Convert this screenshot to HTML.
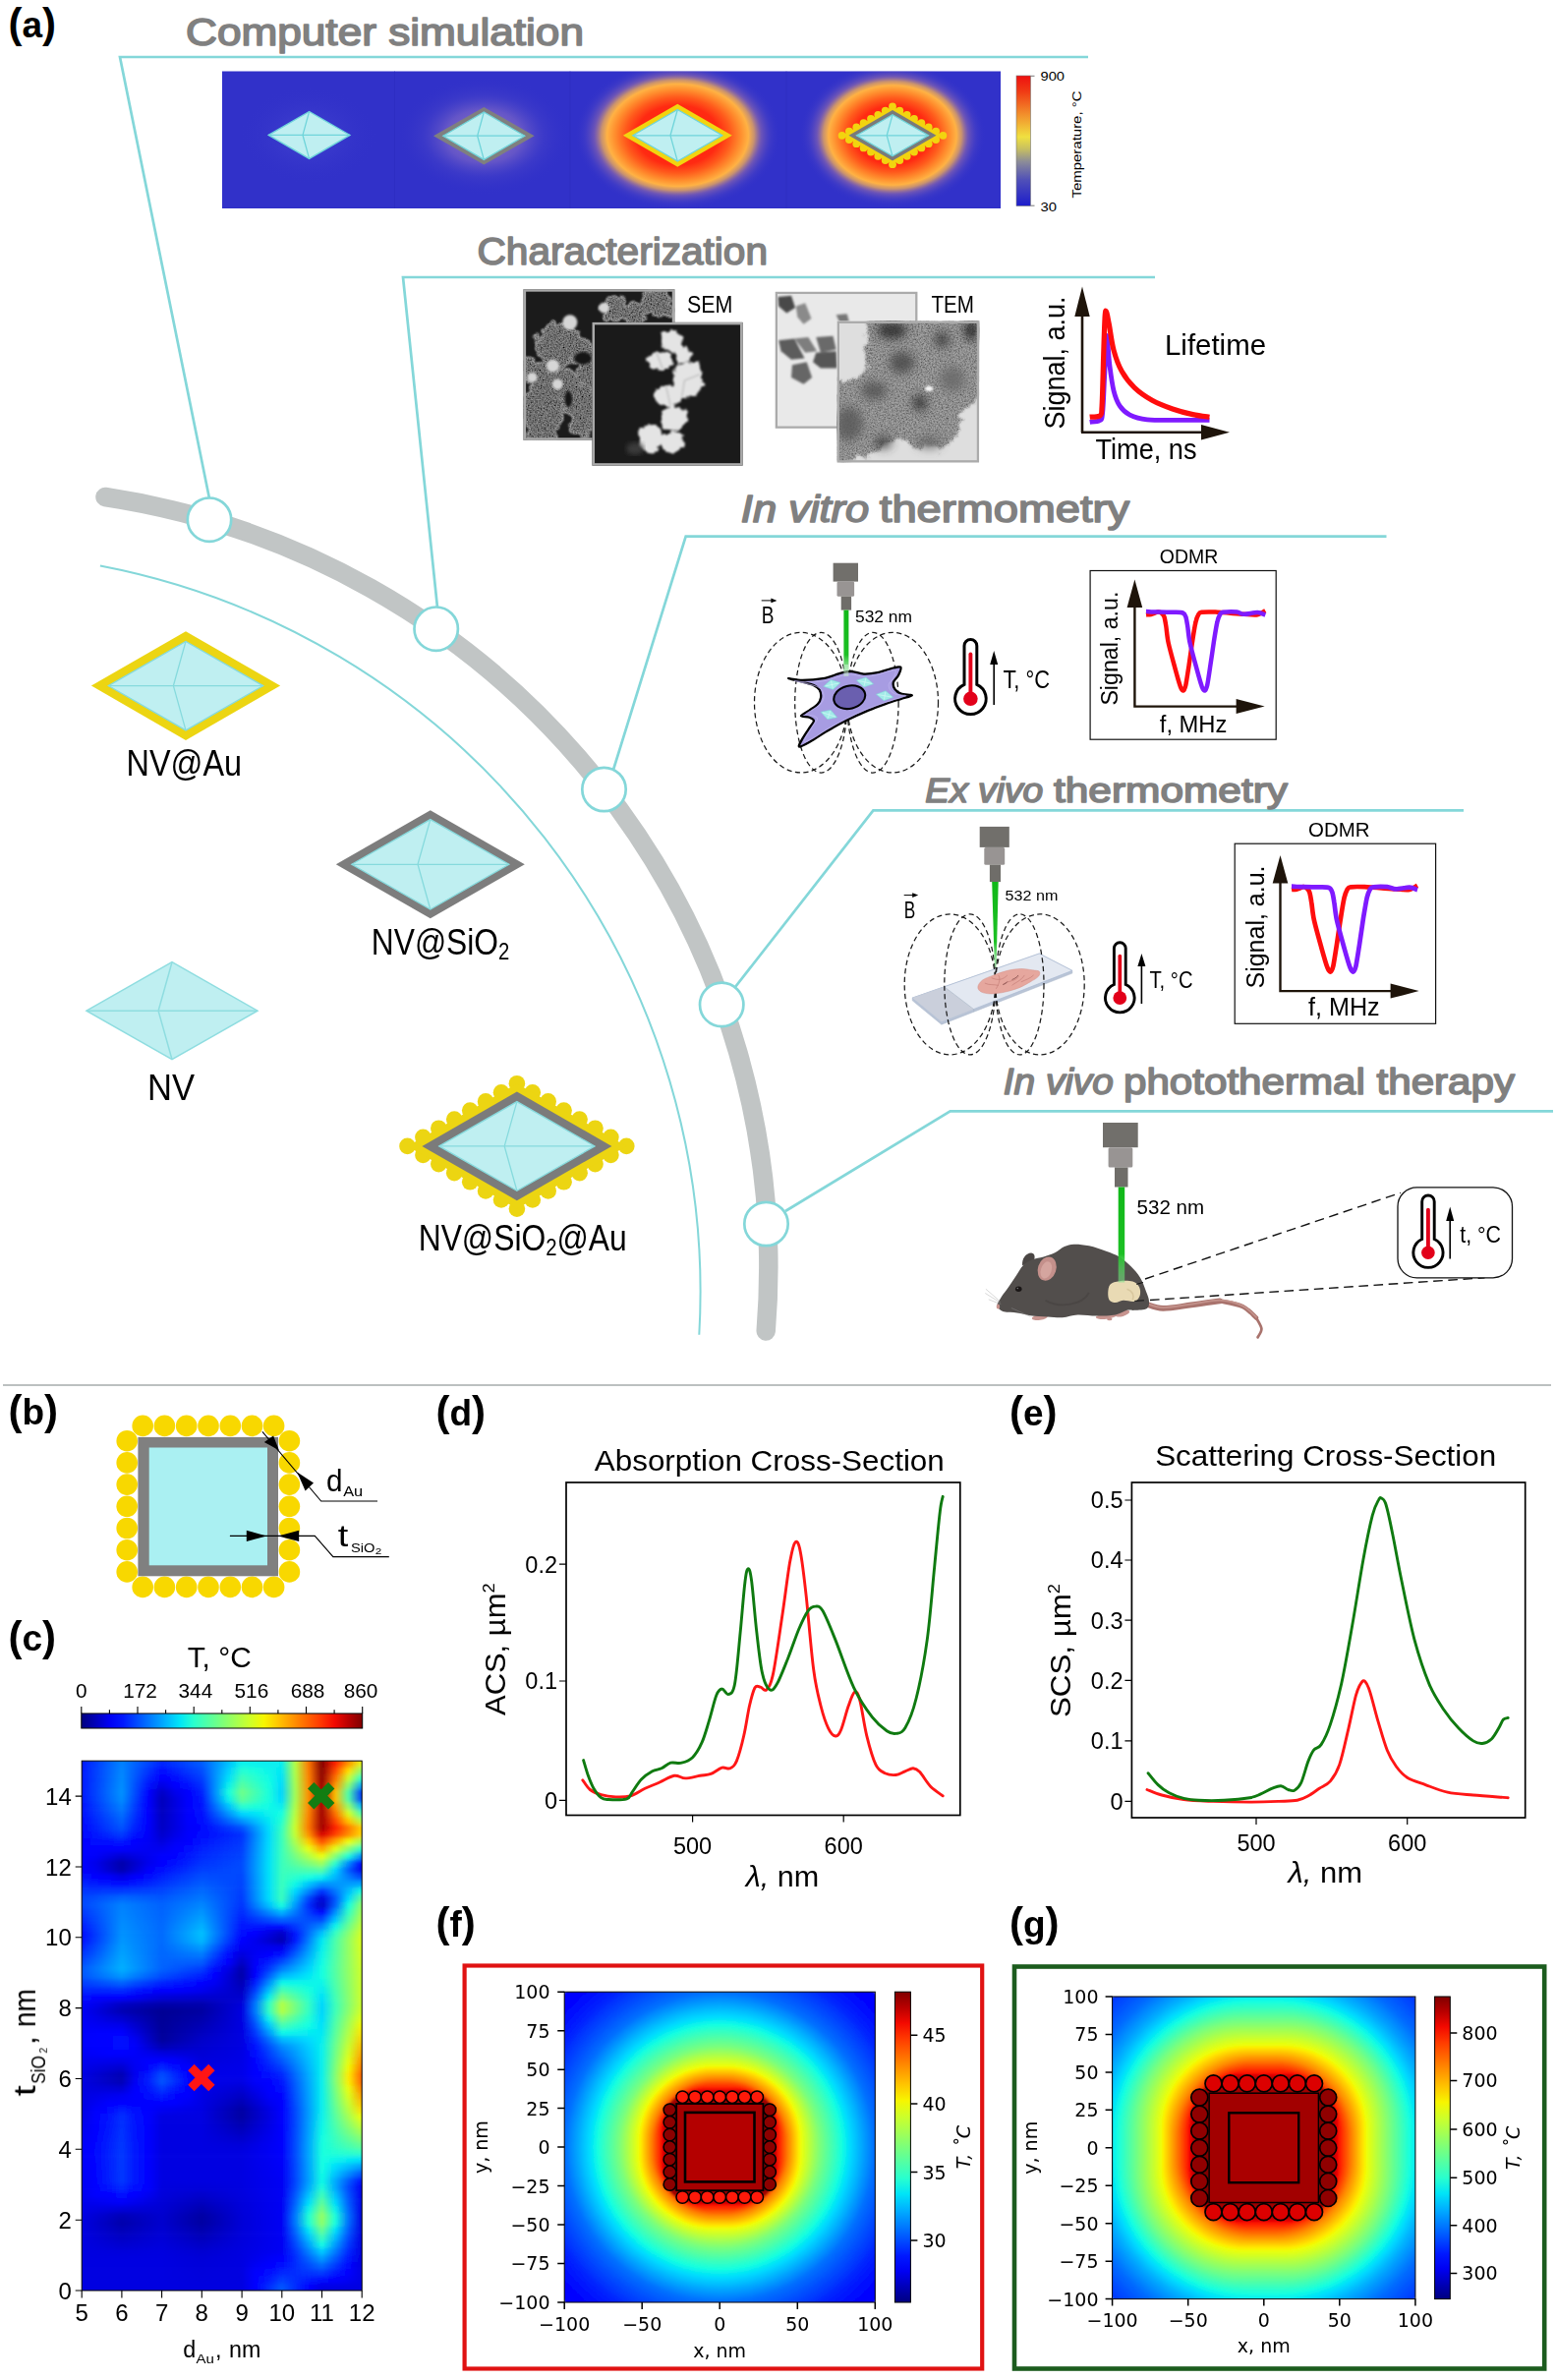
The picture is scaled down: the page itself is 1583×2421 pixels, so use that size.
<!DOCTYPE html>
<html lang="en"><head><meta charset="utf-8"><title>Figure</title>
<style>
html,body{margin:0;padding:0;background:#fff}
svg{display:block}
text{font-family:"Liberation Sans",Arial,sans-serif}
.dj{font-family:"DejaVu Sans","Liberation Sans",sans-serif}
</style></head><body>
<svg width="1583" height="2421" viewBox="0 0 1583 2421">
<defs>
<radialGradient id="glow"><stop offset="0" stop-color="#ff1a10"/><stop offset="0.40" stop-color="#ff2a12"/><stop offset="0.51" stop-color="#ff5a1c"/><stop offset="0.61" stop-color="#ff8e2e"/><stop offset="0.685" stop-color="#ffb244"/><stop offset="0.74" stop-color="#e4a45e" stop-opacity="0.85"/><stop offset="0.81" stop-color="#a878a4" stop-opacity="0.5"/><stop offset="0.9" stop-color="#6a58c0" stop-opacity="0.22"/><stop offset="1" stop-color="#3131c9" stop-opacity="0"/></radialGradient>
<radialGradient id="softglow"><stop offset="0" stop-color="#5a5ad8" stop-opacity="0.5"/><stop offset="1" stop-color="#3131c9" stop-opacity="0"/></radialGradient>
<radialGradient id="pinkglow"><stop offset="0" stop-color="#e0b0c4" stop-opacity="0.6"/><stop offset="0.45" stop-color="#c096c4" stop-opacity="0.36"/><stop offset="0.7" stop-color="#7868c8" stop-opacity="0.14"/><stop offset="1" stop-color="#3131c9" stop-opacity="0"/></radialGradient>
<clipPath id="stripclip"><rect x="226" y="72.5" width="792" height="139.5"/></clipPath>
<linearGradient id="cb1" x1="0" y1="0" x2="0" y2="1"><stop offset="0" stop-color="#ee1010"/><stop offset="0.12" stop-color="#f03a14"/><stop offset="0.3" stop-color="#f2902c"/><stop offset="0.47" stop-color="#f0e040"/><stop offset="0.56" stop-color="#c8c060"/><stop offset="0.66" stop-color="#8c8c98"/><stop offset="0.8" stop-color="#5050b8"/><stop offset="1" stop-color="#1c1ccc"/></linearGradient>
<filter id="speck" x="0" y="0" width="100%" height="100%"><feTurbulence type="fractalNoise" baseFrequency="0.22" numOctaves="2" seed="3" result="n"/><feColorMatrix in="n" type="matrix" values="1.6 0 0 0 -0.25  1.6 0 0 0 -0.25  1.6 0 0 0 -0.25  0 0 0 0 1" result="g"/><feComposite in="g" in2="SourceGraphic" operator="in" result="c"/><feBlend in="c" in2="SourceGraphic" mode="multiply"/></filter>
<filter id="speck2" x="0" y="0" width="100%" height="100%"><feTurbulence type="fractalNoise" baseFrequency="0.2" numOctaves="3" seed="8" result="n"/><feColorMatrix in="n" type="matrix" values="1.4 0 0 0 0.05  1.4 0 0 0 0.05  1.4 0 0 0 0.05  0 0 0 0 1" result="g"/><feComposite in="g" in2="SourceGraphic" operator="in" result="c"/><feBlend in="c" in2="SourceGraphic" mode="multiply"/></filter>
<filter id="b1"><feGaussianBlur stdDeviation="1"/></filter>
<filter id="rough" x="-10%" y="-10%" width="120%" height="120%"><feTurbulence type="fractalNoise" baseFrequency="0.035" numOctaves="3" seed="5" result="t"/><feDisplacementMap in="SourceGraphic" in2="t" scale="46" xChannelSelector="R" yChannelSelector="G"/><feGaussianBlur stdDeviation="3"/></filter>
<filter id="rough2" x="-10%" y="-10%" width="120%" height="120%"><feTurbulence type="fractalNoise" baseFrequency="0.05" numOctaves="2" seed="11" result="t"/><feDisplacementMap in="SourceGraphic" in2="t" scale="22" xChannelSelector="R" yChannelSelector="G"/><feGaussianBlur stdDeviation="3.5"/></filter>
<filter id="s2"><feGaussianBlur stdDeviation="4"/></filter>
<filter id="s3"><feGaussianBlur stdDeviation="9"/></filter>
<filter id="s6"><feGaussianBlur stdDeviation="16"/></filter>
<filter id="b2"><feGaussianBlur stdDeviation="2"/></filter>
<filter id="b3"><feGaussianBlur stdDeviation="3.5"/></filter>
<filter id="b6"><feGaussianBlur stdDeviation="6"/></filter>
<clipPath id="semb"><rect x="40" y="45" width="488" height="488"/></clipPath>
<clipPath id="semf"><rect x="262" y="152" width="486" height="463"/></clipPath>
<clipPath id="temb"><rect x="853" y="53" width="460" height="442"/></clipPath>
<clipPath id="temf"><rect x="1053" y="148" width="459" height="457"/></clipPath>
<linearGradient id="beam" x1="0" y1="0" x2="0" y2="1"><stop offset="0" stop-color="#10b818"/><stop offset="0.7" stop-color="#1cc024"/><stop offset="1" stop-color="#7fe08a" stop-opacity="0.55"/></linearGradient>
<linearGradient id="jetH"><stop offset="0.000" stop-color="#000080"/><stop offset="0.050" stop-color="#0000b9"/><stop offset="0.100" stop-color="#0000f3"/><stop offset="0.150" stop-color="#0019ff"/><stop offset="0.200" stop-color="#004dff"/><stop offset="0.250" stop-color="#0080ff"/><stop offset="0.300" stop-color="#00b2ff"/><stop offset="0.350" stop-color="#00e5f7"/><stop offset="0.400" stop-color="#29ffce"/><stop offset="0.450" stop-color="#52ffa5"/><stop offset="0.500" stop-color="#7bff7b"/><stop offset="0.550" stop-color="#a5ff52"/><stop offset="0.600" stop-color="#ceff29"/><stop offset="0.650" stop-color="#f7f600"/><stop offset="0.700" stop-color="#ffc600"/><stop offset="0.750" stop-color="#ff9700"/><stop offset="0.800" stop-color="#ff6800"/><stop offset="0.850" stop-color="#ff3900"/><stop offset="0.900" stop-color="#f30900"/><stop offset="0.950" stop-color="#b90000"/><stop offset="1.000" stop-color="#800000"/></linearGradient>
<linearGradient id="jetV" x1="0" y1="1" x2="0" y2="0"><stop offset="0.000" stop-color="#000080"/><stop offset="0.050" stop-color="#0000b9"/><stop offset="0.100" stop-color="#0000f3"/><stop offset="0.150" stop-color="#0019ff"/><stop offset="0.200" stop-color="#004dff"/><stop offset="0.250" stop-color="#0080ff"/><stop offset="0.300" stop-color="#00b2ff"/><stop offset="0.350" stop-color="#00e5f7"/><stop offset="0.400" stop-color="#29ffce"/><stop offset="0.450" stop-color="#52ffa5"/><stop offset="0.500" stop-color="#7bff7b"/><stop offset="0.550" stop-color="#a5ff52"/><stop offset="0.600" stop-color="#ceff29"/><stop offset="0.650" stop-color="#f7f600"/><stop offset="0.700" stop-color="#ffc600"/><stop offset="0.750" stop-color="#ff9700"/><stop offset="0.800" stop-color="#ff6800"/><stop offset="0.850" stop-color="#ff3900"/><stop offset="0.900" stop-color="#f30900"/><stop offset="0.950" stop-color="#b90000"/><stop offset="1.000" stop-color="#800000"/></linearGradient>
<clipPath id="hmclip"><rect x="83.2" y="1791.2" width="285" height="538.8"/></clipPath>
<filter id="vb" x="-5%" y="-5%" width="110%" height="110%"><feGaussianBlur stdDeviation="1.6 2.2"/></filter>
<linearGradient id="h0" gradientUnits="userSpaceOnUse" x1="83.2" x2="368.2"><stop offset="0.000" stop-color="#0019ff"/><stop offset="0.048" stop-color="#003cff"/><stop offset="0.095" stop-color="#005eff"/><stop offset="0.143" stop-color="#0080ff"/><stop offset="0.190" stop-color="#0064ff"/><stop offset="0.238" stop-color="#0049ff"/><stop offset="0.286" stop-color="#002eff"/><stop offset="0.333" stop-color="#003fff"/><stop offset="0.381" stop-color="#0050ff"/><stop offset="0.429" stop-color="#0061ff"/><stop offset="0.476" stop-color="#008dff"/><stop offset="0.524" stop-color="#00b9ff"/><stop offset="0.571" stop-color="#00e5f7"/><stop offset="0.619" stop-color="#03e9f4"/><stop offset="0.667" stop-color="#05ecf1"/><stop offset="0.714" stop-color="#08f0ef"/><stop offset="0.762" stop-color="#b8ff3f"/><stop offset="0.810" stop-color="#ff7400"/><stop offset="0.857" stop-color="#800000"/><stop offset="0.905" stop-color="#fb1000"/><stop offset="0.952" stop-color="#ff7400"/><stop offset="1" stop-color="#ffd900"/></linearGradient>
<linearGradient id="h1" gradientUnits="userSpaceOnUse" x1="83.2" x2="368.2"><stop offset="0.000" stop-color="#0019ff"/><stop offset="0.048" stop-color="#003cff"/><stop offset="0.095" stop-color="#005eff"/><stop offset="0.143" stop-color="#0080ff"/><stop offset="0.190" stop-color="#0064ff"/><stop offset="0.238" stop-color="#0049ff"/><stop offset="0.286" stop-color="#002eff"/><stop offset="0.333" stop-color="#003fff"/><stop offset="0.381" stop-color="#0050ff"/><stop offset="0.429" stop-color="#0061ff"/><stop offset="0.476" stop-color="#008dff"/><stop offset="0.524" stop-color="#00b9ff"/><stop offset="0.571" stop-color="#00e5f7"/><stop offset="0.619" stop-color="#03e9f4"/><stop offset="0.667" stop-color="#05ecf1"/><stop offset="0.714" stop-color="#08f0ef"/><stop offset="0.762" stop-color="#b8ff3f"/><stop offset="0.810" stop-color="#ff7400"/><stop offset="0.857" stop-color="#800000"/><stop offset="0.905" stop-color="#fb1000"/><stop offset="0.952" stop-color="#ff7400"/><stop offset="1" stop-color="#ffd900"/></linearGradient>
<linearGradient id="h2" gradientUnits="userSpaceOnUse" x1="83.2" x2="368.2"><stop offset="0.000" stop-color="#001aff"/><stop offset="0.048" stop-color="#003cff"/><stop offset="0.095" stop-color="#005fff"/><stop offset="0.143" stop-color="#0082ff"/><stop offset="0.190" stop-color="#0062ff"/><stop offset="0.238" stop-color="#0042ff"/><stop offset="0.286" stop-color="#0022ff"/><stop offset="0.333" stop-color="#0034ff"/><stop offset="0.381" stop-color="#0047ff"/><stop offset="0.429" stop-color="#005aff"/><stop offset="0.476" stop-color="#008dff"/><stop offset="0.524" stop-color="#00c1ff"/><stop offset="0.571" stop-color="#0cf5ea"/><stop offset="0.619" stop-color="#0af2ed"/><stop offset="0.667" stop-color="#08efef"/><stop offset="0.714" stop-color="#06edf1"/><stop offset="0.762" stop-color="#b5ff42"/><stop offset="0.810" stop-color="#ff7700"/><stop offset="0.857" stop-color="#830000"/><stop offset="0.905" stop-color="#ff2300"/><stop offset="0.952" stop-color="#ff9900"/><stop offset="1" stop-color="#e1ff15"/></linearGradient>
<linearGradient id="h3" gradientUnits="userSpaceOnUse" x1="83.2" x2="368.2"><stop offset="0.000" stop-color="#0019ff"/><stop offset="0.048" stop-color="#003eff"/><stop offset="0.095" stop-color="#0062ff"/><stop offset="0.143" stop-color="#0086ff"/><stop offset="0.190" stop-color="#005cff"/><stop offset="0.238" stop-color="#0033ff"/><stop offset="0.286" stop-color="#0009ff"/><stop offset="0.333" stop-color="#001fff"/><stop offset="0.381" stop-color="#0035ff"/><stop offset="0.429" stop-color="#004bff"/><stop offset="0.476" stop-color="#008eff"/><stop offset="0.524" stop-color="#00d1ff"/><stop offset="0.571" stop-color="#25ffd2"/><stop offset="0.619" stop-color="#19ffde"/><stop offset="0.667" stop-color="#0df5ea"/><stop offset="0.714" stop-color="#01e7f6"/><stop offset="0.762" stop-color="#b0ff46"/><stop offset="0.810" stop-color="#ff7d00"/><stop offset="0.857" stop-color="#8a0000"/><stop offset="0.905" stop-color="#ff4a00"/><stop offset="0.952" stop-color="#ffe100"/><stop offset="1" stop-color="#85ff72"/></linearGradient>
<linearGradient id="h4" gradientUnits="userSpaceOnUse" x1="83.2" x2="368.2"><stop offset="0.000" stop-color="#0019ff"/><stop offset="0.048" stop-color="#003fff"/><stop offset="0.095" stop-color="#0064ff"/><stop offset="0.143" stop-color="#008aff"/><stop offset="0.190" stop-color="#0057ff"/><stop offset="0.238" stop-color="#0024ff"/><stop offset="0.286" stop-color="#0000ff"/><stop offset="0.333" stop-color="#000aff"/><stop offset="0.381" stop-color="#0024ff"/><stop offset="0.429" stop-color="#003dff"/><stop offset="0.476" stop-color="#008fff"/><stop offset="0.524" stop-color="#00e0fb"/><stop offset="0.571" stop-color="#3effb9"/><stop offset="0.619" stop-color="#28ffcf"/><stop offset="0.667" stop-color="#12fce5"/><stop offset="0.714" stop-color="#00e0fb"/><stop offset="0.762" stop-color="#abff4b"/><stop offset="0.810" stop-color="#ff8300"/><stop offset="0.857" stop-color="#910000"/><stop offset="0.905" stop-color="#ff7100"/><stop offset="0.952" stop-color="#caff2d"/><stop offset="1" stop-color="#29ffce"/></linearGradient>
<linearGradient id="h5" gradientUnits="userSpaceOnUse" x1="83.2" x2="368.2"><stop offset="0.000" stop-color="#0019ff"/><stop offset="0.048" stop-color="#0040ff"/><stop offset="0.095" stop-color="#0067ff"/><stop offset="0.143" stop-color="#008eff"/><stop offset="0.190" stop-color="#0051ff"/><stop offset="0.238" stop-color="#0015ff"/><stop offset="0.286" stop-color="#0000e3"/><stop offset="0.333" stop-color="#0000ff"/><stop offset="0.381" stop-color="#0012ff"/><stop offset="0.429" stop-color="#002fff"/><stop offset="0.476" stop-color="#008fff"/><stop offset="0.524" stop-color="#08f0ee"/><stop offset="0.571" stop-color="#56ffa0"/><stop offset="0.619" stop-color="#37ffc0"/><stop offset="0.667" stop-color="#17ffe0"/><stop offset="0.714" stop-color="#00daff"/><stop offset="0.762" stop-color="#a6ff50"/><stop offset="0.810" stop-color="#ff8800"/><stop offset="0.857" stop-color="#980000"/><stop offset="0.905" stop-color="#ff9800"/><stop offset="0.952" stop-color="#8aff6c"/><stop offset="1" stop-color="#00a6ff"/></linearGradient>
<linearGradient id="h6" gradientUnits="userSpaceOnUse" x1="83.2" x2="368.2"><stop offset="0.000" stop-color="#0019ff"/><stop offset="0.048" stop-color="#0042ff"/><stop offset="0.095" stop-color="#006aff"/><stop offset="0.143" stop-color="#0092ff"/><stop offset="0.190" stop-color="#004cff"/><stop offset="0.238" stop-color="#0006ff"/><stop offset="0.286" stop-color="#0000c7"/><stop offset="0.333" stop-color="#0000ec"/><stop offset="0.381" stop-color="#0000ff"/><stop offset="0.429" stop-color="#0021ff"/><stop offset="0.476" stop-color="#0090ff"/><stop offset="0.524" stop-color="#15ffe2"/><stop offset="0.571" stop-color="#6fff88"/><stop offset="0.619" stop-color="#45ffb1"/><stop offset="0.667" stop-color="#1cffdb"/><stop offset="0.714" stop-color="#00d4ff"/><stop offset="0.762" stop-color="#a2ff55"/><stop offset="0.810" stop-color="#ff8e00"/><stop offset="0.857" stop-color="#9f0000"/><stop offset="0.905" stop-color="#ffbf00"/><stop offset="0.952" stop-color="#4bffab"/><stop offset="1" stop-color="#0034ff"/></linearGradient>
<linearGradient id="h7" gradientUnits="userSpaceOnUse" x1="83.2" x2="368.2"><stop offset="0.000" stop-color="#0017ff"/><stop offset="0.048" stop-color="#003fff"/><stop offset="0.095" stop-color="#0066ff"/><stop offset="0.143" stop-color="#008dff"/><stop offset="0.190" stop-color="#0045ff"/><stop offset="0.238" stop-color="#0000ff"/><stop offset="0.286" stop-color="#0000bb"/><stop offset="0.333" stop-color="#0000e0"/><stop offset="0.381" stop-color="#0000ff"/><stop offset="0.429" stop-color="#0017ff"/><stop offset="0.476" stop-color="#0084ff"/><stop offset="0.524" stop-color="#09f0ee"/><stop offset="0.571" stop-color="#60ff97"/><stop offset="0.619" stop-color="#3dffba"/><stop offset="0.667" stop-color="#1affdd"/><stop offset="0.714" stop-color="#00daff"/><stop offset="0.762" stop-color="#a4ff53"/><stop offset="0.810" stop-color="#ff8e00"/><stop offset="0.857" stop-color="#a20000"/><stop offset="0.905" stop-color="#ffbf00"/><stop offset="0.952" stop-color="#4effa8"/><stop offset="1" stop-color="#003bff"/></linearGradient>
<linearGradient id="h8" gradientUnits="userSpaceOnUse" x1="83.2" x2="368.2"><stop offset="0.000" stop-color="#0013ff"/><stop offset="0.048" stop-color="#0037ff"/><stop offset="0.095" stop-color="#005bff"/><stop offset="0.143" stop-color="#007eff"/><stop offset="0.190" stop-color="#003cff"/><stop offset="0.238" stop-color="#0000ff"/><stop offset="0.286" stop-color="#0000bd"/><stop offset="0.333" stop-color="#0000e0"/><stop offset="0.381" stop-color="#0000ff"/><stop offset="0.429" stop-color="#0013ff"/><stop offset="0.476" stop-color="#006bff"/><stop offset="0.524" stop-color="#00c2ff"/><stop offset="0.571" stop-color="#2affcd"/><stop offset="0.619" stop-color="#1effd9"/><stop offset="0.667" stop-color="#12fce5"/><stop offset="0.714" stop-color="#06edf1"/><stop offset="0.762" stop-color="#aeff49"/><stop offset="0.810" stop-color="#ff8800"/><stop offset="0.857" stop-color="#a20000"/><stop offset="0.905" stop-color="#ff9700"/><stop offset="0.952" stop-color="#94ff63"/><stop offset="1" stop-color="#00bcff"/></linearGradient>
<linearGradient id="h9" gradientUnits="userSpaceOnUse" x1="83.2" x2="368.2"><stop offset="0.000" stop-color="#000fff"/><stop offset="0.048" stop-color="#0030ff"/><stop offset="0.095" stop-color="#0050ff"/><stop offset="0.143" stop-color="#0070ff"/><stop offset="0.190" stop-color="#0033ff"/><stop offset="0.238" stop-color="#0000ff"/><stop offset="0.286" stop-color="#0000bf"/><stop offset="0.333" stop-color="#0000e0"/><stop offset="0.381" stop-color="#0000ff"/><stop offset="0.429" stop-color="#000fff"/><stop offset="0.476" stop-color="#0052ff"/><stop offset="0.524" stop-color="#0094ff"/><stop offset="0.571" stop-color="#00d6ff"/><stop offset="0.619" stop-color="#00e4f8"/><stop offset="0.667" stop-color="#0af1ed"/><stop offset="0.714" stop-color="#15ffe2"/><stop offset="0.762" stop-color="#b8ff3f"/><stop offset="0.810" stop-color="#ff8300"/><stop offset="0.857" stop-color="#a20000"/><stop offset="0.905" stop-color="#ff7000"/><stop offset="0.952" stop-color="#d9ff1e"/><stop offset="1" stop-color="#46ffb1"/></linearGradient>
<linearGradient id="h10" gradientUnits="userSpaceOnUse" x1="83.2" x2="368.2"><stop offset="0.000" stop-color="#000bff"/><stop offset="0.048" stop-color="#0028ff"/><stop offset="0.095" stop-color="#0045ff"/><stop offset="0.143" stop-color="#0062ff"/><stop offset="0.190" stop-color="#002aff"/><stop offset="0.238" stop-color="#0000ff"/><stop offset="0.286" stop-color="#0000c2"/><stop offset="0.333" stop-color="#0000e0"/><stop offset="0.381" stop-color="#0000ff"/><stop offset="0.429" stop-color="#000bff"/><stop offset="0.476" stop-color="#0038ff"/><stop offset="0.524" stop-color="#0066ff"/><stop offset="0.571" stop-color="#0093ff"/><stop offset="0.619" stop-color="#00bdff"/><stop offset="0.667" stop-color="#01e7f5"/><stop offset="0.714" stop-color="#23ffd3"/><stop offset="0.762" stop-color="#c2ff35"/><stop offset="0.810" stop-color="#ff7d00"/><stop offset="0.857" stop-color="#a20000"/><stop offset="0.905" stop-color="#ff4800"/><stop offset="0.952" stop-color="#ffc900"/><stop offset="1" stop-color="#aeff49"/></linearGradient>
<linearGradient id="h11" gradientUnits="userSpaceOnUse" x1="83.2" x2="368.2"><stop offset="0.000" stop-color="#0007ff"/><stop offset="0.048" stop-color="#0021ff"/><stop offset="0.095" stop-color="#003aff"/><stop offset="0.143" stop-color="#0054ff"/><stop offset="0.190" stop-color="#0021ff"/><stop offset="0.238" stop-color="#0000fd"/><stop offset="0.286" stop-color="#0000c4"/><stop offset="0.333" stop-color="#0000e0"/><stop offset="0.381" stop-color="#0000fc"/><stop offset="0.429" stop-color="#0007ff"/><stop offset="0.476" stop-color="#001fff"/><stop offset="0.524" stop-color="#0037ff"/><stop offset="0.571" stop-color="#0050ff"/><stop offset="0.619" stop-color="#0096ff"/><stop offset="0.667" stop-color="#00ddfe"/><stop offset="0.714" stop-color="#32ffc5"/><stop offset="0.762" stop-color="#cbff2b"/><stop offset="0.810" stop-color="#ff7700"/><stop offset="0.857" stop-color="#a20000"/><stop offset="0.905" stop-color="#ff2000"/><stop offset="0.952" stop-color="#ff7a00"/><stop offset="1" stop-color="#ffd300"/></linearGradient>
<linearGradient id="h12" gradientUnits="userSpaceOnUse" x1="83.2" x2="368.2"><stop offset="0.000" stop-color="#0004ff"/><stop offset="0.048" stop-color="#0016ff"/><stop offset="0.095" stop-color="#0028ff"/><stop offset="0.143" stop-color="#003aff"/><stop offset="0.190" stop-color="#0013ff"/><stop offset="0.238" stop-color="#0000fa"/><stop offset="0.286" stop-color="#0000cd"/><stop offset="0.333" stop-color="#0000e7"/><stop offset="0.381" stop-color="#0000ff"/><stop offset="0.429" stop-color="#000aff"/><stop offset="0.476" stop-color="#0017ff"/><stop offset="0.524" stop-color="#0024ff"/><stop offset="0.571" stop-color="#0031ff"/><stop offset="0.619" stop-color="#0085ff"/><stop offset="0.667" stop-color="#00d9ff"/><stop offset="0.714" stop-color="#3affbd"/><stop offset="0.762" stop-color="#c3ff33"/><stop offset="0.810" stop-color="#ff9200"/><stop offset="0.857" stop-color="#d90000"/><stop offset="0.905" stop-color="#ff4000"/><stop offset="0.952" stop-color="#ff8d00"/><stop offset="1" stop-color="#ffd900"/></linearGradient>
<linearGradient id="h13" gradientUnits="userSpaceOnUse" x1="83.2" x2="368.2"><stop offset="0.000" stop-color="#0002ff"/><stop offset="0.048" stop-color="#0009ff"/><stop offset="0.095" stop-color="#000fff"/><stop offset="0.143" stop-color="#0015ff"/><stop offset="0.190" stop-color="#0000ff"/><stop offset="0.238" stop-color="#0000f6"/><stop offset="0.286" stop-color="#0000dd"/><stop offset="0.333" stop-color="#0000f6"/><stop offset="0.381" stop-color="#0000ff"/><stop offset="0.429" stop-color="#0014ff"/><stop offset="0.476" stop-color="#0020ff"/><stop offset="0.524" stop-color="#002cff"/><stop offset="0.571" stop-color="#0037ff"/><stop offset="0.619" stop-color="#0089ff"/><stop offset="0.667" stop-color="#00dbff"/><stop offset="0.714" stop-color="#3affbd"/><stop offset="0.762" stop-color="#aaff4d"/><stop offset="0.810" stop-color="#ffcd00"/><stop offset="0.857" stop-color="#ff4d00"/><stop offset="0.905" stop-color="#ffa700"/><stop offset="0.952" stop-color="#ecff0b"/><stop offset="1" stop-color="#9cff5a"/></linearGradient>
<linearGradient id="h14" gradientUnits="userSpaceOnUse" x1="83.2" x2="368.2"><stop offset="0.000" stop-color="#0000ff"/><stop offset="0.048" stop-color="#0000ff"/><stop offset="0.095" stop-color="#0000ff"/><stop offset="0.143" stop-color="#0000ff"/><stop offset="0.190" stop-color="#0000f9"/><stop offset="0.238" stop-color="#0000f3"/><stop offset="0.286" stop-color="#0000ee"/><stop offset="0.333" stop-color="#0000ff"/><stop offset="0.381" stop-color="#000aff"/><stop offset="0.429" stop-color="#001fff"/><stop offset="0.476" stop-color="#0029ff"/><stop offset="0.524" stop-color="#0033ff"/><stop offset="0.571" stop-color="#003dff"/><stop offset="0.619" stop-color="#008dff"/><stop offset="0.667" stop-color="#00ddfe"/><stop offset="0.714" stop-color="#3affbd"/><stop offset="0.762" stop-color="#90ff67"/><stop offset="0.810" stop-color="#e6ff10"/><stop offset="0.857" stop-color="#ffa500"/><stop offset="0.905" stop-color="#e1ff16"/><stop offset="0.952" stop-color="#85ff72"/><stop offset="1" stop-color="#29ffce"/></linearGradient>
<linearGradient id="h15" gradientUnits="userSpaceOnUse" x1="83.2" x2="368.2"><stop offset="0.000" stop-color="#0000ff"/><stop offset="0.048" stop-color="#0000fb"/><stop offset="0.095" stop-color="#0000e8"/><stop offset="0.143" stop-color="#0000d5"/><stop offset="0.190" stop-color="#0000e3"/><stop offset="0.238" stop-color="#0000f0"/><stop offset="0.286" stop-color="#0000fe"/><stop offset="0.333" stop-color="#0003ff"/><stop offset="0.381" stop-color="#0016ff"/><stop offset="0.429" stop-color="#0029ff"/><stop offset="0.476" stop-color="#0032ff"/><stop offset="0.524" stop-color="#003aff"/><stop offset="0.571" stop-color="#0043ff"/><stop offset="0.619" stop-color="#0091ff"/><stop offset="0.667" stop-color="#00dffc"/><stop offset="0.714" stop-color="#3affbd"/><stop offset="0.762" stop-color="#76ff81"/><stop offset="0.810" stop-color="#b3ff44"/><stop offset="0.857" stop-color="#effe07"/><stop offset="0.905" stop-color="#87ff70"/><stop offset="0.952" stop-color="#1effd8"/><stop offset="1" stop-color="#008aff"/></linearGradient>
<linearGradient id="h16" gradientUnits="userSpaceOnUse" x1="83.2" x2="368.2"><stop offset="0.000" stop-color="#0000ff"/><stop offset="0.048" stop-color="#0000ec"/><stop offset="0.095" stop-color="#0000cc"/><stop offset="0.143" stop-color="#0000ac"/><stop offset="0.190" stop-color="#0000cc"/><stop offset="0.238" stop-color="#0000ed"/><stop offset="0.286" stop-color="#0000ff"/><stop offset="0.333" stop-color="#0010ff"/><stop offset="0.381" stop-color="#0021ff"/><stop offset="0.429" stop-color="#0033ff"/><stop offset="0.476" stop-color="#003aff"/><stop offset="0.524" stop-color="#0042ff"/><stop offset="0.571" stop-color="#0049ff"/><stop offset="0.619" stop-color="#0095ff"/><stop offset="0.667" stop-color="#00e1fa"/><stop offset="0.714" stop-color="#3affbd"/><stop offset="0.762" stop-color="#5cff9a"/><stop offset="0.810" stop-color="#7fff78"/><stop offset="0.857" stop-color="#a2ff55"/><stop offset="0.905" stop-color="#2dffca"/><stop offset="0.952" stop-color="#008cff"/><stop offset="1" stop-color="#0000ff"/></linearGradient>
<linearGradient id="h17" gradientUnits="userSpaceOnUse" x1="83.2" x2="368.2"><stop offset="0.000" stop-color="#0003ff"/><stop offset="0.048" stop-color="#0000f3"/><stop offset="0.095" stop-color="#0000d2"/><stop offset="0.143" stop-color="#0000b1"/><stop offset="0.190" stop-color="#0000d6"/><stop offset="0.238" stop-color="#0000fc"/><stop offset="0.286" stop-color="#000eff"/><stop offset="0.333" stop-color="#001fff"/><stop offset="0.381" stop-color="#002fff"/><stop offset="0.429" stop-color="#003fff"/><stop offset="0.476" stop-color="#0043ff"/><stop offset="0.524" stop-color="#0047ff"/><stop offset="0.571" stop-color="#004aff"/><stop offset="0.619" stop-color="#0096ff"/><stop offset="0.667" stop-color="#00e1fa"/><stop offset="0.714" stop-color="#3affbd"/><stop offset="0.762" stop-color="#43ffb4"/><stop offset="0.810" stop-color="#4cffab"/><stop offset="0.857" stop-color="#55ffa2"/><stop offset="0.905" stop-color="#00d6ff"/><stop offset="0.952" stop-color="#005cff"/><stop offset="1" stop-color="#0000f0"/></linearGradient>
<linearGradient id="h18" gradientUnits="userSpaceOnUse" x1="83.2" x2="368.2"><stop offset="0.000" stop-color="#0013ff"/><stop offset="0.048" stop-color="#0001ff"/><stop offset="0.095" stop-color="#0000fc"/><stop offset="0.143" stop-color="#0000e7"/><stop offset="0.190" stop-color="#0000ff"/><stop offset="0.238" stop-color="#000aff"/><stop offset="0.286" stop-color="#0021ff"/><stop offset="0.333" stop-color="#0030ff"/><stop offset="0.381" stop-color="#003fff"/><stop offset="0.429" stop-color="#004eff"/><stop offset="0.476" stop-color="#004bff"/><stop offset="0.524" stop-color="#0049ff"/><stop offset="0.571" stop-color="#0046ff"/><stop offset="0.619" stop-color="#0093ff"/><stop offset="0.667" stop-color="#00e0fb"/><stop offset="0.714" stop-color="#3affbd"/><stop offset="0.762" stop-color="#29ffce"/><stop offset="0.810" stop-color="#18ffdf"/><stop offset="0.857" stop-color="#07efef"/><stop offset="0.905" stop-color="#00b6ff"/><stop offset="0.952" stop-color="#007cff"/><stop offset="1" stop-color="#0043ff"/></linearGradient>
<linearGradient id="h19" gradientUnits="userSpaceOnUse" x1="83.2" x2="368.2"><stop offset="0.000" stop-color="#0024ff"/><stop offset="0.048" stop-color="#001bff"/><stop offset="0.095" stop-color="#0013ff"/><stop offset="0.143" stop-color="#000aff"/><stop offset="0.190" stop-color="#0018ff"/><stop offset="0.238" stop-color="#0025ff"/><stop offset="0.286" stop-color="#0033ff"/><stop offset="0.333" stop-color="#0041ff"/><stop offset="0.381" stop-color="#004eff"/><stop offset="0.429" stop-color="#005cff"/><stop offset="0.476" stop-color="#0053ff"/><stop offset="0.524" stop-color="#004bff"/><stop offset="0.571" stop-color="#0042ff"/><stop offset="0.619" stop-color="#0090ff"/><stop offset="0.667" stop-color="#00dffc"/><stop offset="0.714" stop-color="#3affbd"/><stop offset="0.762" stop-color="#0ff8e8"/><stop offset="0.810" stop-color="#00c3ff"/><stop offset="0.857" stop-color="#008fff"/><stop offset="0.905" stop-color="#0096ff"/><stop offset="0.952" stop-color="#009cff"/><stop offset="1" stop-color="#00a3ff"/></linearGradient>
<linearGradient id="h20" gradientUnits="userSpaceOnUse" x1="83.2" x2="368.2"><stop offset="0.000" stop-color="#0034ff"/><stop offset="0.048" stop-color="#0036ff"/><stop offset="0.095" stop-color="#0037ff"/><stop offset="0.143" stop-color="#0039ff"/><stop offset="0.190" stop-color="#003dff"/><stop offset="0.238" stop-color="#0041ff"/><stop offset="0.286" stop-color="#0045ff"/><stop offset="0.333" stop-color="#0052ff"/><stop offset="0.381" stop-color="#005eff"/><stop offset="0.429" stop-color="#006aff"/><stop offset="0.476" stop-color="#005bff"/><stop offset="0.524" stop-color="#004dff"/><stop offset="0.571" stop-color="#003eff"/><stop offset="0.619" stop-color="#008eff"/><stop offset="0.667" stop-color="#00ddfd"/><stop offset="0.714" stop-color="#3affbd"/><stop offset="0.762" stop-color="#00d8ff"/><stop offset="0.810" stop-color="#0084ff"/><stop offset="0.857" stop-color="#002fff"/><stop offset="0.905" stop-color="#0076ff"/><stop offset="0.952" stop-color="#00bcff"/><stop offset="1" stop-color="#18ffdf"/></linearGradient>
<linearGradient id="h21" gradientUnits="userSpaceOnUse" x1="83.2" x2="368.2"><stop offset="0.000" stop-color="#0044ff"/><stop offset="0.048" stop-color="#0050ff"/><stop offset="0.095" stop-color="#005cff"/><stop offset="0.143" stop-color="#0068ff"/><stop offset="0.190" stop-color="#0063ff"/><stop offset="0.238" stop-color="#005dff"/><stop offset="0.286" stop-color="#0058ff"/><stop offset="0.333" stop-color="#0063ff"/><stop offset="0.381" stop-color="#006dff"/><stop offset="0.429" stop-color="#0078ff"/><stop offset="0.476" stop-color="#0064ff"/><stop offset="0.524" stop-color="#004fff"/><stop offset="0.571" stop-color="#003aff"/><stop offset="0.619" stop-color="#008bff"/><stop offset="0.667" stop-color="#00dcfe"/><stop offset="0.714" stop-color="#3affbd"/><stop offset="0.762" stop-color="#00b8ff"/><stop offset="0.810" stop-color="#0044ff"/><stop offset="0.857" stop-color="#0000d9"/><stop offset="0.905" stop-color="#0056ff"/><stop offset="0.952" stop-color="#00dcfe"/><stop offset="1" stop-color="#65ff92"/></linearGradient>
<linearGradient id="h22" gradientUnits="userSpaceOnUse" x1="83.2" x2="368.2"><stop offset="0.000" stop-color="#0045ff"/><stop offset="0.048" stop-color="#0059ff"/><stop offset="0.095" stop-color="#006dff"/><stop offset="0.143" stop-color="#0082ff"/><stop offset="0.190" stop-color="#0077ff"/><stop offset="0.238" stop-color="#006cff"/><stop offset="0.286" stop-color="#0062ff"/><stop offset="0.333" stop-color="#006eff"/><stop offset="0.381" stop-color="#007aff"/><stop offset="0.429" stop-color="#0087ff"/><stop offset="0.476" stop-color="#006bff"/><stop offset="0.524" stop-color="#004fff"/><stop offset="0.571" stop-color="#0033ff"/><stop offset="0.619" stop-color="#0079ff"/><stop offset="0.667" stop-color="#00beff"/><stop offset="0.714" stop-color="#19ffde"/><stop offset="0.762" stop-color="#0098ff"/><stop offset="0.810" stop-color="#002cff"/><stop offset="0.857" stop-color="#0000c7"/><stop offset="0.905" stop-color="#005fff"/><stop offset="0.952" stop-color="#14fee3"/><stop offset="1" stop-color="#94ff63"/></linearGradient>
<linearGradient id="h23" gradientUnits="userSpaceOnUse" x1="83.2" x2="368.2"><stop offset="0.000" stop-color="#0037ff"/><stop offset="0.048" stop-color="#0051ff"/><stop offset="0.095" stop-color="#006bff"/><stop offset="0.143" stop-color="#0086ff"/><stop offset="0.190" stop-color="#007aff"/><stop offset="0.238" stop-color="#006fff"/><stop offset="0.286" stop-color="#0064ff"/><stop offset="0.333" stop-color="#0074ff"/><stop offset="0.381" stop-color="#0085ff"/><stop offset="0.429" stop-color="#0095ff"/><stop offset="0.476" stop-color="#0071ff"/><stop offset="0.524" stop-color="#004dff"/><stop offset="0.571" stop-color="#0029ff"/><stop offset="0.619" stop-color="#0057ff"/><stop offset="0.667" stop-color="#0085ff"/><stop offset="0.714" stop-color="#00b2ff"/><stop offset="0.762" stop-color="#0077ff"/><stop offset="0.810" stop-color="#003cff"/><stop offset="0.857" stop-color="#0001ff"/><stop offset="0.905" stop-color="#0091ff"/><stop offset="0.952" stop-color="#30ffc7"/><stop offset="1" stop-color="#a5ff52"/></linearGradient>
<linearGradient id="h24" gradientUnits="userSpaceOnUse" x1="83.2" x2="368.2"><stop offset="0.000" stop-color="#0029ff"/><stop offset="0.048" stop-color="#0049ff"/><stop offset="0.095" stop-color="#0069ff"/><stop offset="0.143" stop-color="#008aff"/><stop offset="0.190" stop-color="#007eff"/><stop offset="0.238" stop-color="#0072ff"/><stop offset="0.286" stop-color="#0066ff"/><stop offset="0.333" stop-color="#007aff"/><stop offset="0.381" stop-color="#008fff"/><stop offset="0.429" stop-color="#00a3ff"/><stop offset="0.476" stop-color="#0077ff"/><stop offset="0.524" stop-color="#004bff"/><stop offset="0.571" stop-color="#001fff"/><stop offset="0.619" stop-color="#0035ff"/><stop offset="0.667" stop-color="#004bff"/><stop offset="0.714" stop-color="#0061ff"/><stop offset="0.762" stop-color="#0057ff"/><stop offset="0.810" stop-color="#004dff"/><stop offset="0.857" stop-color="#0042ff"/><stop offset="0.905" stop-color="#00c3ff"/><stop offset="0.952" stop-color="#4dffaa"/><stop offset="1" stop-color="#b5ff42"/></linearGradient>
<linearGradient id="h25" gradientUnits="userSpaceOnUse" x1="83.2" x2="368.2"><stop offset="0.000" stop-color="#001bff"/><stop offset="0.048" stop-color="#0041ff"/><stop offset="0.095" stop-color="#0067ff"/><stop offset="0.143" stop-color="#008eff"/><stop offset="0.190" stop-color="#0081ff"/><stop offset="0.238" stop-color="#0075ff"/><stop offset="0.286" stop-color="#0068ff"/><stop offset="0.333" stop-color="#0081ff"/><stop offset="0.381" stop-color="#0099ff"/><stop offset="0.429" stop-color="#00b1ff"/><stop offset="0.476" stop-color="#007dff"/><stop offset="0.524" stop-color="#0049ff"/><stop offset="0.571" stop-color="#0014ff"/><stop offset="0.619" stop-color="#0013ff"/><stop offset="0.667" stop-color="#0011ff"/><stop offset="0.714" stop-color="#000fff"/><stop offset="0.762" stop-color="#0036ff"/><stop offset="0.810" stop-color="#005dff"/><stop offset="0.857" stop-color="#0084ff"/><stop offset="0.905" stop-color="#0df6ea"/><stop offset="0.952" stop-color="#69ff8d"/><stop offset="1" stop-color="#c5ff31"/></linearGradient>
<linearGradient id="h26" gradientUnits="userSpaceOnUse" x1="83.2" x2="368.2"><stop offset="0.000" stop-color="#000cff"/><stop offset="0.048" stop-color="#0039ff"/><stop offset="0.095" stop-color="#0065ff"/><stop offset="0.143" stop-color="#0092ff"/><stop offset="0.190" stop-color="#0085ff"/><stop offset="0.238" stop-color="#0077ff"/><stop offset="0.286" stop-color="#006aff"/><stop offset="0.333" stop-color="#0087ff"/><stop offset="0.381" stop-color="#00a3ff"/><stop offset="0.429" stop-color="#00c0ff"/><stop offset="0.476" stop-color="#0083ff"/><stop offset="0.524" stop-color="#0047ff"/><stop offset="0.571" stop-color="#000aff"/><stop offset="0.619" stop-color="#0000ff"/><stop offset="0.667" stop-color="#0000e2"/><stop offset="0.714" stop-color="#0000c5"/><stop offset="0.762" stop-color="#0015ff"/><stop offset="0.810" stop-color="#006dff"/><stop offset="0.857" stop-color="#00c5ff"/><stop offset="0.905" stop-color="#36ffc1"/><stop offset="0.952" stop-color="#86ff71"/><stop offset="1" stop-color="#d6ff21"/></linearGradient>
<linearGradient id="h27" gradientUnits="userSpaceOnUse" x1="83.2" x2="368.2"><stop offset="0.000" stop-color="#000eff"/><stop offset="0.048" stop-color="#003cff"/><stop offset="0.095" stop-color="#0069ff"/><stop offset="0.143" stop-color="#0097ff"/><stop offset="0.190" stop-color="#0088ff"/><stop offset="0.238" stop-color="#0079ff"/><stop offset="0.286" stop-color="#006aff"/><stop offset="0.333" stop-color="#0084ff"/><stop offset="0.381" stop-color="#009eff"/><stop offset="0.429" stop-color="#00b8ff"/><stop offset="0.476" stop-color="#0079ff"/><stop offset="0.524" stop-color="#003aff"/><stop offset="0.571" stop-color="#0000ff"/><stop offset="0.619" stop-color="#0000ee"/><stop offset="0.667" stop-color="#0000d1"/><stop offset="0.714" stop-color="#0000b4"/><stop offset="0.762" stop-color="#0017ff"/><stop offset="0.810" stop-color="#0080ff"/><stop offset="0.857" stop-color="#02e9f4"/><stop offset="0.905" stop-color="#4bffac"/><stop offset="0.952" stop-color="#94ff63"/><stop offset="1" stop-color="#dcff1a"/></linearGradient>
<linearGradient id="h28" gradientUnits="userSpaceOnUse" x1="83.2" x2="368.2"><stop offset="0.000" stop-color="#0021ff"/><stop offset="0.048" stop-color="#004aff"/><stop offset="0.095" stop-color="#0074ff"/><stop offset="0.143" stop-color="#009dff"/><stop offset="0.190" stop-color="#008bff"/><stop offset="0.238" stop-color="#007aff"/><stop offset="0.286" stop-color="#0068ff"/><stop offset="0.333" stop-color="#0078ff"/><stop offset="0.381" stop-color="#0089ff"/><stop offset="0.429" stop-color="#0099ff"/><stop offset="0.476" stop-color="#005dff"/><stop offset="0.524" stop-color="#0022ff"/><stop offset="0.571" stop-color="#0000f3"/><stop offset="0.619" stop-color="#0000f1"/><stop offset="0.667" stop-color="#0000f0"/><stop offset="0.714" stop-color="#0000ee"/><stop offset="0.762" stop-color="#003bff"/><stop offset="0.810" stop-color="#0095ff"/><stop offset="0.857" stop-color="#07efef"/><stop offset="0.905" stop-color="#4dffa9"/><stop offset="0.952" stop-color="#93ff64"/><stop offset="1" stop-color="#d9ff1e"/></linearGradient>
<linearGradient id="h29" gradientUnits="userSpaceOnUse" x1="83.2" x2="368.2"><stop offset="0.000" stop-color="#0033ff"/><stop offset="0.048" stop-color="#0058ff"/><stop offset="0.095" stop-color="#007eff"/><stop offset="0.143" stop-color="#00a3ff"/><stop offset="0.190" stop-color="#008fff"/><stop offset="0.238" stop-color="#007aff"/><stop offset="0.286" stop-color="#0066ff"/><stop offset="0.333" stop-color="#006dff"/><stop offset="0.381" stop-color="#0074ff"/><stop offset="0.429" stop-color="#007aff"/><stop offset="0.476" stop-color="#0042ff"/><stop offset="0.524" stop-color="#000aff"/><stop offset="0.571" stop-color="#0000dc"/><stop offset="0.619" stop-color="#0000f5"/><stop offset="0.667" stop-color="#0000ff"/><stop offset="0.714" stop-color="#0014ff"/><stop offset="0.762" stop-color="#005fff"/><stop offset="0.810" stop-color="#00aaff"/><stop offset="0.857" stop-color="#0cf5ea"/><stop offset="0.905" stop-color="#50ffa7"/><stop offset="0.952" stop-color="#93ff64"/><stop offset="1" stop-color="#d6ff21"/></linearGradient>
<linearGradient id="h30" gradientUnits="userSpaceOnUse" x1="83.2" x2="368.2"><stop offset="0.000" stop-color="#0045ff"/><stop offset="0.048" stop-color="#0067ff"/><stop offset="0.095" stop-color="#0088ff"/><stop offset="0.143" stop-color="#00a9ff"/><stop offset="0.190" stop-color="#0092ff"/><stop offset="0.238" stop-color="#007bff"/><stop offset="0.286" stop-color="#0064ff"/><stop offset="0.333" stop-color="#0061ff"/><stop offset="0.381" stop-color="#005fff"/><stop offset="0.429" stop-color="#005cff"/><stop offset="0.476" stop-color="#0027ff"/><stop offset="0.524" stop-color="#0000ff"/><stop offset="0.571" stop-color="#0000c5"/><stop offset="0.619" stop-color="#0000f9"/><stop offset="0.667" stop-color="#001aff"/><stop offset="0.714" stop-color="#0047ff"/><stop offset="0.762" stop-color="#0083ff"/><stop offset="0.810" stop-color="#00bfff"/><stop offset="0.857" stop-color="#11fbe6"/><stop offset="0.905" stop-color="#52ffa5"/><stop offset="0.952" stop-color="#92ff65"/><stop offset="1" stop-color="#d3ff24"/></linearGradient>
<linearGradient id="h31" gradientUnits="userSpaceOnUse" x1="83.2" x2="368.2"><stop offset="0.000" stop-color="#0058ff"/><stop offset="0.048" stop-color="#0075ff"/><stop offset="0.095" stop-color="#0092ff"/><stop offset="0.143" stop-color="#00afff"/><stop offset="0.190" stop-color="#0096ff"/><stop offset="0.238" stop-color="#007cff"/><stop offset="0.286" stop-color="#0062ff"/><stop offset="0.333" stop-color="#0056ff"/><stop offset="0.381" stop-color="#0049ff"/><stop offset="0.429" stop-color="#003dff"/><stop offset="0.476" stop-color="#000cff"/><stop offset="0.524" stop-color="#0000e6"/><stop offset="0.571" stop-color="#0000ae"/><stop offset="0.619" stop-color="#0000fd"/><stop offset="0.667" stop-color="#0035ff"/><stop offset="0.714" stop-color="#007aff"/><stop offset="0.762" stop-color="#00a7ff"/><stop offset="0.810" stop-color="#00d4ff"/><stop offset="0.857" stop-color="#16ffe1"/><stop offset="0.905" stop-color="#54ffa3"/><stop offset="0.952" stop-color="#92ff65"/><stop offset="1" stop-color="#cfff27"/></linearGradient>
<linearGradient id="h32" gradientUnits="userSpaceOnUse" x1="83.2" x2="368.2"><stop offset="0.000" stop-color="#0055ff"/><stop offset="0.048" stop-color="#006bff"/><stop offset="0.095" stop-color="#0081ff"/><stop offset="0.143" stop-color="#0097ff"/><stop offset="0.190" stop-color="#007eff"/><stop offset="0.238" stop-color="#0065ff"/><stop offset="0.286" stop-color="#004cff"/><stop offset="0.333" stop-color="#003dff"/><stop offset="0.381" stop-color="#002eff"/><stop offset="0.429" stop-color="#001fff"/><stop offset="0.476" stop-color="#0000ff"/><stop offset="0.524" stop-color="#0000d7"/><stop offset="0.571" stop-color="#0000a9"/><stop offset="0.619" stop-color="#0000ff"/><stop offset="0.667" stop-color="#005bff"/><stop offset="0.714" stop-color="#00b6ff"/><stop offset="0.762" stop-color="#00ceff"/><stop offset="0.810" stop-color="#01e7f6"/><stop offset="0.857" stop-color="#15ffe2"/><stop offset="0.905" stop-color="#52ffa5"/><stop offset="0.952" stop-color="#90ff67"/><stop offset="1" stop-color="#ceff29"/></linearGradient>
<linearGradient id="h33" gradientUnits="userSpaceOnUse" x1="83.2" x2="368.2"><stop offset="0.000" stop-color="#003cff"/><stop offset="0.048" stop-color="#0049ff"/><stop offset="0.095" stop-color="#0055ff"/><stop offset="0.143" stop-color="#0061ff"/><stop offset="0.190" stop-color="#004cff"/><stop offset="0.238" stop-color="#0037ff"/><stop offset="0.286" stop-color="#0023ff"/><stop offset="0.333" stop-color="#0018ff"/><stop offset="0.381" stop-color="#000dff"/><stop offset="0.429" stop-color="#0002ff"/><stop offset="0.476" stop-color="#0000f3"/><stop offset="0.524" stop-color="#0000d4"/><stop offset="0.571" stop-color="#0000b5"/><stop offset="0.619" stop-color="#001dff"/><stop offset="0.667" stop-color="#008bff"/><stop offset="0.714" stop-color="#10f9e7"/><stop offset="0.762" stop-color="#0ff8e8"/><stop offset="0.810" stop-color="#0df6e9"/><stop offset="0.857" stop-color="#0cf5ea"/><stop offset="0.905" stop-color="#4dffaa"/><stop offset="0.952" stop-color="#8dff6a"/><stop offset="1" stop-color="#ceff29"/></linearGradient>
<linearGradient id="h34" gradientUnits="userSpaceOnUse" x1="83.2" x2="368.2"><stop offset="0.000" stop-color="#0024ff"/><stop offset="0.048" stop-color="#0026ff"/><stop offset="0.095" stop-color="#0028ff"/><stop offset="0.143" stop-color="#002bff"/><stop offset="0.190" stop-color="#001aff"/><stop offset="0.238" stop-color="#000aff"/><stop offset="0.286" stop-color="#0000ff"/><stop offset="0.333" stop-color="#0000ff"/><stop offset="0.381" stop-color="#0000f9"/><stop offset="0.429" stop-color="#0000f1"/><stop offset="0.476" stop-color="#0000e1"/><stop offset="0.524" stop-color="#0000d1"/><stop offset="0.571" stop-color="#0000c2"/><stop offset="0.619" stop-color="#003bff"/><stop offset="0.667" stop-color="#00bcff"/><stop offset="0.714" stop-color="#46ffb1"/><stop offset="0.762" stop-color="#30ffc7"/><stop offset="0.810" stop-color="#1affdd"/><stop offset="0.857" stop-color="#04ebf3"/><stop offset="0.905" stop-color="#47ffaf"/><stop offset="0.952" stop-color="#8aff6c"/><stop offset="1" stop-color="#ceff29"/></linearGradient>
<linearGradient id="h35" gradientUnits="userSpaceOnUse" x1="83.2" x2="368.2"><stop offset="0.000" stop-color="#000cff"/><stop offset="0.048" stop-color="#0004ff"/><stop offset="0.095" stop-color="#0000ff"/><stop offset="0.143" stop-color="#0000ff"/><stop offset="0.190" stop-color="#0000f5"/><stop offset="0.238" stop-color="#0000e7"/><stop offset="0.286" stop-color="#0000da"/><stop offset="0.333" stop-color="#0000d6"/><stop offset="0.381" stop-color="#0000d3"/><stop offset="0.429" stop-color="#0000cf"/><stop offset="0.476" stop-color="#0000cf"/><stop offset="0.524" stop-color="#0000ce"/><stop offset="0.571" stop-color="#0000ce"/><stop offset="0.619" stop-color="#0059ff"/><stop offset="0.667" stop-color="#05ecf1"/><stop offset="0.714" stop-color="#7cff7b"/><stop offset="0.762" stop-color="#51ffa5"/><stop offset="0.810" stop-color="#27ffd0"/><stop offset="0.857" stop-color="#00e0fb"/><stop offset="0.905" stop-color="#42ffb5"/><stop offset="0.952" stop-color="#88ff6f"/><stop offset="1" stop-color="#ceff29"/></linearGradient>
<linearGradient id="h36" gradientUnits="userSpaceOnUse" x1="83.2" x2="368.2"><stop offset="0.000" stop-color="#0000ff"/><stop offset="0.048" stop-color="#0000ee"/><stop offset="0.095" stop-color="#0000da"/><stop offset="0.143" stop-color="#0000c5"/><stop offset="0.190" stop-color="#0000bc"/><stop offset="0.238" stop-color="#0000b3"/><stop offset="0.286" stop-color="#0000ab"/><stop offset="0.333" stop-color="#0000ac"/><stop offset="0.381" stop-color="#0000ad"/><stop offset="0.429" stop-color="#0000ad"/><stop offset="0.476" stop-color="#0000bd"/><stop offset="0.524" stop-color="#0000cc"/><stop offset="0.571" stop-color="#0000db"/><stop offset="0.619" stop-color="#0077ff"/><stop offset="0.667" stop-color="#2dffca"/><stop offset="0.714" stop-color="#b3ff44"/><stop offset="0.762" stop-color="#73ff84"/><stop offset="0.810" stop-color="#33ffc4"/><stop offset="0.857" stop-color="#00d6ff"/><stop offset="0.905" stop-color="#3cffba"/><stop offset="0.952" stop-color="#85ff72"/><stop offset="1" stop-color="#ceff29"/></linearGradient>
<linearGradient id="h37" gradientUnits="userSpaceOnUse" x1="83.2" x2="368.2"><stop offset="0.000" stop-color="#0000f5"/><stop offset="0.048" stop-color="#0000e0"/><stop offset="0.095" stop-color="#0000ca"/><stop offset="0.143" stop-color="#0000b4"/><stop offset="0.190" stop-color="#0000a9"/><stop offset="0.238" stop-color="#00009f"/><stop offset="0.286" stop-color="#000094"/><stop offset="0.333" stop-color="#000098"/><stop offset="0.381" stop-color="#00009d"/><stop offset="0.429" stop-color="#0000a2"/><stop offset="0.476" stop-color="#0000b7"/><stop offset="0.524" stop-color="#0000cc"/><stop offset="0.571" stop-color="#0000e1"/><stop offset="0.619" stop-color="#007aff"/><stop offset="0.667" stop-color="#2effc9"/><stop offset="0.714" stop-color="#b3ff44"/><stop offset="0.762" stop-color="#72ff84"/><stop offset="0.810" stop-color="#32ffc5"/><stop offset="0.857" stop-color="#00d4ff"/><stop offset="0.905" stop-color="#3effb9"/><stop offset="0.952" stop-color="#8aff6d"/><stop offset="1" stop-color="#d6ff21"/></linearGradient>
<linearGradient id="h38" gradientUnits="userSpaceOnUse" x1="83.2" x2="368.2"><stop offset="0.000" stop-color="#0000f7"/><stop offset="0.048" stop-color="#0000ea"/><stop offset="0.095" stop-color="#0000dc"/><stop offset="0.143" stop-color="#0000cf"/><stop offset="0.190" stop-color="#0000bc"/><stop offset="0.238" stop-color="#0000a9"/><stop offset="0.286" stop-color="#000096"/><stop offset="0.333" stop-color="#00009d"/><stop offset="0.381" stop-color="#0000a4"/><stop offset="0.429" stop-color="#0000ab"/><stop offset="0.476" stop-color="#0000bd"/><stop offset="0.524" stop-color="#0000cf"/><stop offset="0.571" stop-color="#0000e1"/><stop offset="0.619" stop-color="#0064ff"/><stop offset="0.667" stop-color="#0af2ed"/><stop offset="0.714" stop-color="#7cff7b"/><stop offset="0.762" stop-color="#50ffa7"/><stop offset="0.810" stop-color="#23ffd3"/><stop offset="0.857" stop-color="#00daff"/><stop offset="0.905" stop-color="#47ffb0"/><stop offset="0.952" stop-color="#97ff60"/><stop offset="1" stop-color="#e6ff10"/></linearGradient>
<linearGradient id="h39" gradientUnits="userSpaceOnUse" x1="83.2" x2="368.2"><stop offset="0.000" stop-color="#0000f9"/><stop offset="0.048" stop-color="#0000f4"/><stop offset="0.095" stop-color="#0000ef"/><stop offset="0.143" stop-color="#0000ea"/><stop offset="0.190" stop-color="#0000cf"/><stop offset="0.238" stop-color="#0000b3"/><stop offset="0.286" stop-color="#000098"/><stop offset="0.333" stop-color="#0000a2"/><stop offset="0.381" stop-color="#0000ab"/><stop offset="0.429" stop-color="#0000b5"/><stop offset="0.476" stop-color="#0000c4"/><stop offset="0.524" stop-color="#0000d2"/><stop offset="0.571" stop-color="#0000e1"/><stop offset="0.619" stop-color="#004eff"/><stop offset="0.667" stop-color="#00c5ff"/><stop offset="0.714" stop-color="#46ffb1"/><stop offset="0.762" stop-color="#2dffca"/><stop offset="0.810" stop-color="#15ffe2"/><stop offset="0.857" stop-color="#00e0fb"/><stop offset="0.905" stop-color="#50ffa7"/><stop offset="0.952" stop-color="#a3ff54"/><stop offset="1" stop-color="#f7f600"/></linearGradient>
<linearGradient id="h40" gradientUnits="userSpaceOnUse" x1="83.2" x2="368.2"><stop offset="0.000" stop-color="#0000fb"/><stop offset="0.048" stop-color="#0000fe"/><stop offset="0.095" stop-color="#0000ff"/><stop offset="0.143" stop-color="#0000ff"/><stop offset="0.190" stop-color="#0000e1"/><stop offset="0.238" stop-color="#0000bd"/><stop offset="0.286" stop-color="#00009a"/><stop offset="0.333" stop-color="#0000a6"/><stop offset="0.381" stop-color="#0000b2"/><stop offset="0.429" stop-color="#0000bf"/><stop offset="0.476" stop-color="#0000ca"/><stop offset="0.524" stop-color="#0000d6"/><stop offset="0.571" stop-color="#0000e1"/><stop offset="0.619" stop-color="#0037ff"/><stop offset="0.667" stop-color="#0098ff"/><stop offset="0.714" stop-color="#10f9e7"/><stop offset="0.762" stop-color="#0bf3ec"/><stop offset="0.810" stop-color="#06edf1"/><stop offset="0.857" stop-color="#01e7f6"/><stop offset="0.905" stop-color="#58ff9e"/><stop offset="0.952" stop-color="#b0ff47"/><stop offset="1" stop-color="#ffe300"/></linearGradient>
<linearGradient id="h41" gradientUnits="userSpaceOnUse" x1="83.2" x2="368.2"><stop offset="0.000" stop-color="#0000fd"/><stop offset="0.048" stop-color="#0000ff"/><stop offset="0.095" stop-color="#0003ff"/><stop offset="0.143" stop-color="#000eff"/><stop offset="0.190" stop-color="#0000f4"/><stop offset="0.238" stop-color="#0000c8"/><stop offset="0.286" stop-color="#00009c"/><stop offset="0.333" stop-color="#0000ab"/><stop offset="0.381" stop-color="#0000ba"/><stop offset="0.429" stop-color="#0000c9"/><stop offset="0.476" stop-color="#0000d1"/><stop offset="0.524" stop-color="#0000d9"/><stop offset="0.571" stop-color="#0000e1"/><stop offset="0.619" stop-color="#0021ff"/><stop offset="0.667" stop-color="#006bff"/><stop offset="0.714" stop-color="#00b6ff"/><stop offset="0.762" stop-color="#00c8ff"/><stop offset="0.810" stop-color="#00daff"/><stop offset="0.857" stop-color="#06edf1"/><stop offset="0.905" stop-color="#61ff96"/><stop offset="0.952" stop-color="#bcff3a"/><stop offset="1" stop-color="#ffd000"/></linearGradient>
<linearGradient id="h42" gradientUnits="userSpaceOnUse" x1="83.2" x2="368.2"><stop offset="0.000" stop-color="#0000fb"/><stop offset="0.048" stop-color="#0000ff"/><stop offset="0.095" stop-color="#0003ff"/><stop offset="0.143" stop-color="#000eff"/><stop offset="0.190" stop-color="#0000fc"/><stop offset="0.238" stop-color="#0000d7"/><stop offset="0.286" stop-color="#0000b3"/><stop offset="0.333" stop-color="#0000bd"/><stop offset="0.381" stop-color="#0000c7"/><stop offset="0.429" stop-color="#0000d0"/><stop offset="0.476" stop-color="#0000d6"/><stop offset="0.524" stop-color="#0000dc"/><stop offset="0.571" stop-color="#0000e2"/><stop offset="0.619" stop-color="#0012ff"/><stop offset="0.667" stop-color="#004dff"/><stop offset="0.714" stop-color="#0088ff"/><stop offset="0.762" stop-color="#00aaff"/><stop offset="0.810" stop-color="#00cdff"/><stop offset="0.857" stop-color="#08f0ef"/><stop offset="0.905" stop-color="#69ff8e"/><stop offset="0.952" stop-color="#c9ff2e"/><stop offset="1" stop-color="#ffbb00"/></linearGradient>
<linearGradient id="h43" gradientUnits="userSpaceOnUse" x1="83.2" x2="368.2"><stop offset="0.000" stop-color="#0000f5"/><stop offset="0.048" stop-color="#0000fb"/><stop offset="0.095" stop-color="#0000ff"/><stop offset="0.143" stop-color="#0000ff"/><stop offset="0.190" stop-color="#0000f9"/><stop offset="0.238" stop-color="#0000ed"/><stop offset="0.286" stop-color="#0000e0"/><stop offset="0.333" stop-color="#0000dd"/><stop offset="0.381" stop-color="#0000da"/><stop offset="0.429" stop-color="#0000d6"/><stop offset="0.476" stop-color="#0000db"/><stop offset="0.524" stop-color="#0000df"/><stop offset="0.571" stop-color="#0000e4"/><stop offset="0.619" stop-color="#000bff"/><stop offset="0.667" stop-color="#003dff"/><stop offset="0.714" stop-color="#006fff"/><stop offset="0.762" stop-color="#009aff"/><stop offset="0.810" stop-color="#00c5ff"/><stop offset="0.857" stop-color="#08f0ef"/><stop offset="0.905" stop-color="#6fff87"/><stop offset="0.952" stop-color="#d6ff20"/><stop offset="1" stop-color="#ffa400"/></linearGradient>
<linearGradient id="h44" gradientUnits="userSpaceOnUse" x1="83.2" x2="368.2"><stop offset="0.000" stop-color="#0000ef"/><stop offset="0.048" stop-color="#0000ee"/><stop offset="0.095" stop-color="#0000ec"/><stop offset="0.143" stop-color="#0000ea"/><stop offset="0.190" stop-color="#0000f6"/><stop offset="0.238" stop-color="#0000ff"/><stop offset="0.286" stop-color="#0000ff"/><stop offset="0.333" stop-color="#0000fd"/><stop offset="0.381" stop-color="#0000ed"/><stop offset="0.429" stop-color="#0000dc"/><stop offset="0.476" stop-color="#0000df"/><stop offset="0.524" stop-color="#0000e2"/><stop offset="0.571" stop-color="#0000e6"/><stop offset="0.619" stop-color="#0004ff"/><stop offset="0.667" stop-color="#002dff"/><stop offset="0.714" stop-color="#0057ff"/><stop offset="0.762" stop-color="#008aff"/><stop offset="0.810" stop-color="#00bdff"/><stop offset="0.857" stop-color="#08f0ef"/><stop offset="0.905" stop-color="#76ff81"/><stop offset="0.952" stop-color="#e4ff13"/><stop offset="1" stop-color="#ff8e00"/></linearGradient>
<linearGradient id="h45" gradientUnits="userSpaceOnUse" x1="83.2" x2="368.2"><stop offset="0.000" stop-color="#0000ea"/><stop offset="0.048" stop-color="#0000e1"/><stop offset="0.095" stop-color="#0000d8"/><stop offset="0.143" stop-color="#0000cf"/><stop offset="0.190" stop-color="#0000f3"/><stop offset="0.238" stop-color="#0006ff"/><stop offset="0.286" stop-color="#0025ff"/><stop offset="0.333" stop-color="#000bff"/><stop offset="0.381" stop-color="#0000ff"/><stop offset="0.429" stop-color="#0000e2"/><stop offset="0.476" stop-color="#0000e4"/><stop offset="0.524" stop-color="#0000e6"/><stop offset="0.571" stop-color="#0000e8"/><stop offset="0.619" stop-color="#0000ff"/><stop offset="0.667" stop-color="#001eff"/><stop offset="0.714" stop-color="#003eff"/><stop offset="0.762" stop-color="#0079ff"/><stop offset="0.810" stop-color="#00b5ff"/><stop offset="0.857" stop-color="#08f0ef"/><stop offset="0.905" stop-color="#7cff7a"/><stop offset="0.952" stop-color="#f1fc06"/><stop offset="1" stop-color="#ff7700"/></linearGradient>
<linearGradient id="h46" gradientUnits="userSpaceOnUse" x1="83.2" x2="368.2"><stop offset="0.000" stop-color="#0000e4"/><stop offset="0.048" stop-color="#0000d4"/><stop offset="0.095" stop-color="#0000c4"/><stop offset="0.143" stop-color="#0000b4"/><stop offset="0.190" stop-color="#0000f0"/><stop offset="0.238" stop-color="#0018ff"/><stop offset="0.286" stop-color="#004dff"/><stop offset="0.333" stop-color="#0027ff"/><stop offset="0.381" stop-color="#0002ff"/><stop offset="0.429" stop-color="#0000e8"/><stop offset="0.476" stop-color="#0000e8"/><stop offset="0.524" stop-color="#0000e9"/><stop offset="0.571" stop-color="#0000ea"/><stop offset="0.619" stop-color="#0000ff"/><stop offset="0.667" stop-color="#000eff"/><stop offset="0.714" stop-color="#0026ff"/><stop offset="0.762" stop-color="#0069ff"/><stop offset="0.810" stop-color="#00acff"/><stop offset="0.857" stop-color="#08f0ef"/><stop offset="0.905" stop-color="#83ff74"/><stop offset="0.952" stop-color="#feed00"/><stop offset="1" stop-color="#ff6000"/></linearGradient>
<linearGradient id="h47" gradientUnits="userSpaceOnUse" x1="83.2" x2="368.2"><stop offset="0.000" stop-color="#0000e1"/><stop offset="0.048" stop-color="#0000d3"/><stop offset="0.095" stop-color="#0000c4"/><stop offset="0.143" stop-color="#0000b6"/><stop offset="0.190" stop-color="#0000f4"/><stop offset="0.238" stop-color="#001dff"/><stop offset="0.286" stop-color="#0053ff"/><stop offset="0.333" stop-color="#002cff"/><stop offset="0.381" stop-color="#0005ff"/><stop offset="0.429" stop-color="#0000ea"/><stop offset="0.476" stop-color="#0000e7"/><stop offset="0.524" stop-color="#0000e5"/><stop offset="0.571" stop-color="#0000e3"/><stop offset="0.619" stop-color="#0000fa"/><stop offset="0.667" stop-color="#0001ff"/><stop offset="0.714" stop-color="#0015ff"/><stop offset="0.762" stop-color="#005eff"/><stop offset="0.810" stop-color="#00a7ff"/><stop offset="0.857" stop-color="#08f0ef"/><stop offset="0.905" stop-color="#82ff75"/><stop offset="0.952" stop-color="#fcf000"/><stop offset="1" stop-color="#ff6400"/></linearGradient>
<linearGradient id="h48" gradientUnits="userSpaceOnUse" x1="83.2" x2="368.2"><stop offset="0.000" stop-color="#0000e1"/><stop offset="0.048" stop-color="#0000dd"/><stop offset="0.095" stop-color="#0000da"/><stop offset="0.143" stop-color="#0000d6"/><stop offset="0.190" stop-color="#0000fe"/><stop offset="0.238" stop-color="#0014ff"/><stop offset="0.286" stop-color="#0037ff"/><stop offset="0.333" stop-color="#0019ff"/><stop offset="0.381" stop-color="#0000ff"/><stop offset="0.429" stop-color="#0000e8"/><stop offset="0.476" stop-color="#0000e1"/><stop offset="0.524" stop-color="#0000da"/><stop offset="0.571" stop-color="#0000d3"/><stop offset="0.619" stop-color="#0000ed"/><stop offset="0.667" stop-color="#0000ff"/><stop offset="0.714" stop-color="#000dff"/><stop offset="0.762" stop-color="#0059ff"/><stop offset="0.810" stop-color="#00a4ff"/><stop offset="0.857" stop-color="#08f0ef"/><stop offset="0.905" stop-color="#79ff7e"/><stop offset="0.952" stop-color="#eaff0d"/><stop offset="1" stop-color="#ff8200"/></linearGradient>
<linearGradient id="h49" gradientUnits="userSpaceOnUse" x1="83.2" x2="368.2"><stop offset="0.000" stop-color="#0000e1"/><stop offset="0.048" stop-color="#0000e8"/><stop offset="0.095" stop-color="#0000ef"/><stop offset="0.143" stop-color="#0000f5"/><stop offset="0.190" stop-color="#0000ff"/><stop offset="0.238" stop-color="#000aff"/><stop offset="0.286" stop-color="#001cff"/><stop offset="0.333" stop-color="#0006ff"/><stop offset="0.381" stop-color="#0000fe"/><stop offset="0.429" stop-color="#0000e6"/><stop offset="0.476" stop-color="#0000da"/><stop offset="0.524" stop-color="#0000cf"/><stop offset="0.571" stop-color="#0000c4"/><stop offset="0.619" stop-color="#0000df"/><stop offset="0.667" stop-color="#0000fa"/><stop offset="0.714" stop-color="#0005ff"/><stop offset="0.762" stop-color="#0053ff"/><stop offset="0.810" stop-color="#00a1ff"/><stop offset="0.857" stop-color="#08f0ef"/><stop offset="0.905" stop-color="#70ff86"/><stop offset="0.952" stop-color="#d9ff1e"/><stop offset="1" stop-color="#ffa100"/></linearGradient>
<linearGradient id="h50" gradientUnits="userSpaceOnUse" x1="83.2" x2="368.2"><stop offset="0.000" stop-color="#0000e1"/><stop offset="0.048" stop-color="#0000f2"/><stop offset="0.095" stop-color="#0000ff"/><stop offset="0.143" stop-color="#0004ff"/><stop offset="0.190" stop-color="#0003ff"/><stop offset="0.238" stop-color="#0001ff"/><stop offset="0.286" stop-color="#0000ff"/><stop offset="0.333" stop-color="#0000ff"/><stop offset="0.381" stop-color="#0000f3"/><stop offset="0.429" stop-color="#0000e4"/><stop offset="0.476" stop-color="#0000d4"/><stop offset="0.524" stop-color="#0000c4"/><stop offset="0.571" stop-color="#0000b4"/><stop offset="0.619" stop-color="#0000d1"/><stop offset="0.667" stop-color="#0000ef"/><stop offset="0.714" stop-color="#0000ff"/><stop offset="0.762" stop-color="#004dff"/><stop offset="0.810" stop-color="#009fff"/><stop offset="0.857" stop-color="#08f0ef"/><stop offset="0.905" stop-color="#68ff8f"/><stop offset="0.952" stop-color="#c7ff30"/><stop offset="1" stop-color="#ffbf00"/></linearGradient>
<linearGradient id="h51" gradientUnits="userSpaceOnUse" x1="83.2" x2="368.2"><stop offset="0.000" stop-color="#0000e1"/><stop offset="0.048" stop-color="#0000fd"/><stop offset="0.095" stop-color="#0007ff"/><stop offset="0.143" stop-color="#0020ff"/><stop offset="0.190" stop-color="#000cff"/><stop offset="0.238" stop-color="#0000ff"/><stop offset="0.286" stop-color="#0000f1"/><stop offset="0.333" stop-color="#0000ec"/><stop offset="0.381" stop-color="#0000e7"/><stop offset="0.429" stop-color="#0000e2"/><stop offset="0.476" stop-color="#0000cd"/><stop offset="0.524" stop-color="#0000b9"/><stop offset="0.571" stop-color="#0000a4"/><stop offset="0.619" stop-color="#0000c4"/><stop offset="0.667" stop-color="#0000e3"/><stop offset="0.714" stop-color="#0000ff"/><stop offset="0.762" stop-color="#0048ff"/><stop offset="0.810" stop-color="#009cff"/><stop offset="0.857" stop-color="#08f0ef"/><stop offset="0.905" stop-color="#5fff98"/><stop offset="0.952" stop-color="#b6ff41"/><stop offset="1" stop-color="#ffdd00"/></linearGradient>
<linearGradient id="h52" gradientUnits="userSpaceOnUse" x1="83.2" x2="368.2"><stop offset="0.000" stop-color="#0000e4"/><stop offset="0.048" stop-color="#0000ff"/><stop offset="0.095" stop-color="#0012ff"/><stop offset="0.143" stop-color="#002fff"/><stop offset="0.190" stop-color="#0011ff"/><stop offset="0.238" stop-color="#0000ff"/><stop offset="0.286" stop-color="#0000e1"/><stop offset="0.333" stop-color="#0000e1"/><stop offset="0.381" stop-color="#0000e1"/><stop offset="0.429" stop-color="#0000e1"/><stop offset="0.476" stop-color="#0000cc"/><stop offset="0.524" stop-color="#0000b8"/><stop offset="0.571" stop-color="#0000a4"/><stop offset="0.619" stop-color="#0000c2"/><stop offset="0.667" stop-color="#0000e0"/><stop offset="0.714" stop-color="#0000fe"/><stop offset="0.762" stop-color="#0046ff"/><stop offset="0.810" stop-color="#009cff"/><stop offset="0.857" stop-color="#0af2ed"/><stop offset="0.905" stop-color="#56ffa1"/><stop offset="0.952" stop-color="#a2ff55"/><stop offset="1" stop-color="#eeff09"/></linearGradient>
<linearGradient id="h53" gradientUnits="userSpaceOnUse" x1="83.2" x2="368.2"><stop offset="0.000" stop-color="#0000ea"/><stop offset="0.048" stop-color="#0000ff"/><stop offset="0.095" stop-color="#0015ff"/><stop offset="0.143" stop-color="#0031ff"/><stop offset="0.190" stop-color="#0013ff"/><stop offset="0.238" stop-color="#0000ff"/><stop offset="0.286" stop-color="#0000e1"/><stop offset="0.333" stop-color="#0000e1"/><stop offset="0.381" stop-color="#0000e1"/><stop offset="0.429" stop-color="#0000e1"/><stop offset="0.476" stop-color="#0000d1"/><stop offset="0.524" stop-color="#0000c1"/><stop offset="0.571" stop-color="#0000b1"/><stop offset="0.619" stop-color="#0000cb"/><stop offset="0.667" stop-color="#0000e4"/><stop offset="0.714" stop-color="#0000fe"/><stop offset="0.762" stop-color="#0047ff"/><stop offset="0.810" stop-color="#009fff"/><stop offset="0.857" stop-color="#0df6ea"/><stop offset="0.905" stop-color="#4dffaa"/><stop offset="0.952" stop-color="#8cff6b"/><stop offset="1" stop-color="#cbff2c"/></linearGradient>
<linearGradient id="h54" gradientUnits="userSpaceOnUse" x1="83.2" x2="368.2"><stop offset="0.000" stop-color="#0000ef"/><stop offset="0.048" stop-color="#0000ff"/><stop offset="0.095" stop-color="#0018ff"/><stop offset="0.143" stop-color="#0033ff"/><stop offset="0.190" stop-color="#0014ff"/><stop offset="0.238" stop-color="#0000ff"/><stop offset="0.286" stop-color="#0000e1"/><stop offset="0.333" stop-color="#0000e1"/><stop offset="0.381" stop-color="#0000e1"/><stop offset="0.429" stop-color="#0000e1"/><stop offset="0.476" stop-color="#0000d6"/><stop offset="0.524" stop-color="#0000ca"/><stop offset="0.571" stop-color="#0000bf"/><stop offset="0.619" stop-color="#0000d4"/><stop offset="0.667" stop-color="#0000e9"/><stop offset="0.714" stop-color="#0000fe"/><stop offset="0.762" stop-color="#0049ff"/><stop offset="0.810" stop-color="#00a1ff"/><stop offset="0.857" stop-color="#10fae6"/><stop offset="0.905" stop-color="#43ffb4"/><stop offset="0.952" stop-color="#76ff81"/><stop offset="1" stop-color="#a9ff4e"/></linearGradient>
<linearGradient id="h55" gradientUnits="userSpaceOnUse" x1="83.2" x2="368.2"><stop offset="0.000" stop-color="#0000f5"/><stop offset="0.048" stop-color="#0002ff"/><stop offset="0.095" stop-color="#001bff"/><stop offset="0.143" stop-color="#0035ff"/><stop offset="0.190" stop-color="#0015ff"/><stop offset="0.238" stop-color="#0000ff"/><stop offset="0.286" stop-color="#0000e1"/><stop offset="0.333" stop-color="#0000e1"/><stop offset="0.381" stop-color="#0000e1"/><stop offset="0.429" stop-color="#0000e1"/><stop offset="0.476" stop-color="#0000da"/><stop offset="0.524" stop-color="#0000d3"/><stop offset="0.571" stop-color="#0000cc"/><stop offset="0.619" stop-color="#0000dd"/><stop offset="0.667" stop-color="#0000ee"/><stop offset="0.714" stop-color="#0000fe"/><stop offset="0.762" stop-color="#004aff"/><stop offset="0.810" stop-color="#00a4ff"/><stop offset="0.857" stop-color="#14fee3"/><stop offset="0.905" stop-color="#3affbd"/><stop offset="0.952" stop-color="#60ff97"/><stop offset="1" stop-color="#86ff71"/></linearGradient>
<linearGradient id="h56" gradientUnits="userSpaceOnUse" x1="83.2" x2="368.2"><stop offset="0.000" stop-color="#0000fb"/><stop offset="0.048" stop-color="#0006ff"/><stop offset="0.095" stop-color="#001eff"/><stop offset="0.143" stop-color="#0037ff"/><stop offset="0.190" stop-color="#0017ff"/><stop offset="0.238" stop-color="#0000ff"/><stop offset="0.286" stop-color="#0000e1"/><stop offset="0.333" stop-color="#0000e1"/><stop offset="0.381" stop-color="#0000e1"/><stop offset="0.429" stop-color="#0000e1"/><stop offset="0.476" stop-color="#0000df"/><stop offset="0.524" stop-color="#0000dc"/><stop offset="0.571" stop-color="#0000da"/><stop offset="0.619" stop-color="#0000e6"/><stop offset="0.667" stop-color="#0000f2"/><stop offset="0.714" stop-color="#0000fe"/><stop offset="0.762" stop-color="#004bff"/><stop offset="0.810" stop-color="#00a7ff"/><stop offset="0.857" stop-color="#17ffe0"/><stop offset="0.905" stop-color="#31ffc6"/><stop offset="0.952" stop-color="#4affad"/><stop offset="1" stop-color="#64ff93"/></linearGradient>
<linearGradient id="h57" gradientUnits="userSpaceOnUse" x1="83.2" x2="368.2"><stop offset="0.000" stop-color="#0000fd"/><stop offset="0.048" stop-color="#0007ff"/><stop offset="0.095" stop-color="#0020ff"/><stop offset="0.143" stop-color="#0038ff"/><stop offset="0.190" stop-color="#0017ff"/><stop offset="0.238" stop-color="#0000ff"/><stop offset="0.286" stop-color="#0000e1"/><stop offset="0.333" stop-color="#0000e1"/><stop offset="0.381" stop-color="#0000e1"/><stop offset="0.429" stop-color="#0000e1"/><stop offset="0.476" stop-color="#0000e1"/><stop offset="0.524" stop-color="#0000e1"/><stop offset="0.571" stop-color="#0000e1"/><stop offset="0.619" stop-color="#0000ea"/><stop offset="0.667" stop-color="#0000f4"/><stop offset="0.714" stop-color="#0000fd"/><stop offset="0.762" stop-color="#004bff"/><stop offset="0.810" stop-color="#00a7ff"/><stop offset="0.857" stop-color="#18ffdf"/><stop offset="0.905" stop-color="#22ffd5"/><stop offset="0.952" stop-color="#2cffcb"/><stop offset="1" stop-color="#36ffc1"/></linearGradient>
<linearGradient id="h58" gradientUnits="userSpaceOnUse" x1="83.2" x2="368.2"><stop offset="0.000" stop-color="#0000fb"/><stop offset="0.048" stop-color="#0006ff"/><stop offset="0.095" stop-color="#001fff"/><stop offset="0.143" stop-color="#0038ff"/><stop offset="0.190" stop-color="#0017ff"/><stop offset="0.238" stop-color="#0000ff"/><stop offset="0.286" stop-color="#0000e1"/><stop offset="0.333" stop-color="#0000e1"/><stop offset="0.381" stop-color="#0000e1"/><stop offset="0.429" stop-color="#0000e1"/><stop offset="0.476" stop-color="#0000e1"/><stop offset="0.524" stop-color="#0000e1"/><stop offset="0.571" stop-color="#0000e1"/><stop offset="0.619" stop-color="#0000ea"/><stop offset="0.667" stop-color="#0000f2"/><stop offset="0.714" stop-color="#0000fb"/><stop offset="0.762" stop-color="#0049ff"/><stop offset="0.810" stop-color="#00a5ff"/><stop offset="0.857" stop-color="#16ffe1"/><stop offset="0.905" stop-color="#0ef6e9"/><stop offset="0.952" stop-color="#05ebf2"/><stop offset="1" stop-color="#00e1fb"/></linearGradient>
<linearGradient id="h59" gradientUnits="userSpaceOnUse" x1="83.2" x2="368.2"><stop offset="0.000" stop-color="#0000f9"/><stop offset="0.048" stop-color="#0005ff"/><stop offset="0.095" stop-color="#001fff"/><stop offset="0.143" stop-color="#0038ff"/><stop offset="0.190" stop-color="#0017ff"/><stop offset="0.238" stop-color="#0000ff"/><stop offset="0.286" stop-color="#0000e1"/><stop offset="0.333" stop-color="#0000e1"/><stop offset="0.381" stop-color="#0000e1"/><stop offset="0.429" stop-color="#0000e1"/><stop offset="0.476" stop-color="#0000e1"/><stop offset="0.524" stop-color="#0000e1"/><stop offset="0.571" stop-color="#0000e1"/><stop offset="0.619" stop-color="#0000e9"/><stop offset="0.667" stop-color="#0000f1"/><stop offset="0.714" stop-color="#0000f9"/><stop offset="0.762" stop-color="#0047ff"/><stop offset="0.810" stop-color="#00a3ff"/><stop offset="0.857" stop-color="#15ffe2"/><stop offset="0.905" stop-color="#00ddfe"/><stop offset="0.952" stop-color="#00bbff"/><stop offset="1" stop-color="#0099ff"/></linearGradient>
<linearGradient id="h60" gradientUnits="userSpaceOnUse" x1="83.2" x2="368.2"><stop offset="0.000" stop-color="#0000f7"/><stop offset="0.048" stop-color="#0004ff"/><stop offset="0.095" stop-color="#001eff"/><stop offset="0.143" stop-color="#0038ff"/><stop offset="0.190" stop-color="#0017ff"/><stop offset="0.238" stop-color="#0000ff"/><stop offset="0.286" stop-color="#0000e1"/><stop offset="0.333" stop-color="#0000e1"/><stop offset="0.381" stop-color="#0000e1"/><stop offset="0.429" stop-color="#0000e1"/><stop offset="0.476" stop-color="#0000e1"/><stop offset="0.524" stop-color="#0000e1"/><stop offset="0.571" stop-color="#0000e1"/><stop offset="0.619" stop-color="#0000e8"/><stop offset="0.667" stop-color="#0000f0"/><stop offset="0.714" stop-color="#0000f7"/><stop offset="0.762" stop-color="#0046ff"/><stop offset="0.810" stop-color="#00a1ff"/><stop offset="0.857" stop-color="#13fde4"/><stop offset="0.905" stop-color="#00c4ff"/><stop offset="0.952" stop-color="#008bff"/><stop offset="1" stop-color="#0052ff"/></linearGradient>
<linearGradient id="h61" gradientUnits="userSpaceOnUse" x1="83.2" x2="368.2"><stop offset="0.000" stop-color="#0000f5"/><stop offset="0.048" stop-color="#0003ff"/><stop offset="0.095" stop-color="#001dff"/><stop offset="0.143" stop-color="#0038ff"/><stop offset="0.190" stop-color="#0017ff"/><stop offset="0.238" stop-color="#0000ff"/><stop offset="0.286" stop-color="#0000e1"/><stop offset="0.333" stop-color="#0000e1"/><stop offset="0.381" stop-color="#0000e1"/><stop offset="0.429" stop-color="#0000e1"/><stop offset="0.476" stop-color="#0000e1"/><stop offset="0.524" stop-color="#0000e1"/><stop offset="0.571" stop-color="#0000e1"/><stop offset="0.619" stop-color="#0000e8"/><stop offset="0.667" stop-color="#0000ee"/><stop offset="0.714" stop-color="#0000f5"/><stop offset="0.762" stop-color="#0044ff"/><stop offset="0.810" stop-color="#009fff"/><stop offset="0.857" stop-color="#11fbe6"/><stop offset="0.905" stop-color="#00abff"/><stop offset="0.952" stop-color="#005bff"/><stop offset="1" stop-color="#000bff"/></linearGradient>
<linearGradient id="h62" gradientUnits="userSpaceOnUse" x1="83.2" x2="368.2"><stop offset="0.000" stop-color="#0000f2"/><stop offset="0.048" stop-color="#0000ff"/><stop offset="0.095" stop-color="#0013ff"/><stop offset="0.143" stop-color="#0029ff"/><stop offset="0.190" stop-color="#000dff"/><stop offset="0.238" stop-color="#0000ff"/><stop offset="0.286" stop-color="#0000df"/><stop offset="0.333" stop-color="#0000dd"/><stop offset="0.381" stop-color="#0000dc"/><stop offset="0.429" stop-color="#0000da"/><stop offset="0.476" stop-color="#0000dc"/><stop offset="0.524" stop-color="#0000de"/><stop offset="0.571" stop-color="#0000e0"/><stop offset="0.619" stop-color="#0000e7"/><stop offset="0.667" stop-color="#0000ee"/><stop offset="0.714" stop-color="#0000f4"/><stop offset="0.762" stop-color="#0049ff"/><stop offset="0.810" stop-color="#00abff"/><stop offset="0.857" stop-color="#1fffd8"/><stop offset="0.905" stop-color="#00aaff"/><stop offset="0.952" stop-color="#0048ff"/><stop offset="1" stop-color="#0000f2"/></linearGradient>
<linearGradient id="h63" gradientUnits="userSpaceOnUse" x1="83.2" x2="368.2"><stop offset="0.000" stop-color="#0000ee"/><stop offset="0.048" stop-color="#0000fe"/><stop offset="0.095" stop-color="#0000ff"/><stop offset="0.143" stop-color="#000bff"/><stop offset="0.190" stop-color="#0000ff"/><stop offset="0.238" stop-color="#0000f1"/><stop offset="0.286" stop-color="#0000db"/><stop offset="0.333" stop-color="#0000d6"/><stop offset="0.381" stop-color="#0000d1"/><stop offset="0.429" stop-color="#0000cc"/><stop offset="0.476" stop-color="#0000d2"/><stop offset="0.524" stop-color="#0000d8"/><stop offset="0.571" stop-color="#0000de"/><stop offset="0.619" stop-color="#0000e5"/><stop offset="0.667" stop-color="#0000ed"/><stop offset="0.714" stop-color="#0000f4"/><stop offset="0.762" stop-color="#0055ff"/><stop offset="0.810" stop-color="#00c3ff"/><stop offset="0.857" stop-color="#3dffba"/><stop offset="0.905" stop-color="#00c1ff"/><stop offset="0.952" stop-color="#0052ff"/><stop offset="1" stop-color="#0000ee"/></linearGradient>
<linearGradient id="h64" gradientUnits="userSpaceOnUse" x1="83.2" x2="368.2"><stop offset="0.000" stop-color="#0000eb"/><stop offset="0.048" stop-color="#0000f0"/><stop offset="0.095" stop-color="#0000f6"/><stop offset="0.143" stop-color="#0000fb"/><stop offset="0.190" stop-color="#0000ef"/><stop offset="0.238" stop-color="#0000e3"/><stop offset="0.286" stop-color="#0000d7"/><stop offset="0.333" stop-color="#0000cf"/><stop offset="0.381" stop-color="#0000c7"/><stop offset="0.429" stop-color="#0000bf"/><stop offset="0.476" stop-color="#0000c9"/><stop offset="0.524" stop-color="#0000d2"/><stop offset="0.571" stop-color="#0000dc"/><stop offset="0.619" stop-color="#0000e4"/><stop offset="0.667" stop-color="#0000ec"/><stop offset="0.714" stop-color="#0000f4"/><stop offset="0.762" stop-color="#0061ff"/><stop offset="0.810" stop-color="#00dcff"/><stop offset="0.857" stop-color="#5aff9c"/><stop offset="0.905" stop-color="#00d9ff"/><stop offset="0.952" stop-color="#005cff"/><stop offset="1" stop-color="#0000eb"/></linearGradient>
<linearGradient id="h65" gradientUnits="userSpaceOnUse" x1="83.2" x2="368.2"><stop offset="0.000" stop-color="#0000e7"/><stop offset="0.048" stop-color="#0000e2"/><stop offset="0.095" stop-color="#0000de"/><stop offset="0.143" stop-color="#0000d9"/><stop offset="0.190" stop-color="#0000d7"/><stop offset="0.238" stop-color="#0000d5"/><stop offset="0.286" stop-color="#0000d3"/><stop offset="0.333" stop-color="#0000c8"/><stop offset="0.381" stop-color="#0000bd"/><stop offset="0.429" stop-color="#0000b1"/><stop offset="0.476" stop-color="#0000bf"/><stop offset="0.524" stop-color="#0000cc"/><stop offset="0.571" stop-color="#0000da"/><stop offset="0.619" stop-color="#0000e3"/><stop offset="0.667" stop-color="#0000ec"/><stop offset="0.714" stop-color="#0000f4"/><stop offset="0.762" stop-color="#006eff"/><stop offset="0.810" stop-color="#0cf4eb"/><stop offset="0.857" stop-color="#78ff7f"/><stop offset="0.905" stop-color="#09f0ee"/><stop offset="0.952" stop-color="#0066ff"/><stop offset="1" stop-color="#0000e7"/></linearGradient>
<linearGradient id="h66" gradientUnits="userSpaceOnUse" x1="83.2" x2="368.2"><stop offset="0.000" stop-color="#0000e3"/><stop offset="0.048" stop-color="#0000d4"/><stop offset="0.095" stop-color="#0000c6"/><stop offset="0.143" stop-color="#0000b7"/><stop offset="0.190" stop-color="#0000bf"/><stop offset="0.238" stop-color="#0000c7"/><stop offset="0.286" stop-color="#0000cf"/><stop offset="0.333" stop-color="#0000c1"/><stop offset="0.381" stop-color="#0000b2"/><stop offset="0.429" stop-color="#0000a4"/><stop offset="0.476" stop-color="#0000b5"/><stop offset="0.524" stop-color="#0000c7"/><stop offset="0.571" stop-color="#0000d8"/><stop offset="0.619" stop-color="#0000e2"/><stop offset="0.667" stop-color="#0000eb"/><stop offset="0.714" stop-color="#0000f4"/><stop offset="0.762" stop-color="#007aff"/><stop offset="0.810" stop-color="#1fffd7"/><stop offset="0.857" stop-color="#96ff61"/><stop offset="0.905" stop-color="#1bffdb"/><stop offset="0.952" stop-color="#0070ff"/><stop offset="1" stop-color="#0000e3"/></linearGradient>
<linearGradient id="h67" gradientUnits="userSpaceOnUse" x1="83.2" x2="368.2"><stop offset="0.000" stop-color="#0000e1"/><stop offset="0.048" stop-color="#0000cf"/><stop offset="0.095" stop-color="#0000be"/><stop offset="0.143" stop-color="#0000ac"/><stop offset="0.190" stop-color="#0000b8"/><stop offset="0.238" stop-color="#0000c4"/><stop offset="0.286" stop-color="#0000cf"/><stop offset="0.333" stop-color="#0000c0"/><stop offset="0.381" stop-color="#0000b1"/><stop offset="0.429" stop-color="#0000a3"/><stop offset="0.476" stop-color="#0000b4"/><stop offset="0.524" stop-color="#0000c6"/><stop offset="0.571" stop-color="#0000d8"/><stop offset="0.619" stop-color="#0000e2"/><stop offset="0.667" stop-color="#0000eb"/><stop offset="0.714" stop-color="#0000f4"/><stop offset="0.762" stop-color="#0078ff"/><stop offset="0.810" stop-color="#1cffdb"/><stop offset="0.857" stop-color="#90ff67"/><stop offset="0.905" stop-color="#17ffe0"/><stop offset="0.952" stop-color="#006cff"/><stop offset="1" stop-color="#0000e1"/></linearGradient>
<linearGradient id="h68" gradientUnits="userSpaceOnUse" x1="83.2" x2="368.2"><stop offset="0.000" stop-color="#0000e1"/><stop offset="0.048" stop-color="#0000d3"/><stop offset="0.095" stop-color="#0000c6"/><stop offset="0.143" stop-color="#0000b8"/><stop offset="0.190" stop-color="#0000c1"/><stop offset="0.238" stop-color="#0000ca"/><stop offset="0.286" stop-color="#0000d3"/><stop offset="0.333" stop-color="#0000c7"/><stop offset="0.381" stop-color="#0000bb"/><stop offset="0.429" stop-color="#0000ae"/><stop offset="0.476" stop-color="#0000bd"/><stop offset="0.524" stop-color="#0000cb"/><stop offset="0.571" stop-color="#0000da"/><stop offset="0.619" stop-color="#0000e3"/><stop offset="0.667" stop-color="#0000ec"/><stop offset="0.714" stop-color="#0000f4"/><stop offset="0.762" stop-color="#0067ff"/><stop offset="0.810" stop-color="#00e6f7"/><stop offset="0.857" stop-color="#67ff90"/><stop offset="0.905" stop-color="#00e0fb"/><stop offset="0.952" stop-color="#005bff"/><stop offset="1" stop-color="#0000e1"/></linearGradient>
<linearGradient id="h69" gradientUnits="userSpaceOnUse" x1="83.2" x2="368.2"><stop offset="0.000" stop-color="#0000e1"/><stop offset="0.048" stop-color="#0000d7"/><stop offset="0.095" stop-color="#0000cd"/><stop offset="0.143" stop-color="#0000c4"/><stop offset="0.190" stop-color="#0000ca"/><stop offset="0.238" stop-color="#0000d1"/><stop offset="0.286" stop-color="#0000d7"/><stop offset="0.333" stop-color="#0000cd"/><stop offset="0.381" stop-color="#0000c4"/><stop offset="0.429" stop-color="#0000ba"/><stop offset="0.476" stop-color="#0000c5"/><stop offset="0.524" stop-color="#0000d1"/><stop offset="0.571" stop-color="#0000dc"/><stop offset="0.619" stop-color="#0000e4"/><stop offset="0.667" stop-color="#0000ec"/><stop offset="0.714" stop-color="#0000f4"/><stop offset="0.762" stop-color="#0056ff"/><stop offset="0.810" stop-color="#00c4ff"/><stop offset="0.857" stop-color="#3effb9"/><stop offset="0.905" stop-color="#00beff"/><stop offset="0.952" stop-color="#004aff"/><stop offset="1" stop-color="#0000e1"/></linearGradient>
<linearGradient id="h70" gradientUnits="userSpaceOnUse" x1="83.2" x2="368.2"><stop offset="0.000" stop-color="#0000e1"/><stop offset="0.048" stop-color="#0000db"/><stop offset="0.095" stop-color="#0000d5"/><stop offset="0.143" stop-color="#0000cf"/><stop offset="0.190" stop-color="#0000d3"/><stop offset="0.238" stop-color="#0000d7"/><stop offset="0.286" stop-color="#0000db"/><stop offset="0.333" stop-color="#0000d4"/><stop offset="0.381" stop-color="#0000cd"/><stop offset="0.429" stop-color="#0000c6"/><stop offset="0.476" stop-color="#0000ce"/><stop offset="0.524" stop-color="#0000d6"/><stop offset="0.571" stop-color="#0000de"/><stop offset="0.619" stop-color="#0000e5"/><stop offset="0.667" stop-color="#0000ed"/><stop offset="0.714" stop-color="#0000f4"/><stop offset="0.762" stop-color="#0045ff"/><stop offset="0.810" stop-color="#00a2ff"/><stop offset="0.857" stop-color="#15ffe2"/><stop offset="0.905" stop-color="#009cff"/><stop offset="0.952" stop-color="#0039ff"/><stop offset="1" stop-color="#0000e1"/></linearGradient>
<linearGradient id="h71" gradientUnits="userSpaceOnUse" x1="83.2" x2="368.2"><stop offset="0.000" stop-color="#0000e1"/><stop offset="0.048" stop-color="#0000df"/><stop offset="0.095" stop-color="#0000dd"/><stop offset="0.143" stop-color="#0000db"/><stop offset="0.190" stop-color="#0000dc"/><stop offset="0.238" stop-color="#0000de"/><stop offset="0.286" stop-color="#0000df"/><stop offset="0.333" stop-color="#0000da"/><stop offset="0.381" stop-color="#0000d6"/><stop offset="0.429" stop-color="#0000d1"/><stop offset="0.476" stop-color="#0000d6"/><stop offset="0.524" stop-color="#0000db"/><stop offset="0.571" stop-color="#0000e0"/><stop offset="0.619" stop-color="#0000e7"/><stop offset="0.667" stop-color="#0000ee"/><stop offset="0.714" stop-color="#0000f4"/><stop offset="0.762" stop-color="#0034ff"/><stop offset="0.810" stop-color="#0080ff"/><stop offset="0.857" stop-color="#00ccff"/><stop offset="0.905" stop-color="#007aff"/><stop offset="0.952" stop-color="#0028ff"/><stop offset="1" stop-color="#0000e1"/></linearGradient>
<linearGradient id="h72" gradientUnits="userSpaceOnUse" x1="83.2" x2="368.2"><stop offset="0.000" stop-color="#0000e1"/><stop offset="0.048" stop-color="#0000e1"/><stop offset="0.095" stop-color="#0000e1"/><stop offset="0.143" stop-color="#0000e1"/><stop offset="0.190" stop-color="#0000e1"/><stop offset="0.238" stop-color="#0000e1"/><stop offset="0.286" stop-color="#0000e1"/><stop offset="0.333" stop-color="#0000de"/><stop offset="0.381" stop-color="#0000db"/><stop offset="0.429" stop-color="#0000d8"/><stop offset="0.476" stop-color="#0000db"/><stop offset="0.524" stop-color="#0000de"/><stop offset="0.571" stop-color="#0000e1"/><stop offset="0.619" stop-color="#0000ec"/><stop offset="0.667" stop-color="#0000f7"/><stop offset="0.714" stop-color="#0000ff"/><stop offset="0.762" stop-color="#002bff"/><stop offset="0.810" stop-color="#0063ff"/><stop offset="0.857" stop-color="#009bff"/><stop offset="0.905" stop-color="#0059ff"/><stop offset="0.952" stop-color="#0018ff"/><stop offset="1" stop-color="#0000e1"/></linearGradient>
<linearGradient id="h73" gradientUnits="userSpaceOnUse" x1="83.2" x2="368.2"><stop offset="0.000" stop-color="#0000e1"/><stop offset="0.048" stop-color="#0000e1"/><stop offset="0.095" stop-color="#0000e1"/><stop offset="0.143" stop-color="#0000e1"/><stop offset="0.190" stop-color="#0000e1"/><stop offset="0.238" stop-color="#0000e1"/><stop offset="0.286" stop-color="#0000e1"/><stop offset="0.333" stop-color="#0000df"/><stop offset="0.381" stop-color="#0000dc"/><stop offset="0.429" stop-color="#0000da"/><stop offset="0.476" stop-color="#0000dc"/><stop offset="0.524" stop-color="#0000df"/><stop offset="0.571" stop-color="#0000e1"/><stop offset="0.619" stop-color="#0000f5"/><stop offset="0.667" stop-color="#0000ff"/><stop offset="0.714" stop-color="#000cff"/><stop offset="0.762" stop-color="#002cff"/><stop offset="0.810" stop-color="#004bff"/><stop offset="0.857" stop-color="#006bff"/><stop offset="0.905" stop-color="#003aff"/><stop offset="0.952" stop-color="#0008ff"/><stop offset="1" stop-color="#0000e1"/></linearGradient>
<linearGradient id="h74" gradientUnits="userSpaceOnUse" x1="83.2" x2="368.2"><stop offset="0.000" stop-color="#0000e1"/><stop offset="0.048" stop-color="#0000e1"/><stop offset="0.095" stop-color="#0000e1"/><stop offset="0.143" stop-color="#0000e1"/><stop offset="0.190" stop-color="#0000e1"/><stop offset="0.238" stop-color="#0000e1"/><stop offset="0.286" stop-color="#0000e1"/><stop offset="0.333" stop-color="#0000df"/><stop offset="0.381" stop-color="#0000de"/><stop offset="0.429" stop-color="#0000dc"/><stop offset="0.476" stop-color="#0000de"/><stop offset="0.524" stop-color="#0000df"/><stop offset="0.571" stop-color="#0000e1"/><stop offset="0.619" stop-color="#0000fe"/><stop offset="0.667" stop-color="#000aff"/><stop offset="0.714" stop-color="#0024ff"/><stop offset="0.762" stop-color="#002cff"/><stop offset="0.810" stop-color="#0034ff"/><stop offset="0.857" stop-color="#003cff"/><stop offset="0.905" stop-color="#001aff"/><stop offset="0.952" stop-color="#0000ff"/><stop offset="1" stop-color="#0000e1"/></linearGradient>
<linearGradient id="h75" gradientUnits="userSpaceOnUse" x1="83.2" x2="368.2"><stop offset="0.000" stop-color="#0000e1"/><stop offset="0.048" stop-color="#0000e1"/><stop offset="0.095" stop-color="#0000e1"/><stop offset="0.143" stop-color="#0000e1"/><stop offset="0.190" stop-color="#0000e1"/><stop offset="0.238" stop-color="#0000e1"/><stop offset="0.286" stop-color="#0000e1"/><stop offset="0.333" stop-color="#0000e0"/><stop offset="0.381" stop-color="#0000df"/><stop offset="0.429" stop-color="#0000de"/><stop offset="0.476" stop-color="#0000df"/><stop offset="0.524" stop-color="#0000e0"/><stop offset="0.571" stop-color="#0000e1"/><stop offset="0.619" stop-color="#0000ff"/><stop offset="0.667" stop-color="#001aff"/><stop offset="0.714" stop-color="#003cff"/><stop offset="0.762" stop-color="#002cff"/><stop offset="0.810" stop-color="#001cff"/><stop offset="0.857" stop-color="#000cff"/><stop offset="0.905" stop-color="#0000ff"/><stop offset="0.952" stop-color="#0000f5"/><stop offset="1" stop-color="#0000e1"/></linearGradient>
<linearGradient id="h76" gradientUnits="userSpaceOnUse" x1="83.2" x2="368.2"><stop offset="0.000" stop-color="#0000e1"/><stop offset="0.048" stop-color="#0000e1"/><stop offset="0.095" stop-color="#0000e1"/><stop offset="0.143" stop-color="#0000e1"/><stop offset="0.190" stop-color="#0000e1"/><stop offset="0.238" stop-color="#0000e1"/><stop offset="0.286" stop-color="#0000e1"/><stop offset="0.333" stop-color="#0000e1"/><stop offset="0.381" stop-color="#0000e0"/><stop offset="0.429" stop-color="#0000e0"/><stop offset="0.476" stop-color="#0000e0"/><stop offset="0.524" stop-color="#0000e1"/><stop offset="0.571" stop-color="#0000e1"/><stop offset="0.619" stop-color="#0000ff"/><stop offset="0.667" stop-color="#002bff"/><stop offset="0.714" stop-color="#0055ff"/><stop offset="0.762" stop-color="#002dff"/><stop offset="0.810" stop-color="#0005ff"/><stop offset="0.857" stop-color="#0000e8"/><stop offset="0.905" stop-color="#0000e6"/><stop offset="0.952" stop-color="#0000e3"/><stop offset="1" stop-color="#0000e1"/></linearGradient>
<linearGradient id="h77" gradientUnits="userSpaceOnUse" x1="83.2" x2="368.2"><stop offset="0.000" stop-color="#0000e1"/><stop offset="0.048" stop-color="#0000e1"/><stop offset="0.095" stop-color="#0000e1"/><stop offset="0.143" stop-color="#0000e1"/><stop offset="0.190" stop-color="#0000e1"/><stop offset="0.238" stop-color="#0000e1"/><stop offset="0.286" stop-color="#0000e1"/><stop offset="0.333" stop-color="#0000e1"/><stop offset="0.381" stop-color="#0000e1"/><stop offset="0.429" stop-color="#0000e1"/><stop offset="0.476" stop-color="#0000e1"/><stop offset="0.524" stop-color="#0000e1"/><stop offset="0.571" stop-color="#0000e1"/><stop offset="0.619" stop-color="#0004ff"/><stop offset="0.667" stop-color="#0033ff"/><stop offset="0.714" stop-color="#0061ff"/><stop offset="0.762" stop-color="#002dff"/><stop offset="0.810" stop-color="#0000ff"/><stop offset="0.857" stop-color="#0000cd"/><stop offset="0.905" stop-color="#0000d4"/><stop offset="0.952" stop-color="#0000da"/><stop offset="1" stop-color="#0000e1"/></linearGradient>
<linearGradient id="h78" gradientUnits="userSpaceOnUse" x1="83.2" x2="368.2"><stop offset="0.000" stop-color="#0000e1"/><stop offset="0.048" stop-color="#0000e1"/><stop offset="0.095" stop-color="#0000e1"/><stop offset="0.143" stop-color="#0000e1"/><stop offset="0.190" stop-color="#0000e1"/><stop offset="0.238" stop-color="#0000e1"/><stop offset="0.286" stop-color="#0000e1"/><stop offset="0.333" stop-color="#0000e1"/><stop offset="0.381" stop-color="#0000e1"/><stop offset="0.429" stop-color="#0000e1"/><stop offset="0.476" stop-color="#0000e1"/><stop offset="0.524" stop-color="#0000e1"/><stop offset="0.571" stop-color="#0000e1"/><stop offset="0.619" stop-color="#0004ff"/><stop offset="0.667" stop-color="#0033ff"/><stop offset="0.714" stop-color="#0061ff"/><stop offset="0.762" stop-color="#002dff"/><stop offset="0.810" stop-color="#0000ff"/><stop offset="0.857" stop-color="#0000cd"/><stop offset="0.905" stop-color="#0000d4"/><stop offset="0.952" stop-color="#0000da"/><stop offset="1" stop-color="#0000e1"/></linearGradient>
<clipPath id="fclip"><rect x="574.2" y="2026.2" width="316.1" height="315.8"/></clipPath>
<clipPath id="gclip"><rect x="1131.6" y="2031" width="308.3" height="307.6"/></clipPath>
</defs>
<rect width="1583" height="2421" fill="#fff"/>
<text x="8.5" y="38" font-weight="bold" font-size="42">(<tspan font-size="37">a</tspan>)</text>
<path d="M107 505.5A793.4 793.4 0 0 1 779.2 1354" fill="none" stroke="#c1c5c5" stroke-width="19.5" stroke-linecap="round"/>
<path d="M101.9 575.5A752.1 752.1 0 0 1 711.3 1357.7" fill="none" stroke="#84d7d9" stroke-width="2"/>
<path d="M1107 58L122 58L213 507" fill="none" stroke="#84d7d9" stroke-width="2.7" stroke-linejoin="miter"/>
<path d="M1175 282L410 282L445 618" fill="none" stroke="#84d7d9" stroke-width="2.7" stroke-linejoin="miter"/>
<path d="M1410.5 545.7L697.7 545.7L624 783" fill="none" stroke="#84d7d9" stroke-width="2.7" stroke-linejoin="miter"/>
<path d="M1489 824.3L888.4 824.3L748 1004" fill="none" stroke="#84d7d9" stroke-width="2.7" stroke-linejoin="miter"/>
<path d="M1580 1130.4L966.7 1130.4L799 1232" fill="none" stroke="#84d7d9" stroke-width="2.7" stroke-linejoin="miter"/>
<circle cx="213" cy="528.7" r="22.2" fill="#fff" stroke="#84d7d9" stroke-width="2.7"/>
<circle cx="443.7" cy="639.7" r="22.2" fill="#fff" stroke="#84d7d9" stroke-width="2.7"/>
<circle cx="614.5" cy="803" r="22.2" fill="#fff" stroke="#84d7d9" stroke-width="2.7"/>
<circle cx="734.2" cy="1021.9" r="22.2" fill="#fff" stroke="#84d7d9" stroke-width="2.7"/>
<circle cx="779.5" cy="1245" r="22.2" fill="#fff" stroke="#84d7d9" stroke-width="2.7"/>
<text x="189" y="45.9" font-size="39" fill="#808080" stroke="#808080" stroke-width="1.6" stroke-linejoin="round" lengthAdjust="spacingAndGlyphs" textLength="405">Computer simulation</text>
<text x="485.5" y="268.5" font-size="39" fill="#808080" stroke="#808080" stroke-width="1.6" stroke-linejoin="round" lengthAdjust="spacingAndGlyphs" textLength="295.5">Characterization</text>
<text x="753.8" y="531" font-size="38" fill="#808080" stroke="#808080" stroke-width="1.6" stroke-linejoin="round" lengthAdjust="spacingAndGlyphs" font-style="italic" textLength="130.5">In vitro</text>
<text x="894.8" y="531" font-size="38" fill="#808080" stroke="#808080" stroke-width="1.6" stroke-linejoin="round" lengthAdjust="spacingAndGlyphs" textLength="254.5">thermometry</text>
<text x="941.3" y="816" font-size="35.5" fill="#808080" stroke="#808080" stroke-width="1.6" stroke-linejoin="round" lengthAdjust="spacingAndGlyphs" font-style="italic" textLength="120">Ex vivo</text>
<text x="1072" y="816" font-size="35.5" fill="#808080" stroke="#808080" stroke-width="1.6" stroke-linejoin="round" lengthAdjust="spacingAndGlyphs" textLength="238">thermometry</text>
<text x="1020.8" y="1113.3" font-size="37" fill="#808080" stroke="#808080" stroke-width="1.6" stroke-linejoin="round" lengthAdjust="spacingAndGlyphs" font-style="italic" textLength="112">In vivo</text>
<text x="1143" y="1113.3" font-size="37" fill="#808080" stroke="#808080" stroke-width="1.6" stroke-linejoin="round" lengthAdjust="spacingAndGlyphs" textLength="398">photothermal therapy</text>
<rect x="226" y="72.5" width="792" height="139.5" fill="#3131c9"/>
<rect x="401" y="72.5" width="1" height="139.5" fill="#2c2cc0" opacity="0.6"/>
<rect x="579.5" y="72.5" width="1" height="139.5" fill="#2c2cc0" opacity="0.6"/>
<rect x="799.5" y="72.5" width="1" height="139.5" fill="#2c2cc0" opacity="0.6"/>
<g clip-path="url(#stripclip)">
<ellipse cx="314" cy="137.5" rx="70" ry="50" fill="url(#softglow)"/>
<ellipse cx="492.3" cy="138.2" rx="88" ry="60" fill="url(#pinkglow)"/>
<ellipse cx="689.5" cy="137.5" rx="105" ry="76" fill="url(#glow)"/>
<ellipse cx="908" cy="137.5" rx="95" ry="74" fill="url(#glow)"/>
</g>
<polygon points="273.2,137.4 314.6,113.4 356,137.4 314.6,161.4" fill="#bfeff1" stroke="#6fd4da" stroke-width="1.3"/>
<path d="M273.2 137.4L356 137.4M314.6 113.4L308 137.4L314.6 161.4" fill="none" stroke="#6fd4da" stroke-width="1.3"/>
<polygon points="441,138.2 492.3,108.9 543.6,138.2 492.3,167.5" fill="#7f7f7f"/>
<polygon points="450.8,138.2 492.3,114 533.8,138.2 492.3,162.4" fill="#bfeff1" stroke="#6fd4da" stroke-width="1.3"/>
<path d="M450.8 138.2L533.8 138.2M492.3 114L485.7 138.2L492.3 162.4" fill="none" stroke="#6fd4da" stroke-width="1.3"/>
<polygon points="633.8,137.8 689.3,105.8 744.8,137.8 689.3,169.8" fill="#f2d40f"/>
<polygon points="643.8,137.8 689.3,111.5 734.8,137.8 689.3,164.1" fill="#bfeff1" stroke="#6fd4da" stroke-width="1.3"/>
<path d="M643.8 137.8L734.8 137.8M689.3 111.5L682 137.8L689.3 164.1" fill="none" stroke="#6fd4da" stroke-width="1.3"/>
<g fill="#f2d40f"><circle cx="856.6" cy="137.8" r="3.9"/><circle cx="863.9" cy="133.6" r="3.9"/><circle cx="871.3" cy="129.4" r="3.9"/><circle cx="878.6" cy="125.2" r="3.9"/><circle cx="886" cy="121" r="3.9"/><circle cx="893.3" cy="116.8" r="3.9"/><circle cx="900.7" cy="112.6" r="3.9"/><circle cx="908" cy="108.4" r="3.9"/><circle cx="915.3" cy="112.6" r="3.9"/><circle cx="922.7" cy="116.8" r="3.9"/><circle cx="930" cy="121" r="3.9"/><circle cx="937.4" cy="125.2" r="3.9"/><circle cx="944.7" cy="129.4" r="3.9"/><circle cx="952.1" cy="133.6" r="3.9"/><circle cx="959.4" cy="137.8" r="3.9"/><circle cx="952.1" cy="142" r="3.9"/><circle cx="944.7" cy="146.2" r="3.9"/><circle cx="937.4" cy="150.4" r="3.9"/><circle cx="930" cy="154.6" r="3.9"/><circle cx="922.7" cy="158.8" r="3.9"/><circle cx="915.3" cy="163" r="3.9"/><circle cx="908" cy="167.2" r="3.9"/><circle cx="900.7" cy="163" r="3.9"/><circle cx="893.3" cy="158.8" r="3.9"/><circle cx="886" cy="154.6" r="3.9"/><circle cx="878.6" cy="150.4" r="3.9"/><circle cx="871.3" cy="146.2" r="3.9"/><circle cx="863.9" cy="142" r="3.9"/></g>
<polygon points="857,137.8 908,108.3 959,137.8 908,167.3" fill="#f2d40f"/>
<polygon points="863.5,137.8 908,112 952.5,137.8 908,163.6" fill="#7a7a7a"/>
<polygon points="871.5,137.8 908,116.8 944.5,137.8 908,158.8" fill="#bfeff1" stroke="#6fd4da" stroke-width="1.3"/>
<path d="M871.5 137.8L944.5 137.8M908 116.8L902.2 137.8L908 158.8" fill="none" stroke="#6fd4da" stroke-width="1.3"/>
<rect x="1034" y="77" width="14.5" height="132.5" fill="url(#cb1)" stroke="#777" stroke-width="0.6"/>
<path d="M1048.5 77.3h4M1048.5 209.2h4" stroke="#555" stroke-width="0.8"/>
<text x="1058.5" y="81.8" font-size="13.5" textLength="24.5" lengthAdjust="spacingAndGlyphs" >900</text>
<text x="1058.5" y="215.3" font-size="13.5" textLength="16.5" lengthAdjust="spacingAndGlyphs" >30</text>
<text x="1100" y="201.5" font-size="13.5" textLength="109" lengthAdjust="spacingAndGlyphs" transform="rotate(-90 1100 201.5)" >Temperature, °C</text>
<g transform="translate(520 280) scale(0.31492)">
<rect x="40" y="45" width="488" height="488" fill="#1b1b1b"/>
<g clip-path="url(#semb)"><g filter="url(#speck)"><g filter="url(#rough)" fill="#929292">
<circle cx="150" cy="225" r="72"/>
<circle cx="95" cy="330" r="45"/>
<circle cx="100" cy="430" r="72"/>
<circle cx="170" cy="350" r="48"/>
<circle cx="225" cy="410" r="55"/>
<circle cx="100" cy="505" r="52"/>
<circle cx="230" cy="250" r="45"/>
<circle cx="250" cy="320" r="40"/>
<circle cx="335" cy="112" r="42"/>
<circle cx="400" cy="125" r="36"/>
<circle cx="462" cy="82" r="42"/>
<circle cx="505" cy="110" r="30"/>
<circle cx="230" cy="480" r="40"/>
<circle cx="60" cy="300" r="30"/>
</g></g>
<g filter="url(#s2)" fill="#d6d6d6"><circle cx="190" cy="152" r="24"/><circle cx="135" cy="292" r="20"/><circle cx="150" cy="352" r="17"/><circle cx="300" cy="105" r="17"/><circle cx="68" cy="330" r="16"/></g>
<g filter="url(#s2)" fill="#161616"><ellipse cx="232" cy="268" rx="28" ry="20"/><ellipse cx="185" cy="400" rx="12" ry="26"/></g>
</g>
<rect x="44" y="49" width="480" height="480" fill="none" stroke="#a9a9a9" stroke-width="8"/>
<rect x="262" y="152" width="486" height="463" fill="#1a1a1a"/>
<g clip-path="url(#semf)"><g filter="url(#rough2)" fill="#e4e4e4" stroke="#e4e4e4" stroke-width="10" stroke-linejoin="round">
<polygon points="490,192 520,183 548,196 551,224 525,242 496,233"/>
<polygon points="443,270 470,250 510,256 518,284 490,303 452,297"/>
<polygon points="532,242 564,233 580,255 569,276 541,279"/>
<polygon points="532,293 588,284 610,320 615,355 590,388 552,392 527,350"/>
<polygon points="588,285 602,283 604,298 592,302"/>
<polygon points="468,376 500,358 543,371 547,399 515,422 478,409"/>
<polygon points="492,441 520,428 562,441 567,469 540,497 497,493"/>
<polygon points="492,521 525,508 553,521 553,553 525,569 494,558"/>
<polygon points="415,501 450,485 483,501 486,544 455,572 421,554"/>
</g><g filter="url(#s2)" fill="none" stroke="#c4c4c4" stroke-width="5"><path d="M470 250L490 303M552 392L560 340L610 320M515 422L500 358M525 508L540 497"/></g>
<g filter="url(#s3)" fill="#3a3a3a"><ellipse cx="400" cy="560" rx="28" ry="20"/></g></g>
<rect x="266" y="156" width="478" height="455" fill="none" stroke="#a9a9a9" stroke-width="8"/>
<rect x="853" y="53" width="460" height="442" fill="#e9e9e9"/>
<g clip-path="url(#temb)" >
<g filter="url(#s2)"><polygon points="862,70 905,66 918,105 890,122 864,100" fill="#4a4a4a"/><polygon points="920,100 950,90 970,140 945,158 925,135" fill="#8a8a8a"/><polygon points="864,210 915,205 948,268 905,272 872,245" fill="#5c5c5c"/><polygon points="915,205 960,200 988,245 950,250" fill="#7e7e7e"/><polygon points="985,200 1040,196 1050,240 1000,250" fill="#6a6a6a"/><polygon points="985,250 1050,245 1053,300 1000,300 975,280" fill="#565656"/><polygon points="908,290 955,280 972,330 945,352 905,330" fill="#666"/><polygon points="1050,128 1085,125 1092,150 1060,150" fill="#777"/></g>
</g>
<rect x="857" y="57" width="452" height="434" fill="none" stroke="#ababab" stroke-width="7"/>
<rect x="1053" y="148" width="459" height="457" fill="#dedede"/>
<g clip-path="url(#temf)">
<g filter="url(#speck2)"><g filter="url(#rough)"><path d="M1160 140L1520 140L1520 330L1500 400L1452 450L1442 520L1380 562L1300 552L1250 522L1200 562L1130 592L1050 610L1050 330L1100 342L1150 290L1138 230Z" fill="#a2a2a2"/></g></g>
<g filter="url(#s6)">
<ellipse cx="1230" cy="178" rx="48" ry="28" fill="#2a2a2a" opacity="0.85"/>
<ellipse cx="1486" cy="178" rx="22" ry="30" fill="#151515" opacity="0.85"/>
<ellipse cx="1392" cy="208" rx="24" ry="26" fill="#3c3c3c" opacity="0.85"/>
<ellipse cx="1262" cy="282" rx="40" ry="36" fill="#4a4a4a" opacity="0.85"/>
<ellipse cx="1320" cy="412" rx="24" ry="26" fill="#333" opacity="0.85"/>
<ellipse cx="1172" cy="372" rx="42" ry="30" fill="#555" opacity="0.85"/>
<ellipse cx="1092" cy="480" rx="44" ry="56" fill="#5a5a5a" opacity="0.85"/>
<ellipse cx="1202" cy="540" rx="28" ry="20" fill="#3c3c3c" opacity="0.85"/>
<ellipse cx="1425" cy="335" rx="40" ry="40" fill="#6a6a6a" opacity="0.85"/>
<ellipse cx="1350" cy="540" rx="40" ry="20" fill="#666" opacity="0.85"/>
</g>
<ellipse cx="1350" cy="366" rx="13" ry="9" fill="#f4f4f4" filter="url(#s2)"/>
</g>
<rect x="1057" y="152" width="451" height="449" fill="none" stroke="#ababab" stroke-width="7"/>
</g>
<text x="699" y="317.8" font-size="24" textLength="46.5" lengthAdjust="spacingAndGlyphs" >SEM</text>
<text x="947.5" y="318" font-size="24" textLength="43.5" lengthAdjust="spacingAndGlyphs" >TEM</text>
<path d="M1101 440V303M1100 439.7H1232" fill="none" stroke="#1e140a" stroke-width="2.6"/>
<polygon points="1101,291.5 1093.3,322 1108.7,322" fill="#1e140a"/>
<polygon points="1251,439.7 1222,432 1222,447.4" fill="#1e140a"/>
<path d="M1108.7 429.4C1110.4 429.1 1116.4 429.3 1118.5 427.8C1120.7 426.4 1120.8 428.3 1121.6 420.6C1122.5 412.9 1123 395.1 1123.7 381.9C1124.4 368.7 1124.9 343.4 1125.8 341.6C1126.6 339.9 1127.7 362.3 1128.9 371.6C1130.1 380.9 1131.3 390.5 1133 397.4C1134.7 404.3 1136.4 408.7 1139.2 412.9C1141.9 417 1144.9 419.8 1149.5 422.1C1154.2 424.5 1158.1 425.9 1167.1 426.8C1176 427.7 1192.6 427.2 1203.2 427.3C1213.8 427.4 1226 427.3 1230.5 427.3" fill="none" stroke="#7f1aff" stroke-width="4.8" stroke-linecap="butt" stroke-linejoin="round"/>
<path d="M1108.7 424.2C1110.5 424 1117 424.6 1119.1 422.7C1121.1 420.8 1120.5 423.1 1121.1 412.9C1121.7 402.6 1122.2 376.6 1122.7 361.3C1123.2 345.9 1123.7 328.2 1124.2 321C1124.7 313.8 1125.1 316.4 1125.8 317.9C1126.5 319.5 1127.1 323.9 1128.4 330.3C1129.6 336.7 1130.8 348.2 1133 356.1C1135.1 364 1137.7 371.4 1141.3 377.8C1144.8 384.1 1149 389.4 1154.2 394.3C1159.3 399.2 1165.8 403.6 1172.2 407.2C1178.7 410.8 1186 413.5 1192.9 416C1199.7 418.4 1207.2 420.3 1213.5 421.6C1219.8 423 1227.7 423.8 1230.5 424.2" fill="none" stroke="#ff0d0d" stroke-width="5.2" stroke-linecap="butt" stroke-linejoin="round"/>
<text x="1083" y="436.5" font-size="29" textLength="135" lengthAdjust="spacingAndGlyphs" transform="rotate(-90 1083 436.5)" >Signal, a.u.</text>
<text x="1114.5" y="467" font-size="29" textLength="103" lengthAdjust="spacingAndGlyphs" >Time, ns</text>
<text x="1185" y="361.3" font-size="29" textLength="103" lengthAdjust="spacingAndGlyphs" >Lifetime</text>
<polygon points="92.9,697.6 189,642.3 285.1,697.6 189,752.9" fill="#ecd512"/>
<polygon points="110.3,697.6 189,652.4 267.7,697.6 189,742.9" fill="#bfeff1" stroke="#86dadd" stroke-width="1.3"/>
<path d="M110.3 697.6L267.7 697.6M189 652.4L176.4 697.6L189 742.9" fill="none" stroke="#86dadd" stroke-width="1.3"/>
<text x="128.5" y="789.2" font-size="36" textLength="117.5" lengthAdjust="spacingAndGlyphs" >NV@Au</text>
<polygon points="341.8,879.3 437.8,824.3 533.8,879.3 437.8,934.3" fill="#7d7d7d"/>
<polygon points="357.8,879.3 437.8,833.6 517.8,879.3 437.8,925" fill="#bfeff1" stroke="#86dadd" stroke-width="1.3"/>
<path d="M357.8 879.3L517.8 879.3M437.8 833.6L425 879.3L437.8 925" fill="none" stroke="#86dadd" stroke-width="1.3"/>
<text x="377.8" y="970.7" font-size="36" textLength="140.5" lengthAdjust="spacingAndGlyphs">NV@SiO<tspan font-size="23" dy="5">2</tspan></text>
<polygon points="88,1028.2 175,978.7 262,1028.2 175,1077.7" fill="#bfeff1" stroke="#8fdde0" stroke-width="1.5"/>
<path d="M88 1028.2L262 1028.2M175 978.7L161.1 1028.2L175 1077.7" fill="none" stroke="#8fdde0" stroke-width="1.5"/>
<text x="150" y="1119.3" font-size="36" textLength="48" lengthAdjust="spacingAndGlyphs" >NV</text>
<g fill="#ecd512"><circle cx="414.5" cy="1165.9" r="8.3"/><circle cx="430.4" cy="1156.8" r="8.3"/><circle cx="446.3" cy="1147.7" r="8.3"/><circle cx="462.2" cy="1138.6" r="8.3"/><circle cx="478.2" cy="1129.5" r="8.3"/><circle cx="494.1" cy="1120.4" r="8.3"/><circle cx="510" cy="1111.3" r="8.3"/><circle cx="525.9" cy="1102.2" r="8.3"/><circle cx="541.8" cy="1111.3" r="8.3"/><circle cx="557.7" cy="1120.4" r="8.3"/><circle cx="573.6" cy="1129.5" r="8.3"/><circle cx="589.6" cy="1138.6" r="8.3"/><circle cx="605.5" cy="1147.7" r="8.3"/><circle cx="621.4" cy="1156.8" r="8.3"/><circle cx="637.3" cy="1165.9" r="8.3"/><circle cx="621.4" cy="1175" r="8.3"/><circle cx="605.5" cy="1184.1" r="8.3"/><circle cx="589.6" cy="1193.2" r="8.3"/><circle cx="573.6" cy="1202.3" r="8.3"/><circle cx="557.7" cy="1211.4" r="8.3"/><circle cx="541.8" cy="1220.5" r="8.3"/><circle cx="525.9" cy="1229.6" r="8.3"/><circle cx="510" cy="1220.5" r="8.3"/><circle cx="494.1" cy="1211.4" r="8.3"/><circle cx="478.2" cy="1202.3" r="8.3"/><circle cx="462.2" cy="1193.2" r="8.3"/><circle cx="446.3" cy="1184.1" r="8.3"/><circle cx="430.4" cy="1175" r="8.3"/></g>
<polygon points="414.5,1165.9 525.9,1102.2 637.3,1165.9 525.9,1229.6" fill="#ecd512"/>
<polygon points="429.4,1165.9 525.9,1110.6 622.4,1165.9 525.9,1221.2" fill="#7b7b7b"/>
<polygon points="446.8,1165.9 525.9,1120.6 605,1165.9 525.9,1211.2" fill="#bfeff1" stroke="#86dadd" stroke-width="1.3"/>
<path d="M446.8 1165.9L605 1165.9M525.9 1120.6L513.2 1165.9L525.9 1211.2" fill="none" stroke="#86dadd" stroke-width="1.3"/>
<text x="425.7" y="1272" font-size="36" textLength="212" lengthAdjust="spacingAndGlyphs">NV@SiO<tspan font-size="23" dy="5">2</tspan><tspan dy="-5">@Au</tspan></text>
<g fill="none" stroke="#1a1a1a" stroke-width="1.25" stroke-dasharray="5.2 3.4"><ellipse cx="814.7" cy="714.7" rx="47.2" ry="71.3"/><ellipse cx="835.3" cy="714.7" rx="26.6" ry="71.3"/><ellipse cx="908.2" cy="714.7" rx="46.3" ry="71.3"/><ellipse cx="888" cy="714.7" rx="26.1" ry="71.3"/></g>
<rect x="847.6" y="572.7" width="25.4" height="18.9" fill="#716f6b"/>
<rect x="851.5" y="591.6" width="17.6" height="15.1" rx="1.5" fill="#989493"/>
<rect x="855.7" y="606.7" width="10.4" height="13.9" fill="#6f6d69"/>
<rect x="858.4" y="620.6" width="5" height="65" fill="url(#beam)"/>
<g transform="translate(740 550) scale(0.23136)">
<path d="M268 606C268 604.8 307.2 613 330 613C352.8 613 394.5 610.6 420 606C445.5 601.4 481.2 586.6 500 582C518.8 577.4 530 574.4 545 575C560 575.6 582.8 585.2 600 586C617.2 586.8 642 583.6 660 580C678 576.4 704.7 565.6 720 562C735.3 558.4 757.2 551.5 762 556C766.8 560.5 756.8 582.1 752 592C747.2 601.9 732.4 613 730 622C727.6 631 730.9 644.4 736 652C741.1 659.6 752.6 668.8 764 673C775.4 677.2 812.3 676.5 812 680C811.7 683.5 778.8 690.6 762 696C745.2 701.4 721.3 708.5 700 716C678.7 723.5 647 734.6 620 746C593 757.4 548.5 777.6 520 792C491.5 806.4 454 827.9 430 842C406 856.1 377.1 876.4 360 886C342.9 895.6 321.1 907.2 316 906C310.9 904.8 320 889.4 326 878C332 866.6 347.9 842.9 356 830C364.1 817.1 379.4 800 380 792C380.6 784 368.4 780.3 360 777C351.6 773.7 324 774.6 324 770C324 765.4 349.2 753.5 360 746C370.8 738.5 388.4 728.4 396 720C403.6 711.6 409.6 699.6 411 690C412.4 680.4 409.6 664.1 405 656C400.4 647.9 391.2 641.2 380 636C368.8 630.8 346.8 625.5 330 621C313.2 616.5 268 607.2 268 606Z" fill="#a79ce2" stroke="#000" stroke-width="10" stroke-linejoin="round"/>
<path d="M268 606C268 604.8 307.2 613 330 613C352.8 613 394.5 610.6 420 606C445.5 601.4 481.2 586.6 500 582C518.8 577.4 530 574.4 545 575C560 575.6 582.8 585.2 600 586C617.2 586.8 642 583.6 660 580C678 576.4 704.7 565.6 720 562C735.3 558.4 757.2 551.5 762 556C766.8 560.5 756.8 582.1 752 592C747.2 601.9 732.4 613 730 622C727.6 631 730.9 644.4 736 652C741.1 659.6 752.6 668.8 764 673C775.4 677.2 812.3 676.5 812 680C811.7 683.5 778.8 690.6 762 696C745.2 701.4 721.3 708.5 700 716C678.7 723.5 647 734.6 620 746C593 757.4 548.5 777.6 520 792C491.5 806.4 454 827.9 430 842C406 856.1 377.1 876.4 360 886C342.9 895.6 321.1 907.2 316 906C310.9 904.8 320 889.4 326 878C332 866.6 347.9 842.9 356 830C364.1 817.1 379.4 800 380 792C380.6 784 368.4 780.3 360 777C351.6 773.7 324 774.6 324 770C324 765.4 349.2 753.5 360 746C370.8 738.5 388.4 728.4 396 720C403.6 711.6 409.6 699.6 411 690C412.4 680.4 409.6 664.1 405 656C400.4 647.9 391.2 641.2 380 636C368.8 630.8 346.8 625.5 330 621C313.2 616.5 268 607.2 268 606Z" fill="none" stroke="#bdb3ee" stroke-width="5" transform="translate(537 700) scale(0.9) translate(-537 -700)" opacity="0.7"/>
<g transform="rotate(-12 460 633)"><polygon points="422,633 460,611 498,633 460,655" fill="#a2ebe8" stroke="#7fd6d6" stroke-width="2"/><path d="M430 633H490M460 617V649" stroke="#d8f8f6" stroke-width="2.5"/></g>
<g transform="rotate(12 605 622)"><polygon points="567,622 605,600 643,622 605,644" fill="#a2ebe8" stroke="#7fd6d6" stroke-width="2"/><path d="M575 622H635M605 606V638" stroke="#d8f8f6" stroke-width="2.5"/></g>
<g transform="rotate(10 692 682)"><polygon points="654,682 692,660 730,682 692,704" fill="#a2ebe8" stroke="#7fd6d6" stroke-width="2"/><path d="M662 682H722M692 666V698" stroke="#d8f8f6" stroke-width="2.5"/></g>
<g transform="rotate(18 447 765)"><polygon points="409,765 447,743 485,765 447,787" fill="#a2ebe8" stroke="#7fd6d6" stroke-width="2"/><path d="M417 765H477M447 749V781" stroke="#d8f8f6" stroke-width="2.5"/></g>
<ellipse cx="537" cy="688" rx="70" ry="50" fill="#6a5faf" stroke="#000" stroke-width="9" transform="rotate(-14 537 688)"/>
</g>
<rect x="858.4" y="676" width="5" height="12" fill="#c8f0d0" opacity="0.55"/>
<text x="774.7" y="634.4" font-size="24" textLength="12.7" lengthAdjust="spacingAndGlyphs" >B</text>
<path d="M774.7 610.9H788.4" stroke="#000" stroke-width="1"/>
<polygon points="790.4,610.9 784.4,608.6 784.4,613.2" fill="#000"/>
<text x="870" y="632.8" font-size="16" textLength="58" lengthAdjust="spacingAndGlyphs" >532 nm</text>
<path d="M981 696.3V656.9A6.3 6.3 0 0 1 993.8 656.9V696.3A15.8 15.8 0 1 1 981 696.3Z" fill="#fff" stroke="#000" stroke-width="3"/>
<circle cx="987.4" cy="710.8" r="7.3" fill="#e2001a"/>
<path d="M987.4 710.8V665.4" stroke="#e2001a" stroke-width="3.9" stroke-linecap="round"/>
<path d="M1011.2 717V674" stroke="#000" stroke-width="1.6"/>
<polygon points="1011.2,662 1007.2,676 1015.2,676" fill="#000"/>
<text x="1020.4" y="700.4" font-size="25" textLength="47.7" lengthAdjust="spacingAndGlyphs" >T, °C</text>
<rect x="1109.1" y="580.5" width="189.1" height="171.7" fill="#fff" stroke="#111" stroke-width="1.2"/>
<path d="M1154.4 719.8V599.6M1153.2 718.6H1276.6" stroke="#1e140a" stroke-width="2.4" fill="none"/>
<polygon points="1154.4,589.6 1146.6,618.1 1162.2,618.1" fill="#1e140a"/>
<polygon points="1286.6,718.6 1257.6,711.1 1257.6,726.1" fill="#1e140a"/>
<path d="M1166 625.4C1166.7 625.3 1169.3 625.4 1171 625C1172.7 624.6 1176.5 622.8 1178 622.6C1179.5 622.4 1180.8 622.9 1181.7 623.6C1182.6 624.3 1183.8 625.7 1184.5 627.5C1185.1 629.4 1185.7 633.4 1186.3 637C1186.9 640.7 1187.3 647.5 1188.6 653.6C1189.9 659.7 1193.9 674.1 1195.6 680.4C1197.3 686.7 1199.8 695.5 1200.9 698.6C1202.1 701.6 1203.1 702.7 1203.9 702.5C1204.7 702.3 1205.5 700.5 1206.3 697C1207.1 693.4 1208.5 683.5 1209.5 677.3C1210.4 671 1212.2 658.2 1213.2 652C1214.1 645.8 1215.5 636.8 1216.4 633.1C1217.2 629.3 1218.3 626.6 1219.2 625.2C1220 623.7 1220 623.2 1222.4 622.8C1224.8 622.5 1230.4 622.3 1236.4 622.6C1242.4 622.9 1259.3 624.4 1265.3 624.8C1271.3 625.2 1276.2 625.8 1279.3 625.3C1282.4 624.8 1286.2 621.8 1287.3 621.2" fill="none" stroke="#ff0d0d" stroke-width="4.5" stroke-linecap="butt" stroke-linejoin="round"/>
<path d="M1166 622.1C1166.7 622.1 1169.3 622.3 1171 622.4C1172.7 622.5 1174.6 622.5 1178 622.6C1181.4 622.7 1192 622.7 1195.6 622.8C1199.2 622.9 1202.1 622.9 1203.6 623.6C1205.1 624.3 1205.7 625.7 1206.4 627.5C1207 629.4 1207.6 633.4 1208.2 637C1208.8 640.7 1209.2 647.5 1210.5 653.6C1211.8 659.7 1215.8 674.1 1217.5 680.4C1219.2 686.7 1221.7 695.5 1222.8 698.6C1224 701.6 1225 702.7 1225.8 702.5C1226.6 702.3 1227.4 700.5 1228.2 697C1229 693.4 1230.4 683.5 1231.3 677.3C1232.3 671 1234.1 658.2 1235 652C1236 645.8 1237.4 636.8 1238.3 633.1C1239.1 629.3 1240.2 626.6 1241.1 625.2C1241.9 623.7 1241.9 623.2 1244.3 622.8C1246.7 622.5 1255.4 622.3 1258.3 622.6C1261.2 622.9 1262.4 624.7 1265.3 624.8C1268.2 624.9 1276.2 623 1279.3 623.1C1282.4 623.2 1286.2 625.2 1287.3 625.6" fill="none" stroke="#7f1aff" stroke-width="4.5" stroke-linecap="butt" stroke-linejoin="round"/>
<text x="1179.8" y="744.5" font-size="23.5" textLength="68.6" lengthAdjust="spacingAndGlyphs" >f, MHz</text>
<text x="1137.4" y="717.6" font-size="23.5" textLength="116" lengthAdjust="spacingAndGlyphs" transform="rotate(-90 1137.4 717.6)" >Signal, a.u.</text>
<text x="1179.8" y="573.4" font-size="19.5" textLength="59.4" lengthAdjust="spacingAndGlyphs" >ODMR</text>
<rect x="996.7" y="840.9" width="30.1" height="21" fill="#716f6b"/>
<rect x="1001.3" y="861.9" width="20.9" height="17.8" rx="1.5" fill="#989493"/>
<rect x="1006.9" y="879.7" width="11.1" height="17.4" fill="#6f6d69"/>
<g transform="translate(900 830) scale(0.23136)">
<polygon points="122,800 680,605 825,680 825,692 250,917 122,812" fill="#b9c4d6" stroke="#a7b4c8" stroke-width="2"/>
<polygon points="122,800 680,605 825,680 250,905" fill="#e3e8f1" stroke="#a9b9d2" stroke-width="3"/>
<polygon points="122,800 262,751 392,850 250,905" fill="#c6ccd8" opacity="0.9"/>
<path d="M262 751L392 850L392 861" stroke="#a9b4c4" stroke-width="2.5" fill="none"/>
</g>
<g fill="none" stroke="#1a1a1a" stroke-width="1.25" stroke-dasharray="5.2 3.4"><ellipse cx="966.4" cy="1001.4" rx="46.2" ry="71.5"/><ellipse cx="986.8" cy="1001.4" rx="26" ry="71.5"/><ellipse cx="1058" cy="1001.4" rx="45.2" ry="71.5"/><ellipse cx="1037.4" cy="1001.4" rx="24.6" ry="71.5"/></g>
<g transform="translate(900 830) scale(0.23136)">
<path d="M410 752C410.8 743.3 418.3 730.7 430 722C441.7 713.3 461.7 707 480 700C498.3 693 520 684.7 540 680C560 675.3 581.7 672.3 600 672C618.3 671.7 636.7 676 650 678C663.3 680 675.7 679.3 680 684C684.3 688.7 682.7 698.3 676 706C669.3 713.7 654.3 721.7 640 730C625.7 738.3 608.3 748.7 590 756C571.7 763.3 550 769.7 530 774C510 778.3 487.5 782 470 782C452.5 782 435 779 425 774C415 769 409.2 760.7 410 752Z" fill="#e6a79e" stroke="#d48f88" stroke-width="2"/>
<path d="M470 712C500 725 520 720 540 700M520 740C540 725 575 728 590 705M500 700C510 715 505 735 490 760M560 745C570 735 600 725 615 700M440 735C460 745 480 740 500 745M600 730C620 720 640 715 655 700" stroke="#bf7670" stroke-width="2.5" fill="none"/>
<path d="M560 720C570 715 580 712 588 700M520 742C530 738 535 735 540 728" stroke="#5a2a2a" stroke-width="2.5" fill="none"/>
</g>
<polygon points="1009.2,897.1 1015.7,897.1 1013.6,984 1011.8,984" fill="url(#beam)"/>
<text x="919.7" y="934.1" font-size="24" textLength="11.5" lengthAdjust="spacingAndGlyphs" >B</text>
<path d="M919.7 910.6H932.2" stroke="#000" stroke-width="1"/>
<polygon points="934.2,910.6 928.2,908.3 928.2,912.9" fill="#000"/>
<text x="1022.6" y="916.1" font-size="15.5" textLength="53.7" lengthAdjust="spacingAndGlyphs" >532 nm</text>
<path d="M1133.4 1001.5V964.6A5.9 5.9 0 0 1 1145.2 964.6V1001.5A14.8 14.8 0 1 1 1133.4 1001.5Z" fill="#fff" stroke="#000" stroke-width="2.9"/>
<circle cx="1139.3" cy="1015.1" r="6.9" fill="#e2001a"/>
<path d="M1139.3 1015.1V972.6" stroke="#e2001a" stroke-width="3.7" stroke-linecap="round"/>
<path d="M1161.4 1021V981" stroke="#000" stroke-width="1.6"/>
<polygon points="1161.4,970 1157.4,983 1165.4,983" fill="#000"/>
<text x="1169.5" y="1004.7" font-size="23" textLength="44" lengthAdjust="spacingAndGlyphs" >T, °C</text>
<rect x="1256.2" y="858.2" width="204.4" height="183.1" fill="#fff" stroke="#111" stroke-width="1.2"/>
<path d="M1302.5 1009.3V880.1M1301.3 1008.1H1433.6" stroke="#1e140a" stroke-width="2.4" fill="none"/>
<polygon points="1302.5,870.1 1294.7,898.6 1310.3,898.6" fill="#1e140a"/>
<polygon points="1443.6,1008.1 1414.6,1000.6 1414.6,1015.6" fill="#1e140a"/>
<path d="M1314 905C1314.7 904.9 1317.3 905 1319 904.6C1320.7 904.2 1324.6 902.4 1326 902.2C1327.4 902 1328.2 902.5 1329.1 903.2C1330 903.9 1331.5 905.4 1332.2 907.5C1332.9 909.5 1333.6 913.8 1334.2 917.7C1334.9 921.6 1335.4 929 1336.8 935.6C1338.2 942.2 1342.6 957.8 1344.5 964.6C1346.4 971.4 1349.1 980.9 1350.4 984.2C1351.7 987.6 1352.9 988.7 1353.7 988.5C1354.5 988.3 1355.5 986.4 1356.4 982.5C1357.2 978.7 1358.8 968 1359.9 961.2C1360.9 954.4 1362.9 940.6 1364 933.9C1365 927.2 1366.6 917.5 1367.5 913.4C1368.5 909.4 1369.7 906.5 1370.6 904.9C1371.5 903.4 1371.7 902.7 1374.2 902.3C1376.7 902 1381.8 901.9 1388.2 902.2C1394.6 902.5 1413.6 904 1420 904.4C1426.4 904.8 1430.9 905.4 1434 904.9C1437.1 904.4 1440.9 901.4 1442 900.8" fill="none" stroke="#ff0d0d" stroke-width="4.7" stroke-linecap="butt" stroke-linejoin="round"/>
<path d="M1314 901.7C1314.7 901.7 1317.3 901.9 1319 902C1320.7 902.1 1322.5 902.1 1326 902.2C1329.5 902.3 1340.5 902.3 1344.2 902.4C1347.9 902.5 1350.6 902.5 1352.2 903.2C1353.8 903.9 1354.6 905.4 1355.3 907.5C1356 909.5 1356.7 913.8 1357.3 917.7C1358 921.6 1358.5 929 1359.9 935.6C1361.3 942.2 1365.7 957.8 1367.6 964.6C1369.5 971.4 1372.2 980.9 1373.5 984.2C1374.8 987.6 1376 988.7 1376.8 988.5C1377.6 988.3 1378.6 986.4 1379.5 982.5C1380.3 978.7 1381.9 968 1383 961.2C1384 954.4 1386 940.6 1387 933.9C1388.1 927.2 1389.7 917.5 1390.6 913.4C1391.6 909.4 1392.8 906.5 1393.7 904.9C1394.6 903.4 1394.8 902.7 1397.3 902.3C1399.8 902 1408.1 901.9 1411.3 902.2C1414.5 902.5 1416.8 904.3 1420 904.4C1423.2 904.5 1430.9 902.6 1434 902.7C1437.1 902.8 1440.9 904.9 1442 905.2" fill="none" stroke="#7f1aff" stroke-width="4.7" stroke-linecap="butt" stroke-linejoin="round"/>
<text x="1331" y="1032.5" font-size="25.5" textLength="72.7" lengthAdjust="spacingAndGlyphs" >f, MHz</text>
<text x="1286" y="1005.5" font-size="25.5" textLength="125" lengthAdjust="spacingAndGlyphs" transform="rotate(-90 1286 1005.5)" >Signal, a.u.</text>
<text x="1331" y="851" font-size="19.5" textLength="62.4" lengthAdjust="spacingAndGlyphs" >ODMR</text>
<rect x="1122" y="1142" width="35.7" height="25.2" fill="#716f6b"/>
<rect x="1127.6" y="1167.2" width="24.7" height="20.3" rx="1.5" fill="#989493"/>
<rect x="1134" y="1187.5" width="13.5" height="20" fill="#6f6d69"/>
<g transform="translate(1000 1130) scale(0.1928)">
<path d="M862 1020C876.7 1023.7 910.3 1041.3 950 1042C989.7 1042.7 1050 1030.5 1100 1024C1150 1017.5 1225 1006.5 1250 1003" fill="none" stroke="#a9736d" stroke-width="30" stroke-linecap="round"/>
<path d="M1250 1003C1270 1007.8 1338 1017.2 1370 1032C1402 1046.8 1430 1082 1442 1092" fill="none" stroke="#a9736d" stroke-width="23" stroke-linecap="round"/>
<path d="M1442 1092C1446.7 1101.7 1468.7 1132.8 1470 1150C1471.3 1167.2 1453.3 1187.5 1450 1195" fill="none" stroke="#a9736d" stroke-width="14" stroke-linecap="round"/>
<path d="M862 1020C876.7 1023.7 910.3 1041.3 950 1042C989.7 1042.7 1050 1030.5 1100 1024C1150 1017.5 1205 1001.7 1250 1003C1295 1004.3 1338 1017.2 1370 1032C1402 1046.8 1430 1082 1442 1092" fill="none" stroke="#c4938c" stroke-width="9" stroke-linecap="round" transform="translate(0 -4)"/>
<g fill="#c7948f"><ellipse cx="300" cy="1090" rx="42" ry="14" transform="rotate(-8 300 1090)"/><ellipse cx="650" cy="1084" rx="55" ry="14" transform="rotate(-6 650 1084)"/><ellipse cx="735" cy="1068" rx="40" ry="16" transform="rotate(-15 735 1068)"/><ellipse cx="668" cy="1098" rx="14" ry="8"/></g>
<path d="M208 815C205 780 225 752 255 750C280 752 275 785 262 800Z" fill="#4a4644"/>
<path d="M75 1030C72.5 1017.5 85 1001.7 95 985C105 968.3 121.7 949.2 135 930C148.3 910.8 162.2 889.2 175 870C187.8 850.8 197.8 829.2 212 815C226.2 800.8 242 792.5 260 785C278 777.5 300 776.2 320 770C340 763.8 361.7 757 380 748C398.3 739 413.3 723.3 430 716C446.7 708.7 458.3 704.7 480 704C501.7 703.3 531.7 706 560 712C588.3 718 623.3 730.3 650 740C676.7 749.7 698.3 756.7 720 770C741.7 783.3 761.7 801.7 780 820C798.3 838.3 816.7 858.3 830 880C843.3 901.7 852.3 930 860 950C867.7 970 875 984.7 876 1000C877 1015.3 878.7 1033.3 866 1042C853.3 1050.7 817.7 1050.3 800 1052C782.3 1053.7 776.7 1048 760 1052C743.3 1056 726.7 1071 700 1076C673.3 1081 633.3 1082 600 1082C566.7 1082 530 1074.7 500 1076C470 1077.3 446.7 1088.3 420 1090C393.3 1091.7 368.3 1087.7 340 1086C311.7 1084.3 276.7 1083.3 250 1080C223.3 1076.7 203.3 1069.3 180 1066C156.7 1062.7 127.5 1066 110 1060C92.5 1054 77.5 1042.5 75 1030Z" fill="#524e4c"/>
<path d="M330 1000C400 1040 520 1030 560 960" fill="none" stroke="#474341" stroke-width="10" opacity="0.7"/>
<ellipse cx="80" cy="1032" rx="9" ry="13" fill="#c7948f"/>
<ellipse cx="338" cy="833" rx="48" ry="64" fill="#c4908b" transform="rotate(18 338 833)"/>
<ellipse cx="334" cy="840" rx="28" ry="46" fill="#d5a59f" transform="rotate(18 334 840)"/>
<ellipse cx="188" cy="940" rx="17" ry="14" fill="#1a1616"/><circle cx="183" cy="936" r="4" fill="#777"/>
<path d="M90 1005L15 940M92 1012L12 962M95 1020L30 995M150 1040L250 1085" stroke="#999" stroke-width="2" fill="none"/>
<path d="M660 960C660.7 945.8 662 925.3 672 915C682 904.7 700.3 900.5 720 898C739.7 895.5 772.5 894.7 790 900C807.5 905.3 818.7 917.5 825 930C831.3 942.5 832.2 962.5 828 975C823.8 987.5 814.7 1000.8 800 1005C785.3 1009.2 756.7 998.8 740 1000C723.3 1001.2 712 1012 700 1012C688 1012 674.7 1008.7 668 1000C661.3 991.3 659.3 974.2 660 960Z" fill="#e9dab4"/>
<path d="M760 940C790 950 800 975 790 998" fill="none" stroke="#d8c79e" stroke-width="8"/>
<path d="M810 915L845 905M800 1003L850 1000" stroke="#111" stroke-width="5"/>
</g>
<rect x="1137.7" y="1207.5" width="6.5" height="97" fill="url(#beam)"/>
<text x="1156.6" y="1234.5" font-size="20.5" textLength="68.6" lengthAdjust="spacingAndGlyphs" >532 nm</text>
<path d="M1165 1301L1425 1213.3M1170 1322.5L1510.5 1299.8" stroke="#111" stroke-width="1.4" stroke-dasharray="9.6 5.6" fill="none"/>
<rect x="1422" y="1207.8" width="116.5" height="92" rx="19.5" fill="#fff" stroke="#111" stroke-width="1.3"/>
<path d="M1446.7 1260.5V1222.2A6.2 6.2 0 0 1 1459.2 1222.2V1260.5A15.1 15.1 0 1 1 1446.7 1260.5Z" fill="#fff" stroke="#000" stroke-width="2.9"/>
<circle cx="1452.9" cy="1274.2" r="6.8" fill="#e2001a"/>
<path d="M1452.9 1274.2V1230.7" stroke="#e2001a" stroke-width="3.9" stroke-linecap="round"/>
<path d="M1475.2 1280.5V1240" stroke="#000" stroke-width="1.6"/>
<polygon points="1475.2,1227.6 1471.2,1242 1479.2,1242" fill="#000"/>
<text x="1485.2" y="1264.2" font-size="24.5" textLength="41.8" lengthAdjust="spacingAndGlyphs" >t, °C</text>
<rect x="3" y="1408" width="1575" height="2" fill="#bcc0c0"/>
<text x="8.5" y="1448.5" font-weight="bold" font-size="42">(<tspan font-size="37">b</tspan>)</text>
<text x="8.5" y="1678.5" font-weight="bold" font-size="42">(<tspan font-size="37">c</tspan>)</text>
<text x="443.5" y="1450" font-weight="bold" font-size="42">(<tspan font-size="37">d</tspan>)</text>
<text x="1027" y="1450" font-weight="bold" font-size="42">(<tspan font-size="37">e</tspan>)</text>
<text x="443.5" y="1970.3" font-weight="bold" font-size="42">(<tspan font-size="37">f</tspan>)</text>
<text x="1027" y="1970.3" font-weight="bold" font-size="42">(<tspan font-size="37">g</tspan>)</text>
<g fill="#f8d800"><circle cx="145.2" cy="1450.4" r="10.8"/><circle cx="145.2" cy="1614.4" r="10.8"/><circle cx="167.4" cy="1450.4" r="10.8"/><circle cx="167.4" cy="1614.4" r="10.8"/><circle cx="189.7" cy="1450.4" r="10.8"/><circle cx="189.7" cy="1614.4" r="10.8"/><circle cx="212" cy="1450.4" r="10.8"/><circle cx="212" cy="1614.4" r="10.8"/><circle cx="234.3" cy="1450.4" r="10.8"/><circle cx="234.3" cy="1614.4" r="10.8"/><circle cx="256.5" cy="1450.4" r="10.8"/><circle cx="256.5" cy="1614.4" r="10.8"/><circle cx="278.6" cy="1450.4" r="10.8"/><circle cx="278.6" cy="1614.4" r="10.8"/><circle cx="129.2" cy="1465.7" r="10.8"/><circle cx="294.4" cy="1465.7" r="10.8"/><circle cx="129.2" cy="1487.9" r="10.8"/><circle cx="294.4" cy="1487.9" r="10.8"/><circle cx="129.2" cy="1510.1" r="10.8"/><circle cx="294.4" cy="1510.1" r="10.8"/><circle cx="129.2" cy="1532.3" r="10.8"/><circle cx="294.4" cy="1532.3" r="10.8"/><circle cx="129.2" cy="1554.5" r="10.8"/><circle cx="294.4" cy="1554.5" r="10.8"/><circle cx="129.2" cy="1576.7" r="10.8"/><circle cx="294.4" cy="1576.7" r="10.8"/><circle cx="129.2" cy="1598.9" r="10.8"/><circle cx="294.4" cy="1598.9" r="10.8"/></g>
<rect x="140.4" y="1461.9" width="142.6" height="141.4" fill="#808080"/>
<rect x="151.7" y="1472.5" width="120.3" height="119.8" fill="#aaf0f2"/>
<path d="M266.9 1456.3L326.7 1527H384" fill="none" stroke="#000" stroke-width="1.1"/>
<polygon points="268.8,1467 278.1,1460.5 283.9,1475.2" fill="#000"/>
<polygon points="302.3,1497.5 319,1508.4 310.6,1516.4" fill="#000"/>
<path d="M233.9 1562.4H320.3L338.9 1583.6H395.8" fill="none" stroke="#000" stroke-width="1.1"/>
<polygon points="271.4,1562.4 250.8,1556.8 250.8,1568" fill="#000"/>
<polygon points="283,1562.4 304.2,1556.8 304.2,1568" fill="#000"/>
<text x="332" y="1517.4" font-size="32" textLength="16.5" lengthAdjust="spacingAndGlyphs" >d</text>
<text x="349.2" y="1521.9" font-size="14.5" textLength="20" lengthAdjust="spacingAndGlyphs" >Au</text>
<text x="343.8" y="1572.7" font-size="32" textLength="10.5" lengthAdjust="spacingAndGlyphs" >t</text>
<text x="356.9" y="1579.1" font-size="13.5" textLength="24.5" lengthAdjust="spacingAndGlyphs" >SiO</text>
<text x="381.8" y="1581.4" font-size="9.5" textLength="6.5" lengthAdjust="spacingAndGlyphs" >2</text>
<text x="190.7" y="1696.3" font-size="29" textLength="65" lengthAdjust="spacingAndGlyphs" >T, °C</text>
<text x="82.8" y="1726.8" font-size="20.8" text-anchor="middle" >0</text>
<text x="142.5" y="1726.8" font-size="20.8" text-anchor="middle" >172</text>
<text x="198.9" y="1726.8" font-size="20.8" text-anchor="middle" >344</text>
<text x="255.9" y="1726.8" font-size="20.8" text-anchor="middle" >516</text>
<text x="313" y="1726.8" font-size="20.8" text-anchor="middle" >688</text>
<text x="367" y="1726.8" font-size="20.8" text-anchor="middle" >860</text>
<rect x="82.8" y="1743" width="285.9" height="15" fill="url(#jetH)" stroke="#000" stroke-width="1"/>
<path d="M82.8 1743V1736M111.4 1743V1739.2M140 1743V1736M168.6 1743V1739.2M197.2 1743V1736M225.8 1743V1739.2M254.3 1743V1736M282.9 1743V1739.2M311.5 1743V1736M340.1 1743V1739.2M368.7 1743V1736" stroke="#000" stroke-width="1.1"/>
<g clip-path="url(#hmclip)"><g filter="url(#vb)"><rect x="71.2" y="1776.5" width="309" height="7.8" fill="url(#h0)"/><rect x="71.2" y="1783.7" width="309" height="7.8" fill="url(#h1)"/><rect x="71.2" y="1790.9" width="309" height="7.8" fill="url(#h2)"/><rect x="71.2" y="1798.1" width="309" height="7.8" fill="url(#h3)"/><rect x="71.2" y="1805.3" width="309" height="7.8" fill="url(#h4)"/><rect x="71.2" y="1812.5" width="309" height="7.8" fill="url(#h5)"/><rect x="71.2" y="1819.6" width="309" height="7.8" fill="url(#h6)"/><rect x="71.2" y="1826.8" width="309" height="7.8" fill="url(#h7)"/><rect x="71.2" y="1834" width="309" height="7.8" fill="url(#h8)"/><rect x="71.2" y="1841.2" width="309" height="7.8" fill="url(#h9)"/><rect x="71.2" y="1848.4" width="309" height="7.8" fill="url(#h10)"/><rect x="71.2" y="1855.6" width="309" height="7.8" fill="url(#h11)"/><rect x="71.2" y="1862.7" width="309" height="7.8" fill="url(#h12)"/><rect x="71.2" y="1869.9" width="309" height="7.8" fill="url(#h13)"/><rect x="71.2" y="1877.1" width="309" height="7.8" fill="url(#h14)"/><rect x="71.2" y="1884.3" width="309" height="7.8" fill="url(#h15)"/><rect x="71.2" y="1891.5" width="309" height="7.8" fill="url(#h16)"/><rect x="71.2" y="1898.7" width="309" height="7.8" fill="url(#h17)"/><rect x="71.2" y="1905.8" width="309" height="7.8" fill="url(#h18)"/><rect x="71.2" y="1913" width="309" height="7.8" fill="url(#h19)"/><rect x="71.2" y="1920.2" width="309" height="7.8" fill="url(#h20)"/><rect x="71.2" y="1927.4" width="309" height="7.8" fill="url(#h21)"/><rect x="71.2" y="1934.6" width="309" height="7.8" fill="url(#h22)"/><rect x="71.2" y="1941.8" width="309" height="7.8" fill="url(#h23)"/><rect x="71.2" y="1948.9" width="309" height="7.8" fill="url(#h24)"/><rect x="71.2" y="1956.1" width="309" height="7.8" fill="url(#h25)"/><rect x="71.2" y="1963.3" width="309" height="7.8" fill="url(#h26)"/><rect x="71.2" y="1970.5" width="309" height="7.8" fill="url(#h27)"/><rect x="71.2" y="1977.7" width="309" height="7.8" fill="url(#h28)"/><rect x="71.2" y="1984.9" width="309" height="7.8" fill="url(#h29)"/><rect x="71.2" y="1992.1" width="309" height="7.8" fill="url(#h30)"/><rect x="71.2" y="1999.2" width="309" height="7.8" fill="url(#h31)"/><rect x="71.2" y="2006.4" width="309" height="7.8" fill="url(#h32)"/><rect x="71.2" y="2013.6" width="309" height="7.8" fill="url(#h33)"/><rect x="71.2" y="2020.8" width="309" height="7.8" fill="url(#h34)"/><rect x="71.2" y="2028" width="309" height="7.8" fill="url(#h35)"/><rect x="71.2" y="2035.2" width="309" height="7.8" fill="url(#h36)"/><rect x="71.2" y="2042.3" width="309" height="7.8" fill="url(#h37)"/><rect x="71.2" y="2049.5" width="309" height="7.8" fill="url(#h38)"/><rect x="71.2" y="2056.7" width="309" height="7.8" fill="url(#h39)"/><rect x="71.2" y="2063.9" width="309" height="7.8" fill="url(#h40)"/><rect x="71.2" y="2071.1" width="309" height="7.8" fill="url(#h41)"/><rect x="71.2" y="2078.3" width="309" height="7.8" fill="url(#h42)"/><rect x="71.2" y="2085.4" width="309" height="7.8" fill="url(#h43)"/><rect x="71.2" y="2092.6" width="309" height="7.8" fill="url(#h44)"/><rect x="71.2" y="2099.8" width="309" height="7.8" fill="url(#h45)"/><rect x="71.2" y="2107" width="309" height="7.8" fill="url(#h46)"/><rect x="71.2" y="2114.2" width="309" height="7.8" fill="url(#h47)"/><rect x="71.2" y="2121.4" width="309" height="7.8" fill="url(#h48)"/><rect x="71.2" y="2128.5" width="309" height="7.8" fill="url(#h49)"/><rect x="71.2" y="2135.7" width="309" height="7.8" fill="url(#h50)"/><rect x="71.2" y="2142.9" width="309" height="7.8" fill="url(#h51)"/><rect x="71.2" y="2150.1" width="309" height="7.8" fill="url(#h52)"/><rect x="71.2" y="2157.3" width="309" height="7.8" fill="url(#h53)"/><rect x="71.2" y="2164.5" width="309" height="7.8" fill="url(#h54)"/><rect x="71.2" y="2171.7" width="309" height="7.8" fill="url(#h55)"/><rect x="71.2" y="2178.8" width="309" height="7.8" fill="url(#h56)"/><rect x="71.2" y="2186" width="309" height="7.8" fill="url(#h57)"/><rect x="71.2" y="2193.2" width="309" height="7.8" fill="url(#h58)"/><rect x="71.2" y="2200.4" width="309" height="7.8" fill="url(#h59)"/><rect x="71.2" y="2207.6" width="309" height="7.8" fill="url(#h60)"/><rect x="71.2" y="2214.8" width="309" height="7.8" fill="url(#h61)"/><rect x="71.2" y="2221.9" width="309" height="7.8" fill="url(#h62)"/><rect x="71.2" y="2229.1" width="309" height="7.8" fill="url(#h63)"/><rect x="71.2" y="2236.3" width="309" height="7.8" fill="url(#h64)"/><rect x="71.2" y="2243.5" width="309" height="7.8" fill="url(#h65)"/><rect x="71.2" y="2250.7" width="309" height="7.8" fill="url(#h66)"/><rect x="71.2" y="2257.9" width="309" height="7.8" fill="url(#h67)"/><rect x="71.2" y="2265" width="309" height="7.8" fill="url(#h68)"/><rect x="71.2" y="2272.2" width="309" height="7.8" fill="url(#h69)"/><rect x="71.2" y="2279.4" width="309" height="7.8" fill="url(#h70)"/><rect x="71.2" y="2286.6" width="309" height="7.8" fill="url(#h71)"/><rect x="71.2" y="2293.8" width="309" height="7.8" fill="url(#h72)"/><rect x="71.2" y="2301" width="309" height="7.8" fill="url(#h73)"/><rect x="71.2" y="2308.1" width="309" height="7.8" fill="url(#h74)"/><rect x="71.2" y="2315.3" width="309" height="7.8" fill="url(#h75)"/><rect x="71.2" y="2322.5" width="309" height="7.8" fill="url(#h76)"/><rect x="71.2" y="2329.7" width="309" height="7.8" fill="url(#h77)"/><rect x="71.2" y="2336.9" width="309" height="7.8" fill="url(#h78)"/></g></g>
<rect x="83.2" y="1791.2" width="285" height="538.8" fill="none" stroke="#000" stroke-width="1"/>
<text x="72.8" y="2338.6" font-size="24" text-anchor="end" >0</text>
<text x="72.8" y="2266.8" font-size="24" text-anchor="end" >2</text>
<text x="72.8" y="2194.9" font-size="24" text-anchor="end" >4</text>
<text x="72.8" y="2123.1" font-size="24" text-anchor="end" >6</text>
<text x="72.8" y="2051.2" font-size="24" text-anchor="end" >8</text>
<text x="72.8" y="1979.4" font-size="24" text-anchor="end" >10</text>
<text x="72.8" y="1907.6" font-size="24" text-anchor="end" >12</text>
<text x="72.8" y="1835.7" font-size="24" text-anchor="end" >14</text>
<text x="83.2" y="2360.9" font-size="24" text-anchor="middle" >5</text>
<text x="123.9" y="2360.9" font-size="24" text-anchor="middle" >6</text>
<text x="164.6" y="2360.9" font-size="24" text-anchor="middle" >7</text>
<text x="205.3" y="2360.9" font-size="24" text-anchor="middle" >8</text>
<text x="246.1" y="2360.9" font-size="24" text-anchor="middle" >9</text>
<text x="286.8" y="2360.9" font-size="24" text-anchor="middle" >10</text>
<text x="327.5" y="2360.9" font-size="24" text-anchor="middle" >11</text>
<text x="368.2" y="2360.9" font-size="24" text-anchor="middle" >12</text>
<path d="M83.2 2330H76.7M83.2 2258.2H76.7M83.2 2186.3H76.7M83.2 2114.5H76.7M83.2 2042.6H76.7M83.2 1970.8H76.7M83.2 1899H76.7M83.2 1827.1H76.7M83.2 2330V2337.5M123.9 2330V2337.5M164.6 2330V2337.5M205.3 2330V2337.5M246.1 2330V2337.5M286.8 2330V2337.5M327.5 2330V2337.5M368.2 2330V2337.5" stroke="#000" stroke-width="1.1"/>
<path d="M194.4 2103L215.4 2124M194.4 2124L215.4 2103" stroke="#ff1515" stroke-width="9" stroke-linecap="butt"/>
<path d="M316.2 1816.2L337.2 1837.2M316.2 1837.2L337.2 1816.2" stroke="#127d12" stroke-width="9" stroke-linecap="butt"/>
<text x="186.2" y="2397.6" font-size="23.5" textLength="13" lengthAdjust="spacingAndGlyphs" >d</text>
<text x="199.4" y="2404.1" font-size="13.7" textLength="18.4" lengthAdjust="spacingAndGlyphs" >Au</text>
<text x="219" y="2397.6" font-size="23.5" >,</text>
<text x="233.1" y="2397.6" font-size="23.5" textLength="32.3" lengthAdjust="spacingAndGlyphs" >nm</text>
<g transform="translate(35.9 2132.3) rotate(-90)">
<text x="0" y="0" font-size="32" textLength="11" lengthAdjust="spacingAndGlyphs" >t</text>
<text x="12.4" y="9.6" font-size="21" textLength="28.9" lengthAdjust="spacingAndGlyphs" >SiO</text>
<text x="43.8" y="12.3" font-size="10" textLength="5.6" lengthAdjust="spacingAndGlyphs" >2</text>
<text x="52.3" y="0" font-size="32" >,</text>
<text x="70.2" y="0" font-size="32" textLength="39" lengthAdjust="spacingAndGlyphs" >nm</text>
</g>
<text x="604.8" y="1496.2" font-size="30" textLength="356" lengthAdjust="spacingAndGlyphs" >Absorption Cross-Section</text>
<rect x="576" y="1508" width="400.8" height="338.5" fill="#fff" stroke="#000" stroke-width="1.7"/>
<text x="567" y="1599.5" font-size="23.5" text-anchor="end" >0.2</text>
<text x="567" y="1718.3" font-size="23.5" text-anchor="end" >0.1</text>
<text x="567" y="1839.6" font-size="23.5" text-anchor="end" >0</text>
<text x="704.6" y="1885.7" font-size="23.5" text-anchor="middle" >500</text>
<text x="858.2" y="1885.7" font-size="23.5" text-anchor="middle" >600</text>
<path d="M576 1591.2H569M576 1710H569M576 1831.3H569M704.6 1846.5V1853.5M858.2 1846.5V1853.5" stroke="#000" stroke-width="1.2"/>
<text x="758.7" y="1919.2" font-size="29" textLength="74.5" lengthAdjust="spacingAndGlyphs"><tspan font-style="italic">λ,</tspan> nm</text>
<text transform="translate(514 1745) rotate(-90)" font-size="29" textLength="134.5" lengthAdjust="spacingAndGlyphs">ACS, µm<tspan font-size="17" dy="-11">2</tspan></text>
<path d="M592.8 1810.8C594.1 1812.4 597.2 1818 600.3 1820.5C603.4 1822.9 607.1 1824.4 611.5 1825.7C615.8 1826.9 621.4 1827.7 626.4 1827.9C631.3 1828.1 636.3 1828.2 641.3 1826.8C646.3 1825.4 651.2 1821.6 656.2 1819.3C661.2 1817 666.1 1815.2 671.1 1813C676.1 1810.8 681.7 1807 686 1806.3C690.4 1805.6 692.8 1808.9 697.2 1808.9C701.5 1808.9 707.8 1807 712.1 1806.3C716.5 1805.5 719.6 1805.8 723.3 1804.4C727 1803.1 731.2 1799 734.5 1798.1C737.7 1797.2 740.2 1800 742.7 1798.8C745.2 1797.7 747 1797 749.4 1791.4C751.7 1785.8 754.7 1774.6 756.8 1765.3C759 1756 760.6 1743.5 762.4 1735.5C764.3 1727.4 766.2 1720.1 768 1716.8C769.9 1713.6 771.6 1715.8 773.6 1716.1C775.6 1716.4 777.8 1721.1 779.9 1718.7C782.1 1716.3 784 1714.7 786.7 1701.9C789.3 1689.2 793.2 1660.9 796 1642.3C798.8 1623.6 801.3 1602.3 803.4 1590.1C805.6 1577.9 807.2 1570.8 809 1568.9C810.8 1566.9 812.4 1569 814.2 1578.2C816.1 1587.3 818 1603.6 820.2 1623.6C822.4 1643.7 825.2 1679.6 827.7 1698.2C830.1 1716.8 832.6 1725.5 835.1 1735.5C837.6 1745.4 840.1 1752.7 842.6 1757.8C845 1762.9 847.8 1765.7 850 1766C852.2 1766.3 853.4 1764.8 855.6 1759.7C857.8 1754.6 860.8 1741.9 863.1 1735.5C865.4 1729.1 867.5 1722.4 869.4 1721.3C871.3 1720.2 872.6 1721.4 874.6 1728.8C876.7 1736.1 879 1754.2 881.7 1765.3C884.4 1776.3 887.9 1788.7 891 1795.1C894.1 1801.5 896.9 1801.9 900.3 1803.7C903.8 1805.4 908.1 1805.9 911.5 1805.5C914.9 1805.2 917.9 1802.9 920.8 1801.8C923.8 1800.7 926.6 1798.7 929 1798.8C931.5 1799 932.8 1799.5 935.8 1802.6C938.7 1805.7 943 1813.4 946.9 1817.5C950.8 1821.5 957.2 1825.2 959.2 1826.8" fill="none" stroke="#ff1616" stroke-width="2.9" stroke-linejoin="round" stroke-linecap="round"/>
<path d="M593.6 1790.6C594.4 1793.2 596.7 1801.5 598.4 1806.3C600.2 1811.1 601.8 1815.6 604 1819.3C606.2 1823.1 609 1826.8 611.5 1828.7C613.9 1830.5 614.6 1830.3 618.9 1830.5C623.3 1830.7 633.5 1831 637.6 1829.8C641.6 1828.5 640.7 1826.4 643.1 1823.1C645.6 1819.8 649 1813.6 652.5 1810C655.9 1806.5 660.2 1803.7 663.6 1801.8C667.1 1800 669.9 1800.3 673 1798.8C676.1 1797.4 678.9 1794.2 682.3 1793.2C685.7 1792.3 689.7 1794.2 693.5 1793.2C697.2 1792.3 701.2 1791.1 704.6 1787.7C708.1 1784.2 711.2 1779 714 1772.7C716.8 1766.5 718.9 1758.5 721.4 1750.4C723.9 1742.3 726.7 1729.7 728.9 1724.3C731.1 1718.9 732.4 1718.1 734.5 1718C736.5 1717.8 739 1724.4 741.2 1723.5C743.4 1722.7 745.5 1723.5 747.5 1713.1C749.5 1702.7 751.4 1678.3 753.1 1660.9C754.8 1643.5 756.6 1619.6 758 1608.7C759.3 1597.9 760.2 1595.7 761.3 1595.7C762.4 1595.7 763.2 1597.9 764.7 1608.7C766.1 1619.6 768.1 1645.4 769.9 1660.9C771.7 1676.5 773.3 1692.3 775.5 1701.9C777.6 1711.6 780.4 1716.8 782.9 1718.7C785.4 1720.6 787.3 1718.4 790.4 1713.1C793.5 1707.8 797.8 1696.3 801.6 1687C805.3 1677.7 809.3 1665.3 812.7 1657.2C816.2 1649.1 819.3 1642.4 822.1 1638.6C824.9 1634.7 827 1634.1 829.5 1634.1C832 1634.1 833.6 1632.8 837 1638.6C840.4 1644.3 844.7 1655.3 850 1668.4C855.3 1681.4 862.4 1703.8 868.7 1716.8C874.9 1729.9 881.7 1739.3 887.3 1746.7C892.9 1754 898.2 1758 902.2 1760.8C906.2 1763.6 908.4 1763.9 911.5 1763.4C914.6 1762.9 917.4 1763.7 920.8 1757.8C924.3 1751.9 928.3 1742.9 932 1728C935.8 1713.1 940.1 1690.7 943.2 1668.4C946.3 1646 948.5 1615.6 950.7 1593.8C952.8 1572.1 954.8 1549.8 956.3 1537.9C957.7 1526 958.7 1524.9 959.2 1522.3" fill="none" stroke="#0f7a10" stroke-width="2.9" stroke-linejoin="round" stroke-linecap="round"/>
<text x="1175.2" y="1491.3" font-size="30" textLength="347" lengthAdjust="spacingAndGlyphs" >Scattering Cross-Section</text>
<rect x="1151.4" y="1508" width="400.3" height="341" fill="#fff" stroke="#000" stroke-width="1.7"/>
<text x="1142.5" y="1534.3" font-size="23.5" text-anchor="end" >0.5</text>
<text x="1142.5" y="1595.3" font-size="23.5" text-anchor="end" >0.4</text>
<text x="1142.5" y="1656.5" font-size="23.5" text-anchor="end" >0.3</text>
<text x="1142.5" y="1717.7" font-size="23.5" text-anchor="end" >0.2</text>
<text x="1142.5" y="1779.2" font-size="23.5" text-anchor="end" >0.1</text>
<text x="1142.5" y="1840.7" font-size="23.5" text-anchor="end" >0</text>
<text x="1278" y="1882.7" font-size="23.5" text-anchor="middle" >500</text>
<text x="1431.7" y="1882.7" font-size="23.5" text-anchor="middle" >600</text>
<path d="M1151.4 1526H1144.4M1151.4 1587H1144.4M1151.4 1648.2H1144.4M1151.4 1709.4H1144.4M1151.4 1770.9H1144.4M1151.4 1832.4H1144.4M1278 1849V1856M1431.7 1849V1856" stroke="#000" stroke-width="1.2"/>
<text x="1310.5" y="1915" font-size="29" textLength="75.5" lengthAdjust="spacingAndGlyphs"><tspan font-style="italic">λ,</tspan> nm</text>
<text transform="translate(1088.5 1747) rotate(-90)" font-size="29" textLength="136" lengthAdjust="spacingAndGlyphs">SCS, µm<tspan font-size="17" dy="-11">2</tspan></text>
<path d="M1167 1820.5C1169.5 1821.4 1175.7 1824.4 1181.9 1826C1188.1 1827.7 1195.6 1829.5 1204.3 1830.5C1213 1831.6 1222.9 1831.9 1234.1 1832.4C1245.3 1832.8 1260.2 1833.1 1271.4 1833.1C1282.6 1833.1 1293.1 1832.7 1301.2 1832.4C1309.3 1832.1 1314.9 1832.2 1319.8 1831.3C1324.8 1830.3 1327.3 1828.8 1331 1826.8C1334.7 1824.8 1338.5 1821.8 1342.2 1819.3C1345.9 1816.9 1350 1815.9 1353.4 1811.9C1356.8 1807.8 1359.6 1804.1 1362.7 1795.1C1365.8 1786.1 1369.2 1769.6 1372 1757.8C1374.8 1746 1377.3 1732 1379.5 1724.3C1381.6 1716.6 1383.5 1713.9 1385.1 1711.6C1386.6 1709.3 1387.4 1709 1388.8 1710.5C1390.2 1712 1391.5 1713.9 1393.6 1720.6C1395.8 1727.2 1398.9 1740.4 1401.8 1750.4C1404.8 1760.3 1408 1772.4 1411.2 1780.2C1414.3 1788 1417.1 1792.3 1420.5 1797C1423.9 1801.6 1426.7 1805 1431.7 1808.2C1436.6 1811.3 1443.5 1813.1 1450.3 1815.6C1457.1 1818.1 1464.6 1821.3 1472.7 1823.1C1480.7 1824.8 1488.5 1825.1 1498.8 1826C1509 1827 1528.3 1828.2 1534.2 1828.7" fill="none" stroke="#ff1616" stroke-width="2.9" stroke-linejoin="round" stroke-linecap="round"/>
<path d="M1168.1 1803.7C1169.8 1805.7 1174.6 1812.3 1178.2 1815.6C1181.7 1819 1185 1821.5 1189.4 1823.8C1193.7 1826.1 1199.3 1828.2 1204.3 1829.4C1209.3 1830.6 1212.4 1831 1219.2 1831.3C1226 1831.6 1236.6 1831.7 1245.3 1831.3C1254 1830.8 1265.2 1829.7 1271.4 1828.7C1277.6 1827.6 1278.8 1826.5 1282.6 1824.9C1286.3 1823.4 1290.3 1820.7 1293.7 1819.3C1297.2 1818 1300.3 1816.5 1303.1 1816.7C1305.9 1816.9 1308.2 1819.7 1310.5 1820.5C1312.8 1821.2 1314.7 1822.3 1316.9 1821.2C1319 1820.1 1321.2 1818.7 1323.6 1813.7C1325.9 1808.8 1328.8 1797 1331 1791.4C1333.2 1785.8 1334.4 1783 1336.6 1780.2C1338.8 1777.4 1341.3 1779 1344.1 1774.6C1346.9 1770.3 1350 1764.4 1353.4 1754.1C1356.8 1743.9 1360.8 1729.9 1364.6 1713.1C1368.3 1696.3 1372 1674.6 1375.7 1653.5C1379.5 1632.3 1383.5 1605 1386.9 1586.4C1390.3 1567.7 1393.6 1551.8 1396.2 1541.6C1398.9 1531.5 1401 1528.5 1402.6 1525.6C1404.1 1522.7 1404.3 1523.3 1405.6 1524.1C1406.8 1524.9 1408.2 1524.4 1410 1530.5C1411.9 1536.5 1414.1 1547.2 1416.7 1560.3C1419.4 1573.3 1422.3 1590.7 1426.1 1608.7C1429.8 1626.8 1434.5 1651 1439.1 1668.4C1443.8 1685.8 1449.1 1701.3 1454 1713.1C1459 1724.9 1464 1731.7 1468.9 1739.2C1473.9 1746.7 1478.9 1752.6 1483.8 1757.8C1488.8 1763.1 1494.7 1768.3 1498.8 1770.9C1502.8 1773.5 1505 1773.8 1508.1 1773.5C1511.2 1773.2 1514.6 1771.6 1517.4 1769C1520.2 1766.4 1522.9 1761.1 1524.8 1757.8C1526.8 1754.5 1527.8 1751 1529.3 1749.3C1530.9 1747.5 1533.4 1747.7 1534.2 1747.4" fill="none" stroke="#0f7a10" stroke-width="2.9" stroke-linejoin="round" stroke-linecap="round"/>
<rect x="472.6" y="1999.5" width="526.6" height="410" fill="#fff" stroke="#e01212" stroke-width="4.2"/>
<g clip-path="url(#fclip)"><g filter="url(#b1)"><rect x="574.2" y="2026.2" width="316.1" height="315.8" fill="#0000ff"/><rect x="509.4" y="1961.2" width="445.7" height="445.7" rx="222.9" fill="#0000ff"/><rect x="513.4" y="1965.2" width="437.8" height="437.8" rx="218.9" fill="#0000ff"/><rect x="516.3" y="1968.2" width="431.9" height="431.9" rx="215.9" fill="#0000ff"/><rect x="518.9" y="1970.8" width="426.6" height="426.6" rx="213.3" fill="#0000ff"/><rect x="521.4" y="1973.3" width="421.7" height="421.7" rx="210.8" fill="#0003ff"/><rect x="523.8" y="1975.6" width="417" height="417" rx="208.5" fill="#0007ff"/><rect x="526" y="1977.9" width="412.5" height="412.5" rx="206.2" fill="#000aff"/><rect x="528.2" y="1980.1" width="408.1" height="408.1" rx="204" fill="#000eff"/><rect x="530.3" y="1982.2" width="403.8" height="403.8" rx="201.9" fill="#0011ff"/><rect x="532.4" y="1984.2" width="399.7" height="399.7" rx="199.9" fill="#0014ff"/><rect x="534.4" y="1986.3" width="395.7" height="395.7" rx="197.8" fill="#0017ff"/><rect x="536.4" y="1988.2" width="391.7" height="391.7" rx="195.9" fill="#001aff"/><rect x="538.3" y="1990.2" width="387.8" height="387.8" rx="193.9" fill="#001dff"/><rect x="540.3" y="1992.1" width="384" height="384" rx="192" fill="#0020ff"/><rect x="542.1" y="1994" width="380.2" height="380.2" rx="190.1" fill="#0023ff"/><rect x="544" y="1995.9" width="376.5" height="376.5" rx="188.2" fill="#0027ff"/><rect x="545.8" y="1997.7" width="372.8" height="372.8" rx="186.4" fill="#002cff"/><rect x="547.6" y="1999.5" width="369.2" height="369.2" rx="184.6" fill="#0030ff"/><rect x="549.4" y="2001.3" width="365.6" height="365.6" rx="182.8" fill="#0034ff"/><rect x="551.2" y="2003.1" width="362.1" height="362.1" rx="181" fill="#0039ff"/><rect x="553" y="2004.8" width="358.6" height="358.6" rx="179.3" fill="#003dff"/><rect x="554.7" y="2006.5" width="355.1" height="355.1" rx="177.6" fill="#0041ff"/><rect x="556.4" y="2008.3" width="351.7" height="351.7" rx="175.8" fill="#0045ff"/><rect x="558.1" y="2010" width="348.3" height="348.3" rx="174.1" fill="#0049ff"/><rect x="559.8" y="2011.6" width="344.9" height="344.9" rx="172.5" fill="#004dff"/><rect x="561.5" y="2013.3" width="341.6" height="341.6" rx="170.8" fill="#0051ff"/><rect x="563.1" y="2015" width="338.2" height="338.2" rx="169.1" fill="#0055ff"/><rect x="564.8" y="2016.6" width="334.9" height="334.9" rx="167.5" fill="#0059ff"/><rect x="566.4" y="2018.3" width="331.7" height="331.7" rx="165.8" fill="#005dff"/><rect x="568" y="2019.9" width="328.4" height="328.4" rx="164.2" fill="#0061ff"/><rect x="569.6" y="2021.5" width="325.2" height="325.2" rx="162.6" fill="#0065ff"/><rect x="571.2" y="2023.1" width="322" height="322" rx="161" fill="#0069ff"/><rect x="572.8" y="2024.7" width="318.8" height="318.8" rx="159.4" fill="#006dff"/><rect x="574.4" y="2026.3" width="315.7" height="315.7" rx="157.8" fill="#0071ff"/><rect x="576" y="2027.8" width="312.5" height="312.5" rx="156.3" fill="#0078ff"/><rect x="577.6" y="2029.4" width="309.4" height="309.4" rx="154.7" fill="#007fff"/><rect x="579.1" y="2031" width="306.3" height="306.3" rx="153.1" fill="#0086ff"/><rect x="580.7" y="2032.5" width="303.2" height="303.2" rx="151.6" fill="#008dff"/><rect x="582.2" y="2034" width="300.1" height="300.1" rx="150.1" fill="#0093ff"/><rect x="583.7" y="2035.6" width="297.1" height="297.1" rx="148.5" fill="#009aff"/><rect x="585.2" y="2037.1" width="294" height="294" rx="147" fill="#00a1ff"/><rect x="586.8" y="2038.6" width="291" height="291" rx="145.5" fill="#00a7ff"/><rect x="588.3" y="2040.1" width="288" height="288" rx="144" fill="#00aeff"/><rect x="589.8" y="2041.6" width="285" height="285" rx="142.5" fill="#00b5ff"/><rect x="591.2" y="2043.1" width="282" height="282" rx="141" fill="#00bbff"/><rect x="592.7" y="2044.6" width="279" height="279" rx="139.5" fill="#00c2ff"/><rect x="594.2" y="2046.1" width="276.1" height="276.1" rx="138" fill="#00c8ff"/><rect x="595.7" y="2047.5" width="273.1" height="273.1" rx="136.6" fill="#00ceff"/><rect x="597.1" y="2049" width="270.2" height="270.2" rx="135.1" fill="#00d5ff"/><rect x="598.6" y="2050.5" width="267.3" height="267.3" rx="133.6" fill="#00dbff"/><rect x="600.1" y="2051.9" width="264.4" height="264.4" rx="132.2" fill="#00e1fa"/><rect x="601.5" y="2053.4" width="261.5" height="261.5" rx="130.7" fill="#02e7f5"/><rect x="602.9" y="2054.8" width="258.6" height="258.6" rx="129.3" fill="#07eef0"/><rect x="604.4" y="2056.2" width="255.7" height="255.7" rx="127.9" fill="#0cf4eb"/><rect x="605.8" y="2057.7" width="252.9" height="252.9" rx="126.4" fill="#10fae6"/><rect x="607.2" y="2059.1" width="250" height="250" rx="125" fill="#17ffe0"/><rect x="608.7" y="2060.5" width="247.2" height="247.2" rx="123.6" fill="#1dffd9"/><rect x="610.1" y="2061.9" width="244.3" height="244.3" rx="122.2" fill="#24ffd3"/><rect x="611.5" y="2063.3" width="241.5" height="241.5" rx="120.8" fill="#2affcd"/><rect x="612.9" y="2064.7" width="238.7" height="238.7" rx="119.4" fill="#30ffc6"/><rect x="614.3" y="2066.1" width="235.9" height="235.9" rx="118" fill="#37ffc0"/><rect x="615.7" y="2067.5" width="233.1" height="233.1" rx="116.6" fill="#3dffba"/><rect x="617.1" y="2068.9" width="230.3" height="230.3" rx="115.2" fill="#43ffb3"/><rect x="618.5" y="2070.3" width="227.6" height="227.6" rx="113.8" fill="#4affad"/><rect x="619.9" y="2071.7" width="224.8" height="224.8" rx="112.4" fill="#50ffa7"/><rect x="621.2" y="2073.1" width="222" height="222" rx="111" fill="#56ffa1"/><rect x="622.6" y="2074.5" width="219.3" height="219.3" rx="109.6" fill="#5cff9b"/><rect x="624" y="2075.8" width="216.5" height="216.5" rx="108.3" fill="#62ff94"/><rect x="625.3" y="2077.2" width="213.8" height="213.8" rx="106.9" fill="#69ff8e"/><rect x="626.7" y="2078.6" width="211.1" height="211.1" rx="105.5" fill="#6fff88"/><rect x="628.1" y="2079.9" width="208.4" height="208.4" rx="104.2" fill="#75ff82"/><rect x="629.4" y="2081.3" width="205.7" height="205.7" rx="102.8" fill="#7bff7c"/><rect x="630.8" y="2082.6" width="203" height="203" rx="101" fill="#83ff74"/><rect x="632.1" y="2084" width="200.3" height="200.3" rx="99.1" fill="#8bff6c"/><rect x="633.5" y="2085.3" width="197.6" height="197.6" rx="97.2" fill="#92ff64"/><rect x="634.8" y="2086.6" width="194.9" height="194.9" rx="95.3" fill="#9aff5d"/><rect x="636.1" y="2088" width="192.2" height="192.2" rx="93.5" fill="#a2ff55"/><rect x="637.5" y="2089.3" width="189.6" height="189.6" rx="91.6" fill="#aaff4d"/><rect x="638.8" y="2090.6" width="186.9" height="186.9" rx="89.8" fill="#b1ff45"/><rect x="640.1" y="2092" width="184.3" height="184.3" rx="88" fill="#b9ff3e"/><rect x="641.4" y="2093.3" width="181.6" height="181.6" rx="86.1" fill="#c1ff36"/><rect x="642.8" y="2094.6" width="179" height="179" rx="84.3" fill="#c9ff2e"/><rect x="644.1" y="2095.9" width="176.4" height="176.4" rx="82.5" fill="#d0ff27"/><rect x="645.4" y="2097.2" width="173.7" height="173.7" rx="80.7" fill="#d8ff1f"/><rect x="646.7" y="2098.5" width="171.1" height="171.1" rx="78.9" fill="#e0ff17"/><rect x="648" y="2099.9" width="168.5" height="168.5" rx="77.1" fill="#e7ff10"/><rect x="649.3" y="2101.2" width="165.9" height="165.9" rx="75.3" fill="#efff08"/><rect x="650.6" y="2102.5" width="163.3" height="163.3" rx="73.9" fill="#faf200"/><rect x="651.9" y="2103.8" width="160.7" height="160.7" rx="72.9" fill="#ffe500"/><rect x="653.2" y="2105" width="158.1" height="158.1" rx="71.9" fill="#ffd800"/><rect x="654.5" y="2106.3" width="155.5" height="155.5" rx="71" fill="#ffcc00"/><rect x="655.8" y="2107.6" width="152.9" height="152.9" rx="70" fill="#ffbf00"/><rect x="657.1" y="2108.9" width="150.4" height="150.4" rx="69" fill="#ffb200"/><rect x="658.3" y="2110.2" width="147.8" height="147.8" rx="68.1" fill="#ffa600"/><rect x="659.6" y="2111.5" width="145.3" height="145.3" rx="67.1" fill="#ff9900"/><rect x="660.9" y="2112.8" width="142.7" height="142.7" rx="66.2" fill="#ff8d00"/><rect x="662.2" y="2114" width="140.1" height="140.1" rx="65.2" fill="#ff8000"/><rect x="663.4" y="2115.3" width="137.6" height="137.6" rx="63.5" fill="#ff7300"/><rect x="664.7" y="2116.6" width="135.1" height="135.1" rx="61.3" fill="#ff6500"/><rect x="666" y="2117.8" width="132.5" height="132.5" rx="59.1" fill="#ff5700"/><rect x="667.2" y="2119.1" width="130" height="130" rx="56.9" fill="#ff4900"/><rect x="668.5" y="2120.4" width="127.5" height="127.5" rx="54.6" fill="#ff3b00"/><rect x="669.8" y="2121.6" width="125" height="125" rx="51.8" fill="#ff2d00"/><rect x="671" y="2122.9" width="122.5" height="122.5" rx="48.4" fill="#ff2000"/><rect x="672.3" y="2124.1" width="119.9" height="119.9" rx="45.1" fill="#fd1200"/><rect x="673.5" y="2125.4" width="117.4" height="117.4" rx="41.7" fill="#e60000"/><rect x="674.8" y="2126.6" width="114.9" height="114.9" rx="38.3" fill="#d00000"/><rect x="676" y="2127.9" width="112.4" height="112.4" rx="31.8" fill="#c10000"/><rect x="677.3" y="2129.1" width="110" height="110" rx="25.4" fill="#b10000"/><rect x="678.5" y="2130.4" width="107.5" height="107.5" rx="19" fill="#a20000"/></g></g>
<rect x="681.4" y="2139.5" width="101.8" height="89.1" fill="#7e0000"/>
<rect x="687.7" y="2133.2" width="89.1" height="101.8" fill="#a00000"/>
<g fill="#ff1a0a" stroke="#000" stroke-width="1.5"><circle cx="694.3" cy="2133.2" r="6.3"/><circle cx="694.3" cy="2235" r="6.3"/><circle cx="707" cy="2133.2" r="6.3"/><circle cx="707" cy="2235" r="6.3"/><circle cx="719.6" cy="2133.2" r="6.3"/><circle cx="719.6" cy="2235" r="6.3"/><circle cx="732.2" cy="2133.2" r="6.3"/><circle cx="732.2" cy="2235" r="6.3"/><circle cx="744.9" cy="2133.2" r="6.3"/><circle cx="744.9" cy="2235" r="6.3"/><circle cx="757.5" cy="2133.2" r="6.3"/><circle cx="757.5" cy="2235" r="6.3"/><circle cx="770.2" cy="2133.2" r="6.3"/><circle cx="770.2" cy="2235" r="6.3"/></g>
<g fill="#8c0000" stroke="#000" stroke-width="1.5"><circle cx="681.4" cy="2146.2" r="6.3"/><circle cx="783.1" cy="2146.2" r="6.3"/><circle cx="681.4" cy="2158.8" r="6.3"/><circle cx="783.1" cy="2158.8" r="6.3"/><circle cx="681.4" cy="2171.5" r="6.3"/><circle cx="783.1" cy="2171.5" r="6.3"/><circle cx="681.4" cy="2184.1" r="6.3"/><circle cx="783.1" cy="2184.1" r="6.3"/><circle cx="681.4" cy="2196.7" r="6.3"/><circle cx="783.1" cy="2196.7" r="6.3"/><circle cx="681.4" cy="2209.4" r="6.3"/><circle cx="783.1" cy="2209.4" r="6.3"/><circle cx="681.4" cy="2222" r="6.3"/><circle cx="783.1" cy="2222" r="6.3"/></g>
<rect x="688.2" y="2140" width="88.2" height="88.2" fill="#a60000" stroke="#000" stroke-width="1.8"/>
<rect x="697" y="2148.9" width="70.5" height="70.5" fill="#b40000" stroke="#000" stroke-width="2.6"/>
<rect x="574.2" y="2026.2" width="316.1" height="315.8" fill="none" stroke="#000" stroke-width="1"/>
<text x="559.5" y="2033.1" font-size="19" text-anchor="end" class="dj" >100</text>
<text x="559.5" y="2072.6" font-size="19" text-anchor="end" class="dj" >75</text>
<text x="559.5" y="2112.1" font-size="19" text-anchor="end" class="dj" >50</text>
<text x="559.5" y="2151.5" font-size="19" text-anchor="end" class="dj" >25</text>
<text x="559.5" y="2191" font-size="19" text-anchor="end" class="dj" >0</text>
<text x="559.5" y="2230.5" font-size="19" text-anchor="end" class="dj" >−25</text>
<text x="559.5" y="2270" font-size="19" text-anchor="end" class="dj" >−50</text>
<text x="559.5" y="2309.4" font-size="19" text-anchor="end" class="dj" >−75</text>
<text x="559.5" y="2348.9" font-size="19" text-anchor="end" class="dj" >−100</text>
<text x="574.2" y="2371" font-size="19" text-anchor="middle" class="dj" >−100</text>
<text x="653.2" y="2371" font-size="19" text-anchor="middle" class="dj" >−50</text>
<text x="732.2" y="2371" font-size="19" text-anchor="middle" class="dj" >0</text>
<text x="811.3" y="2371" font-size="19" text-anchor="middle" class="dj" >50</text>
<text x="890.3" y="2371" font-size="19" text-anchor="middle" class="dj" >100</text>
<rect x="910.4" y="2026.2" width="16" height="315.8" fill="url(#jetV)" stroke="#000" stroke-width="1"/>
<text x="938.4" y="2077.1" font-size="19" class="dj" >45</text>
<text x="938.4" y="2146.9" font-size="19" class="dj" >40</text>
<text x="938.4" y="2216.5" font-size="19" class="dj" >35</text>
<text x="938.4" y="2285.9" font-size="19" class="dj" >30</text>
<path d="M574.2 2026.2H567.2M574.2 2065.7H567.2M574.2 2105.2H567.2M574.2 2144.6H567.2M574.2 2184.1H567.2M574.2 2223.6H567.2M574.2 2263.1H567.2M574.2 2302.5H567.2M574.2 2342H567.2M574.2 2342V2349M653.2 2342V2349M732.2 2342V2349M811.3 2342V2349M890.3 2342V2349M926.4 2070.2H933.4M926.4 2140H933.4M926.4 2209.6H933.4M926.4 2279H933.4" stroke="#000" stroke-width="1.5"/>
<text x="732.2" y="2398.2" font-size="19" text-anchor="middle" class="dj" >x, nm</text>
<text transform="translate(495.5 2184.1) rotate(-90)" font-size="19" text-anchor="middle" class="dj">y, nm</text>
<text transform="translate(987 2184.1) rotate(-90)" font-size="19" text-anchor="middle" font-style="italic" class="dj">T, ˚C</text>
<rect x="1032" y="2000.5" width="539.2" height="409" fill="#fff" stroke="#1c5c1e" stroke-width="4.6"/>
<g clip-path="url(#gclip)"><g filter="url(#b1)"><rect x="1131.6" y="2031" width="308.3" height="307.6" fill="#0038ff"/><rect x="1068.4" y="1967.4" width="434.7" height="434.7" rx="217.4" fill="#0038ff"/><rect x="1071.9" y="1970.9" width="427.8" height="427.8" rx="213.9" fill="#003fff"/><rect x="1074.4" y="1973.5" width="422.6" height="422.6" rx="211.3" fill="#0045ff"/><rect x="1076.8" y="1975.8" width="418" height="418" rx="209" fill="#0049ff"/><rect x="1078.9" y="1978" width="413.7" height="413.7" rx="206.8" fill="#004eff"/><rect x="1081" y="1980" width="409.6" height="409.6" rx="204.8" fill="#0052ff"/><rect x="1082.9" y="1982" width="405.6" height="405.6" rx="202.8" fill="#0056ff"/><rect x="1084.9" y="1983.9" width="401.8" height="401.8" rx="200.9" fill="#005aff"/><rect x="1086.7" y="1985.8" width="398.1" height="398.1" rx="198.8" fill="#005eff"/><rect x="1088.5" y="1987.6" width="394.5" height="394.5" rx="196.6" fill="#0062ff"/><rect x="1090.3" y="1989.3" width="390.9" height="390.9" rx="194.5" fill="#0065ff"/><rect x="1092" y="1991.1" width="387.5" height="387.5" rx="192.4" fill="#0069ff"/><rect x="1093.7" y="1992.8" width="384" height="384" rx="190.3" fill="#006dff"/><rect x="1095.4" y="1994.5" width="380.7" height="380.7" rx="188.3" fill="#0072ff"/><rect x="1097.1" y="1996.1" width="377.4" height="377.4" rx="186.4" fill="#0077ff"/><rect x="1098.7" y="1997.7" width="374.1" height="374.1" rx="184.4" fill="#007cff"/><rect x="1100.3" y="1999.3" width="370.9" height="370.9" rx="182.5" fill="#0081ff"/><rect x="1101.9" y="2000.9" width="367.8" height="367.8" rx="180.6" fill="#0086ff"/><rect x="1103.4" y="2002.5" width="364.6" height="364.6" rx="178.7" fill="#008bff"/><rect x="1105" y="2004" width="361.5" height="361.5" rx="176.8" fill="#0090ff"/><rect x="1106.5" y="2005.6" width="358.5" height="358.5" rx="175" fill="#0095ff"/><rect x="1108" y="2007.1" width="355.4" height="355.4" rx="173.2" fill="#0099ff"/><rect x="1109.5" y="2008.6" width="352.4" height="352.4" rx="171.2" fill="#009eff"/><rect x="1111" y="2010.1" width="349.5" height="349.5" rx="169.1" fill="#00a3ff"/><rect x="1112.5" y="2011.5" width="346.5" height="346.5" rx="167.1" fill="#00a7ff"/><rect x="1114" y="2013" width="343.6" height="343.6" rx="165" fill="#00acff"/><rect x="1115.4" y="2014.5" width="340.7" height="340.7" rx="163" fill="#00b0ff"/><rect x="1116.9" y="2015.9" width="337.8" height="337.8" rx="161" fill="#00b5ff"/><rect x="1118.3" y="2017.3" width="334.9" height="334.9" rx="159" fill="#00bbff"/><rect x="1119.7" y="2018.8" width="332.1" height="332.1" rx="157.1" fill="#00c0ff"/><rect x="1121.1" y="2020.2" width="329.3" height="329.3" rx="155.1" fill="#00c5ff"/><rect x="1122.5" y="2021.6" width="326.5" height="326.5" rx="153.1" fill="#00cbff"/><rect x="1123.9" y="2023" width="323.7" height="323.7" rx="151.2" fill="#00d0ff"/><rect x="1125.3" y="2024.3" width="320.9" height="320.9" rx="149.3" fill="#00d5ff"/><rect x="1126.7" y="2025.7" width="318.2" height="318.2" rx="147.4" fill="#00dbff"/><rect x="1128" y="2027.1" width="315.4" height="315.4" rx="145.5" fill="#00e0fb"/><rect x="1129.4" y="2028.4" width="312.7" height="312.7" rx="143.6" fill="#00e5f7"/><rect x="1130.7" y="2029.8" width="310" height="310" rx="141.7" fill="#04eaf3"/><rect x="1132.1" y="2031.1" width="307.3" height="307.3" rx="139.8" fill="#08efef"/><rect x="1133.4" y="2032.5" width="304.6" height="304.6" rx="138" fill="#0cf4eb"/><rect x="1134.8" y="2033.8" width="302" height="302" rx="136.1" fill="#10f9e7"/><rect x="1136.1" y="2035.1" width="299.3" height="299.3" rx="134.3" fill="#14fee3"/><rect x="1137.4" y="2036.5" width="296.7" height="296.7" rx="132.6" fill="#1affdd"/><rect x="1138.7" y="2037.8" width="294.1" height="294.1" rx="130.9" fill="#20ffd6"/><rect x="1140" y="2039.1" width="291.5" height="291.5" rx="129.2" fill="#27ffd0"/><rect x="1141.3" y="2040.4" width="288.9" height="288.9" rx="127.6" fill="#2dffca"/><rect x="1142.6" y="2041.7" width="286.3" height="286.3" rx="125.9" fill="#33ffc4"/><rect x="1143.9" y="2042.9" width="283.7" height="283.7" rx="124.2" fill="#39ffbe"/><rect x="1145.2" y="2044.2" width="281.1" height="281.1" rx="122.6" fill="#3fffb8"/><rect x="1146.5" y="2045.5" width="278.6" height="278.6" rx="121" fill="#45ffb1"/><rect x="1147.7" y="2046.8" width="276" height="276" rx="119.3" fill="#4bffab"/><rect x="1149" y="2048" width="273.5" height="273.5" rx="117.7" fill="#51ffa5"/><rect x="1150.3" y="2049.3" width="271" height="271" rx="116.1" fill="#57ff9f"/><rect x="1151.5" y="2050.6" width="268.5" height="268.5" rx="114.4" fill="#5dff99"/><rect x="1152.8" y="2051.8" width="266" height="266" rx="112.8" fill="#63ff93"/><rect x="1154" y="2053.1" width="263.5" height="263.5" rx="111.2" fill="#69ff8d"/><rect x="1155.3" y="2054.3" width="261" height="261" rx="109.6" fill="#6fff88"/><rect x="1156.5" y="2055.5" width="258.5" height="258.5" rx="108" fill="#75ff82"/><rect x="1157.7" y="2056.8" width="256" height="256" rx="106.5" fill="#7bff7c"/><rect x="1159" y="2058" width="253.6" height="253.6" rx="105.3" fill="#81ff76"/><rect x="1160.2" y="2059.2" width="251.1" height="251.1" rx="104.1" fill="#87ff70"/><rect x="1161.4" y="2060.5" width="248.7" height="248.7" rx="103" fill="#8dff69"/><rect x="1162.6" y="2061.7" width="246.2" height="246.2" rx="101.9" fill="#93ff63"/><rect x="1163.8" y="2062.9" width="243.8" height="243.8" rx="100.7" fill="#99ff5d"/><rect x="1165.1" y="2064.1" width="241.4" height="241.4" rx="99.6" fill="#9fff57"/><rect x="1166.3" y="2065.3" width="239" height="239" rx="98.5" fill="#a5ff51"/><rect x="1167.5" y="2066.5" width="236.6" height="236.6" rx="97.4" fill="#abff4b"/><rect x="1168.7" y="2067.7" width="234.2" height="234.2" rx="96.2" fill="#b1ff45"/><rect x="1169.9" y="2068.9" width="231.8" height="231.8" rx="95.1" fill="#b7ff3f"/><rect x="1171" y="2070.1" width="229.4" height="229.4" rx="94" fill="#bdff39"/><rect x="1172.2" y="2071.3" width="227" height="227" rx="92.9" fill="#c3ff34"/><rect x="1173.4" y="2072.5" width="224.7" height="224.7" rx="91.8" fill="#c9ff2e"/><rect x="1174.6" y="2073.7" width="222.3" height="222.3" rx="90.7" fill="#cfff28"/><rect x="1175.8" y="2074.8" width="219.9" height="219.9" rx="89.6" fill="#d5ff22"/><rect x="1177" y="2076" width="217.6" height="217.6" rx="88.5" fill="#dbff1c"/><rect x="1178.1" y="2077.2" width="215.2" height="215.2" rx="87.4" fill="#e1ff16"/><rect x="1179.3" y="2078.3" width="212.9" height="212.9" rx="86.3" fill="#e6ff10"/><rect x="1180.5" y="2079.5" width="210.6" height="210.6" rx="85.2" fill="#ecff0b"/><rect x="1181.6" y="2080.7" width="208.2" height="208.2" rx="84.5" fill="#f4f903"/><rect x="1182.8" y="2081.8" width="205.9" height="205.9" rx="84.1" fill="#fcef00"/><rect x="1183.9" y="2083" width="203.6" height="203.6" rx="83.7" fill="#ffe600"/><rect x="1185.1" y="2084.1" width="201.3" height="201.3" rx="83.2" fill="#ffdc00"/><rect x="1186.2" y="2085.3" width="199" height="199" rx="82.8" fill="#ffd200"/><rect x="1187.4" y="2086.4" width="196.7" height="196.7" rx="82.4" fill="#ffc900"/><rect x="1188.5" y="2087.6" width="194.4" height="194.4" rx="82" fill="#ffbf00"/><rect x="1189.7" y="2088.7" width="192.1" height="192.1" rx="81.6" fill="#ffb600"/><rect x="1190.8" y="2089.9" width="189.9" height="189.9" rx="81.1" fill="#ffac00"/><rect x="1192" y="2091" width="187.6" height="187.6" rx="80.7" fill="#ffa200"/><rect x="1193.1" y="2092.1" width="185.3" height="185.3" rx="80.3" fill="#ff9900"/><rect x="1194.2" y="2093.3" width="183" height="183" rx="79.9" fill="#ff8f00"/><rect x="1195.4" y="2094.4" width="180.8" height="180.8" rx="79.5" fill="#ff8600"/><rect x="1196.5" y="2095.5" width="178.5" height="178.5" rx="78.2" fill="#ff7c00"/><rect x="1197.6" y="2096.7" width="176.3" height="176.3" rx="76.7" fill="#ff7300"/><rect x="1198.7" y="2097.8" width="174" height="174" rx="75.3" fill="#ff6900"/><rect x="1199.9" y="2098.9" width="171.8" height="171.8" rx="73.8" fill="#ff5f00"/><rect x="1201" y="2100" width="169.6" height="169.6" rx="72.3" fill="#ff5600"/><rect x="1202.1" y="2101.1" width="167.3" height="167.3" rx="70.9" fill="#ff4c00"/><rect x="1203.2" y="2102.2" width="165.1" height="165.1" rx="69.4" fill="#ff4200"/><rect x="1204.3" y="2103.4" width="162.9" height="162.9" rx="68" fill="#ff3900"/><rect x="1205.4" y="2104.5" width="160.7" height="160.7" rx="66.5" fill="#ff2f00"/><rect x="1206.5" y="2105.6" width="158.5" height="158.5" rx="63.9" fill="#ff2500"/><rect x="1207.6" y="2106.7" width="156.2" height="156.2" rx="61" fill="#ff1c00"/><rect x="1208.7" y="2107.8" width="154" height="154" rx="58.2" fill="#fe1200"/><rect x="1209.8" y="2108.9" width="151.8" height="151.8" rx="55.3" fill="#f10700"/><rect x="1210.9" y="2110" width="149.6" height="149.6" rx="52.5" fill="#e30000"/><rect x="1212" y="2111.1" width="147.5" height="147.5" rx="49.6" fill="#d50000"/><rect x="1213.1" y="2112.2" width="145.3" height="145.3" rx="45.1" fill="#c80000"/><rect x="1214.2" y="2113.3" width="143.1" height="143.1" rx="39.8" fill="#bb0000"/><rect x="1215.3" y="2114.3" width="140.9" height="140.9" rx="34.6" fill="#af0000"/><rect x="1216.4" y="2115.4" width="138.7" height="138.7" rx="29.3" fill="#a20000"/></g></g>
<rect x="1220.3" y="2127.9" width="130.8" height="113.8" fill="#7e0000"/>
<rect x="1228.9" y="2119.4" width="113.8" height="130.8" fill="#a00000"/>
<g fill="#dc0000" stroke="#000" stroke-width="1.7"><circle cx="1234.5" cy="2119.4" r="8.5"/><circle cx="1234.5" cy="2250.2" r="8.5"/><circle cx="1251.6" cy="2119.4" r="8.5"/><circle cx="1251.6" cy="2250.2" r="8.5"/><circle cx="1268.7" cy="2119.4" r="8.5"/><circle cx="1268.7" cy="2250.2" r="8.5"/><circle cx="1285.8" cy="2119.4" r="8.5"/><circle cx="1285.8" cy="2250.2" r="8.5"/><circle cx="1302.8" cy="2119.4" r="8.5"/><circle cx="1302.8" cy="2250.2" r="8.5"/><circle cx="1319.9" cy="2119.4" r="8.5"/><circle cx="1319.9" cy="2250.2" r="8.5"/><circle cx="1337" cy="2119.4" r="8.5"/><circle cx="1337" cy="2250.2" r="8.5"/></g>
<g fill="#900000" stroke="#000" stroke-width="1.7"><circle cx="1220.3" cy="2133.6" r="8.5"/><circle cx="1351.2" cy="2133.6" r="8.5"/><circle cx="1220.3" cy="2150.6" r="8.5"/><circle cx="1351.2" cy="2150.6" r="8.5"/><circle cx="1220.3" cy="2167.7" r="8.5"/><circle cx="1351.2" cy="2167.7" r="8.5"/><circle cx="1220.3" cy="2184.8" r="8.5"/><circle cx="1351.2" cy="2184.8" r="8.5"/><circle cx="1220.3" cy="2201.9" r="8.5"/><circle cx="1351.2" cy="2201.9" r="8.5"/><circle cx="1220.3" cy="2219" r="8.5"/><circle cx="1351.2" cy="2219" r="8.5"/><circle cx="1220.3" cy="2236" r="8.5"/><circle cx="1351.2" cy="2236" r="8.5"/></g>
<rect x="1230.1" y="2129.2" width="111.3" height="111.3" fill="#a20000" stroke="#000" stroke-width="1.5"/>
<rect x="1250.3" y="2149.3" width="70.9" height="70.9" fill="#aa0000" stroke="#000" stroke-width="2.4"/>
<rect x="1131.6" y="2031" width="308.3" height="307.6" fill="none" stroke="#000" stroke-width="1"/>
<text x="1117.5" y="2037.9" font-size="19" text-anchor="end" class="dj" >100</text>
<text x="1117.5" y="2076.3" font-size="19" text-anchor="end" class="dj" >75</text>
<text x="1117.5" y="2114.8" font-size="19" text-anchor="end" class="dj" >50</text>
<text x="1117.5" y="2153.2" font-size="19" text-anchor="end" class="dj" >25</text>
<text x="1117.5" y="2191.7" font-size="19" text-anchor="end" class="dj" >0</text>
<text x="1117.5" y="2230.2" font-size="19" text-anchor="end" class="dj" >−25</text>
<text x="1117.5" y="2268.6" font-size="19" text-anchor="end" class="dj" >−50</text>
<text x="1117.5" y="2307.1" font-size="19" text-anchor="end" class="dj" >−75</text>
<text x="1117.5" y="2345.5" font-size="19" text-anchor="end" class="dj" >−100</text>
<text x="1131.6" y="2366.5" font-size="19" text-anchor="middle" class="dj" >−100</text>
<text x="1208.7" y="2366.5" font-size="19" text-anchor="middle" class="dj" >−50</text>
<text x="1285.8" y="2366.5" font-size="19" text-anchor="middle" class="dj" >0</text>
<text x="1362.8" y="2366.5" font-size="19" text-anchor="middle" class="dj" >50</text>
<text x="1439.9" y="2366.5" font-size="19" text-anchor="middle" class="dj" >100</text>
<rect x="1459.6" y="2031" width="15.7" height="307.6" fill="url(#jetV)" stroke="#000" stroke-width="1"/>
<text x="1487.3" y="2074.9" font-size="19" class="dj" >800</text>
<text x="1487.3" y="2123.3" font-size="19" class="dj" >700</text>
<text x="1487.3" y="2172.9" font-size="19" class="dj" >600</text>
<text x="1487.3" y="2222.1" font-size="19" class="dj" >500</text>
<text x="1487.3" y="2270.6" font-size="19" class="dj" >400</text>
<text x="1487.3" y="2319.4" font-size="19" class="dj" >300</text>
<path d="M1131.6 2031H1124.6M1131.6 2069.4H1124.6M1131.6 2107.9H1124.6M1131.6 2146.3H1124.6M1131.6 2184.8H1124.6M1131.6 2223.2H1124.6M1131.6 2261.7H1124.6M1131.6 2300.2H1124.6M1131.6 2338.6H1124.6M1131.6 2338.6V2345.6M1208.7 2338.6V2345.6M1285.8 2338.6V2345.6M1362.8 2338.6V2345.6M1439.9 2338.6V2345.6M1475.3 2068H1482.3M1475.3 2116.4H1482.3M1475.3 2166H1482.3M1475.3 2215.2H1482.3M1475.3 2263.7H1482.3M1475.3 2312.5H1482.3" stroke="#000" stroke-width="1.5"/>
<text x="1285.8" y="2393.4" font-size="19" text-anchor="middle" class="dj" >x, nm</text>
<text transform="translate(1054.5 2184.8) rotate(-90)" font-size="19" text-anchor="middle" class="dj">y, nm</text>
<text transform="translate(1546 2184.8) rotate(-90)" font-size="19" text-anchor="middle" font-style="italic" class="dj">T, ˚C</text>
</svg>
</body></html>
